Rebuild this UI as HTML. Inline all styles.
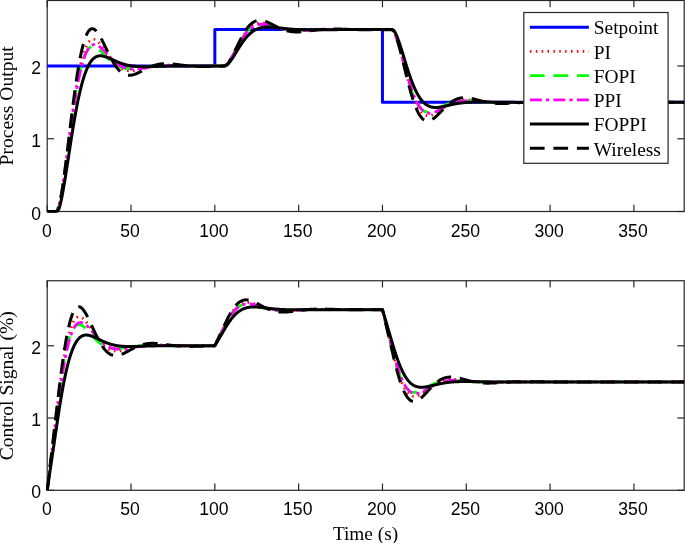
<!DOCTYPE html><html><head><meta charset="utf-8"><style>html,body{margin:0;padding:0;background:#fff;overflow:hidden}svg{display:block;will-change:transform}</style></head><body>
<svg width="685" height="543" viewBox="0 0 685 543">
<rect width="685" height="543" fill="#fff"/>
<defs><clipPath id="ct"><rect x="46.2" y="-0.5" width="639.0" height="213.0"/></clipPath><clipPath id="cb"><rect x="46.2" y="279.8" width="639.0" height="211.6"/></clipPath></defs>
<g stroke="#262626" stroke-width="1.2" fill="none"><line x1="47.20" y1="211.5" x2="47.20" y2="204.7"/><line x1="47.20" y1="0.5" x2="47.20" y2="7.3"/><line x1="131.02" y1="211.5" x2="131.02" y2="204.7"/><line x1="131.02" y1="0.5" x2="131.02" y2="7.3"/><line x1="214.83" y1="211.5" x2="214.83" y2="204.7"/><line x1="214.83" y1="0.5" x2="214.83" y2="7.3"/><line x1="298.65" y1="211.5" x2="298.65" y2="204.7"/><line x1="298.65" y1="0.5" x2="298.65" y2="7.3"/><line x1="382.46" y1="211.5" x2="382.46" y2="204.7"/><line x1="382.46" y1="0.5" x2="382.46" y2="7.3"/><line x1="466.28" y1="211.5" x2="466.28" y2="204.7"/><line x1="466.28" y1="0.5" x2="466.28" y2="7.3"/><line x1="550.09" y1="211.5" x2="550.09" y2="204.7"/><line x1="550.09" y1="0.5" x2="550.09" y2="7.3"/><line x1="633.91" y1="211.5" x2="633.91" y2="204.7"/><line x1="633.91" y1="0.5" x2="633.91" y2="7.3"/><line x1="47.2" y1="211.50" x2="54.0" y2="211.50"/><line x1="684.2" y1="211.50" x2="677.4000000000001" y2="211.50"/><line x1="47.2" y1="138.74" x2="54.0" y2="138.74"/><line x1="684.2" y1="138.74" x2="677.4000000000001" y2="138.74"/><line x1="47.2" y1="65.98" x2="54.0" y2="65.98"/><line x1="684.2" y1="65.98" x2="677.4000000000001" y2="65.98"/><rect x="47.2" y="0.5" width="637.00" height="211.00" fill="none"/></g>
<g stroke="#262626" stroke-width="1.2" fill="none"><line x1="47.20" y1="490.3" x2="47.20" y2="483.5"/><line x1="47.20" y1="280.75" x2="47.20" y2="287.55"/><line x1="131.02" y1="490.3" x2="131.02" y2="483.5"/><line x1="131.02" y1="280.75" x2="131.02" y2="287.55"/><line x1="214.83" y1="490.3" x2="214.83" y2="483.5"/><line x1="214.83" y1="280.75" x2="214.83" y2="287.55"/><line x1="298.65" y1="490.3" x2="298.65" y2="483.5"/><line x1="298.65" y1="280.75" x2="298.65" y2="287.55"/><line x1="382.46" y1="490.3" x2="382.46" y2="483.5"/><line x1="382.46" y1="280.75" x2="382.46" y2="287.55"/><line x1="466.28" y1="490.3" x2="466.28" y2="483.5"/><line x1="466.28" y1="280.75" x2="466.28" y2="287.55"/><line x1="550.09" y1="490.3" x2="550.09" y2="483.5"/><line x1="550.09" y1="280.75" x2="550.09" y2="287.55"/><line x1="633.91" y1="490.3" x2="633.91" y2="483.5"/><line x1="633.91" y1="280.75" x2="633.91" y2="287.55"/><line x1="47.2" y1="490.30" x2="54.0" y2="490.30"/><line x1="684.2" y1="490.30" x2="677.4000000000001" y2="490.30"/><line x1="47.2" y1="418.04" x2="54.0" y2="418.04"/><line x1="684.2" y1="418.04" x2="677.4000000000001" y2="418.04"/><line x1="47.2" y1="345.78" x2="54.0" y2="345.78"/><line x1="684.2" y1="345.78" x2="677.4000000000001" y2="345.78"/><rect x="47.2" y="280.75" width="637.00" height="209.55" fill="none"/></g>
<g fill="none" stroke-linejoin="round" clip-path="url(#ct)">
<path d="M47.20,65.98 L214.83,65.98 L214.83,29.60 L382.46,29.60 L382.46,102.36 L684.20,102.36" style="stroke:#0000ff;stroke-width:3"/>
<path d="M47.20,211.50 L47.62,211.50 L48.04,211.50 L48.46,211.50 L48.88,211.50 L49.30,211.50 L49.71,211.50 L50.13,211.50 L50.55,211.50 L50.97,211.50 L51.39,211.50 L51.81,211.50 L52.23,211.50 L52.65,211.50 L53.07,211.50 L53.49,211.50 L53.91,211.50 L54.32,211.50 L54.74,211.50 L55.16,211.49 L55.58,211.42 L56.00,211.23 L56.42,210.90 L56.84,210.40 L57.26,209.72 L57.68,208.84 L58.10,207.77 L58.52,206.52 L58.93,205.08 L59.35,203.47 L59.77,201.70 L60.19,199.77 L60.61,197.69 L61.03,195.48 L61.45,193.15 L61.87,190.70 L62.29,188.14 L62.71,185.49 L63.12,182.76 L63.54,179.94 L63.96,177.05 L64.38,174.10 L64.80,171.09 L65.22,168.03 L65.64,164.93 L66.06,161.78 L66.48,158.61 L66.90,155.41 L67.32,152.19 L67.73,148.96 L68.15,145.72 L68.57,142.47 L68.99,139.23 L69.41,135.99 L69.83,132.76 L70.25,129.55 L70.67,126.36 L71.09,123.20 L71.51,120.06 L71.93,116.96 L72.34,113.89 L72.76,110.87 L73.18,107.88 L73.60,104.94 L74.02,102.05 L74.44,99.21 L74.86,96.43 L75.28,93.70 L75.70,91.03 L76.12,88.42 L76.54,85.87 L76.95,83.39 L77.37,80.97 L77.79,78.61 L78.21,76.33 L78.63,74.11 L79.05,71.97 L79.47,69.89 L79.89,67.89 L80.31,65.95 L80.73,64.09 L81.15,62.30 L81.56,60.59 L81.98,58.94 L82.40,57.37 L82.82,55.87 L83.24,54.44 L83.66,53.08 L84.08,51.79 L84.50,50.57 L84.92,49.42 L85.34,48.34 L85.76,47.33 L86.17,46.38 L86.59,45.50 L87.01,44.69 L87.43,43.93 L87.85,43.24 L88.27,42.61 L88.69,42.04 L89.11,41.53 L89.53,41.07 L89.95,40.68 L90.37,40.33 L90.78,40.04 L91.20,39.80 L91.62,39.60 L92.04,39.46 L92.46,39.36 L92.88,39.31 L93.30,39.30 L93.72,39.34 L94.14,39.41 L94.56,39.52 L94.97,39.67 L95.39,39.85 L95.81,40.07 L96.23,40.32 L96.65,40.60 L97.07,40.91 L97.49,41.25 L97.91,41.61 L98.33,42.00 L98.75,42.41 L99.17,42.84 L99.58,43.29 L100.00,43.76 L100.42,44.25 L100.84,44.75 L101.26,45.27 L101.68,45.80 L102.10,46.34 L102.52,46.89 L102.94,47.45 L103.36,48.02 L103.78,48.59 L104.19,49.17 L104.61,49.76 L105.03,50.35 L105.45,50.94 L105.87,51.53 L106.29,52.13 L106.71,52.72 L107.13,53.31 L107.55,53.90 L107.97,54.49 L108.39,55.07 L108.80,55.65 L109.22,56.22 L109.64,56.78 L110.06,57.34 L110.48,57.90 L110.90,58.44 L111.32,58.97 L111.74,59.50 L112.16,60.02 L112.58,60.53 L113.00,61.02 L113.41,61.51 L113.83,61.98 L114.25,62.45 L114.67,62.90 L115.09,63.34 L115.51,63.76 L115.93,64.18 L116.35,64.58 L116.77,64.97 L117.19,65.35 L117.61,65.71 L118.02,66.06 L118.44,66.40 L118.86,66.72 L119.28,67.04 L119.70,67.33 L120.12,67.62 L120.54,67.89 L120.96,68.15 L121.38,68.39 L121.80,68.63 L122.22,68.85 L122.63,69.05 L123.05,69.25 L123.47,69.43 L123.89,69.60 L124.31,69.76 L124.73,69.91 L125.15,70.04 L125.57,70.17 L125.99,70.28 L126.41,70.38 L126.83,70.47 L127.24,70.55 L127.66,70.62 L128.08,70.68 L128.50,70.74 L128.92,70.78 L129.34,70.81 L129.76,70.84 L130.18,70.85 L130.60,70.86 L131.02,70.86 L131.43,70.85 L131.85,70.84 L132.27,70.81 L132.69,70.79 L133.11,70.75 L133.53,70.71 L133.95,70.66 L134.37,70.61 L134.79,70.55 L135.21,70.49 L135.63,70.42 L136.04,70.35 L136.46,70.28 L136.88,70.20 L137.30,70.11 L137.72,70.03 L138.14,69.94 L138.56,69.84 L138.98,69.75 L139.40,69.65 L139.82,69.55 L140.24,69.45 L140.65,69.35 L141.07,69.24 L141.49,69.14 L141.91,69.03 L142.33,68.93 L142.75,68.82 L143.17,68.71 L143.59,68.60 L144.01,68.49 L144.43,68.38 L144.85,68.28 L145.26,68.17 L145.68,68.06 L146.10,67.96 L146.52,67.85 L146.94,67.75 L147.36,67.64 L147.78,67.54 L148.20,67.44 L148.62,67.34 L149.04,67.24 L149.46,67.15 L149.87,67.05 L150.29,66.96 L150.71,66.87 L151.13,66.78 L151.55,66.70 L151.97,66.61 L152.39,66.53 L152.81,66.45 L153.23,66.37 L153.65,66.30 L154.07,66.22 L154.48,66.15 L154.90,66.08 L155.32,66.02 L155.74,65.95 L156.16,65.89 L156.58,65.83 L157.00,65.78 L157.42,65.72 L157.84,65.67 L158.26,65.62 L158.68,65.58 L159.09,65.53 L159.51,65.49 L159.93,65.45 L160.35,65.41 L160.77,65.38 L161.19,65.35 L161.61,65.31 L162.03,65.29 L162.45,65.26 L162.87,65.24 L163.28,65.21 L163.70,65.19 L164.12,65.18 L164.54,65.16 L164.96,65.14 L165.38,65.13 L165.80,65.12 L166.22,65.11 L166.64,65.10 L167.06,65.10 L167.48,65.09 L167.89,65.09 L168.31,65.09 L168.73,65.09 L169.15,65.09 L169.57,65.10 L169.99,65.10 L170.41,65.11 L170.83,65.11 L171.25,65.12 L171.67,65.13 L172.09,65.14 L172.50,65.15 L172.92,65.16 L173.34,65.17 L173.76,65.19 L174.18,65.20 L174.60,65.22 L175.02,65.23 L175.44,65.25 L175.86,65.26 L176.28,65.28 L176.70,65.30 L177.11,65.32 L177.53,65.33 L177.95,65.35 L178.37,65.37 L178.79,65.39 L179.21,65.41 L179.63,65.43 L180.05,65.45 L180.47,65.47 L180.89,65.49 L181.31,65.51 L181.72,65.53 L182.14,65.55 L182.56,65.57 L182.98,65.59 L183.40,65.61 L183.82,65.63 L184.24,65.65 L184.66,65.66 L185.08,65.68 L185.50,65.70 L185.92,65.72 L186.33,65.74 L186.75,65.76 L187.17,65.77 L187.59,65.79 L188.01,65.81 L188.43,65.82 L188.85,65.84 L189.27,65.86 L189.69,65.87 L190.11,65.89 L190.52,65.90 L190.94,65.91 L191.36,65.93 L191.78,65.94 L192.20,65.95 L192.62,65.97 L193.04,65.98 L193.46,65.99 L193.88,66.00 L194.30,66.01 L194.72,66.02 L195.13,66.03 L195.55,66.04 L195.97,66.05 L196.39,66.06 L196.81,66.07 L197.23,66.07 L197.65,66.08 L198.07,66.09 L198.49,66.09 L198.91,66.10 L199.33,66.11 L199.74,66.11 L200.16,66.12 L200.58,66.12 L201.00,66.12 L201.42,66.13 L201.84,66.13 L202.26,66.13 L202.68,66.14 L203.10,66.14 L203.52,66.14 L203.94,66.14 L204.35,66.14 L204.77,66.14 L205.19,66.15 L205.61,66.15 L206.03,66.15 L206.45,66.15 L206.87,66.15 L207.29,66.14 L207.71,66.14 L208.13,66.14 L208.55,66.14 L208.96,66.14 L209.38,66.14 L209.80,66.14 L210.22,66.13 L210.64,66.13 L211.06,66.13 L211.48,66.13 L211.90,66.13 L212.32,66.12 L212.74,66.12 L213.16,66.12 L213.57,66.11 L213.99,66.11 L214.41,66.11 L214.83,66.10 L215.25,66.10 L215.67,66.10 L216.09,66.09 L216.51,66.09 L216.93,66.09 L217.35,66.08 L217.77,66.08 L218.18,66.08 L218.60,66.07 L219.02,66.07 L219.44,66.07 L219.86,66.06 L220.28,66.06 L220.70,66.05 L221.12,66.05 L221.54,66.05 L221.96,66.04 L222.38,66.04 L222.79,66.03 L223.21,66.01 L223.63,65.96 L224.05,65.88 L224.47,65.75 L224.89,65.57 L225.31,65.35 L225.73,65.08 L226.15,64.77 L226.57,64.40 L226.98,64.00 L227.40,63.55 L227.82,63.07 L228.24,62.54 L228.66,61.99 L229.08,61.40 L229.50,60.79 L229.92,60.15 L230.34,59.48 L230.76,58.80 L231.18,58.09 L231.59,57.37 L232.01,56.63 L232.43,55.87 L232.85,55.11 L233.27,54.33 L233.69,53.54 L234.11,52.75 L234.53,51.94 L234.95,51.14 L235.37,50.33 L235.79,49.52 L236.20,48.70 L236.62,47.89 L237.04,47.08 L237.46,46.27 L237.88,45.47 L238.30,44.67 L238.72,43.88 L239.14,43.10 L239.56,42.32 L239.98,41.55 L240.40,40.80 L240.81,40.05 L241.23,39.31 L241.65,38.59 L242.07,37.88 L242.49,37.19 L242.91,36.50 L243.33,35.84 L243.75,35.18 L244.17,34.55 L244.59,33.92 L245.01,33.32 L245.42,32.73 L245.84,32.16 L246.26,31.61 L246.68,31.07 L247.10,30.55 L247.52,30.05 L247.94,29.57 L248.36,29.10 L248.78,28.66 L249.20,28.23 L249.62,27.82 L250.03,27.42 L250.45,27.05 L250.87,26.69 L251.29,26.35 L251.71,26.03 L252.13,25.73 L252.55,25.44 L252.97,25.17 L253.39,24.92 L253.81,24.68 L254.23,24.46 L254.64,24.26 L255.06,24.07 L255.48,23.90 L255.90,23.74 L256.32,23.60 L256.74,23.47 L257.16,23.36 L257.58,23.26 L258.00,23.18 L258.42,23.10 L258.83,23.04 L259.25,23.00 L259.67,22.96 L260.09,22.94 L260.51,22.93 L260.93,22.92 L261.35,22.93 L261.77,22.95 L262.19,22.98 L262.61,23.02 L263.03,23.06 L263.44,23.12 L263.86,23.18 L264.28,23.25 L264.70,23.33 L265.12,23.42 L265.54,23.51 L265.96,23.60 L266.38,23.71 L266.80,23.82 L267.22,23.93 L267.64,24.05 L268.05,24.17 L268.47,24.29 L268.89,24.42 L269.31,24.56 L269.73,24.69 L270.15,24.83 L270.57,24.97 L270.99,25.11 L271.41,25.26 L271.83,25.40 L272.25,25.55 L272.66,25.70 L273.08,25.85 L273.50,25.99 L273.92,26.14 L274.34,26.29 L274.76,26.44 L275.18,26.59 L275.60,26.73 L276.02,26.88 L276.44,27.02 L276.86,27.17 L277.27,27.31 L277.69,27.45 L278.11,27.59 L278.53,27.72 L278.95,27.86 L279.37,27.99 L279.79,28.12 L280.21,28.24 L280.63,28.37 L281.05,28.49 L281.47,28.61 L281.88,28.72 L282.30,28.84 L282.72,28.95 L283.14,29.05 L283.56,29.16 L283.98,29.26 L284.40,29.36 L284.82,29.45 L285.24,29.54 L285.66,29.63 L286.07,29.71 L286.49,29.79 L286.91,29.87 L287.33,29.95 L287.75,30.02 L288.17,30.08 L288.59,30.15 L289.01,30.21 L289.43,30.27 L289.85,30.32 L290.27,30.38 L290.68,30.42 L291.10,30.47 L291.52,30.51 L291.94,30.55 L292.36,30.59 L292.78,30.62 L293.20,30.65 L293.62,30.68 L294.04,30.71 L294.46,30.73 L294.88,30.75 L295.29,30.77 L295.71,30.78 L296.13,30.79 L296.55,30.80 L296.97,30.81 L297.39,30.82 L297.81,30.82 L298.23,30.82 L298.65,30.82 L299.07,30.82 L299.49,30.82 L299.90,30.81 L300.32,30.81 L300.74,30.80 L301.16,30.79 L301.58,30.77 L302.00,30.76 L302.42,30.75 L302.84,30.73 L303.26,30.71 L303.68,30.70 L304.10,30.68 L304.51,30.66 L304.93,30.64 L305.35,30.61 L305.77,30.59 L306.19,30.57 L306.61,30.55 L307.03,30.52 L307.45,30.50 L307.87,30.47 L308.29,30.44 L308.71,30.42 L309.12,30.39 L309.54,30.37 L309.96,30.34 L310.38,30.31 L310.80,30.28 L311.22,30.26 L311.64,30.23 L312.06,30.20 L312.48,30.18 L312.90,30.15 L313.32,30.12 L313.73,30.10 L314.15,30.07 L314.57,30.04 L314.99,30.02 L315.41,29.99 L315.83,29.97 L316.25,29.94 L316.67,29.92 L317.09,29.89 L317.51,29.87 L317.93,29.85 L318.34,29.82 L318.76,29.80 L319.18,29.78 L319.60,29.76 L320.02,29.74 L320.44,29.72 L320.86,29.70 L321.28,29.68 L321.70,29.66 L322.12,29.64 L322.53,29.63 L322.95,29.61 L323.37,29.60 L323.79,29.58 L324.21,29.57 L324.63,29.55 L325.05,29.54 L325.47,29.53 L325.89,29.51 L326.31,29.50 L326.73,29.49 L327.14,29.48 L327.56,29.47 L327.98,29.46 L328.40,29.45 L328.82,29.44 L329.24,29.44 L329.66,29.43 L330.08,29.42 L330.50,29.42 L330.92,29.41 L331.34,29.41 L331.75,29.40 L332.17,29.40 L332.59,29.39 L333.01,29.39 L333.43,29.39 L333.85,29.39 L334.27,29.38 L334.69,29.38 L335.11,29.38 L335.53,29.38 L335.95,29.38 L336.36,29.38 L336.78,29.38 L337.20,29.38 L337.62,29.38 L338.04,29.38 L338.46,29.39 L338.88,29.39 L339.30,29.39 L339.72,29.39 L340.14,29.40 L340.56,29.40 L340.97,29.40 L341.39,29.40 L341.81,29.41 L342.23,29.41 L342.65,29.42 L343.07,29.42 L343.49,29.42 L343.91,29.43 L344.33,29.43 L344.75,29.44 L345.17,29.44 L345.58,29.45 L346.00,29.45 L346.42,29.46 L346.84,29.46 L347.26,29.47 L347.68,29.47 L348.10,29.48 L348.52,29.48 L348.94,29.48 L349.36,29.49 L349.77,29.49 L350.19,29.50 L350.61,29.50 L351.03,29.51 L351.45,29.51 L351.87,29.52 L352.29,29.52 L352.71,29.53 L353.13,29.53 L353.55,29.54 L353.97,29.54 L354.38,29.55 L354.80,29.55 L355.22,29.56 L355.64,29.56 L356.06,29.56 L356.48,29.57 L356.90,29.57 L357.32,29.58 L357.74,29.58 L358.16,29.58 L358.58,29.59 L358.99,29.59 L359.41,29.59 L359.83,29.60 L360.25,29.60 L360.67,29.60 L361.09,29.61 L361.51,29.61 L361.93,29.61 L362.35,29.61 L362.77,29.62 L363.19,29.62 L363.60,29.62 L364.02,29.62 L364.44,29.62 L364.86,29.63 L365.28,29.63 L365.70,29.63 L366.12,29.63 L366.54,29.63 L366.96,29.63 L367.38,29.64 L367.80,29.64 L368.21,29.64 L368.63,29.64 L369.05,29.64 L369.47,29.64 L369.89,29.64 L370.31,29.64 L370.73,29.64 L371.15,29.64 L371.57,29.64 L371.99,29.64 L372.41,29.64 L372.82,29.64 L373.24,29.64 L373.66,29.64 L374.08,29.64 L374.50,29.64 L374.92,29.64 L375.34,29.64 L375.76,29.64 L376.18,29.64 L376.60,29.64 L377.02,29.64 L377.43,29.64 L377.85,29.64 L378.27,29.64 L378.69,29.64 L379.11,29.64 L379.53,29.64 L379.95,29.64 L380.37,29.64 L380.79,29.64 L381.21,29.64 L381.62,29.64 L382.04,29.63 L382.46,29.63 L382.88,29.63 L383.30,29.63 L383.72,29.63 L384.14,29.63 L384.56,29.63 L384.98,29.63 L385.40,29.63 L385.82,29.63 L386.23,29.63 L386.65,29.62 L387.07,29.62 L387.49,29.62 L387.91,29.62 L388.33,29.62 L388.75,29.62 L389.17,29.62 L389.59,29.62 L390.01,29.62 L390.43,29.62 L390.84,29.66 L391.26,29.75 L391.68,29.91 L392.10,30.16 L392.52,30.50 L392.94,30.94 L393.36,31.47 L393.78,32.10 L394.20,32.82 L394.62,33.62 L395.04,34.51 L395.45,35.47 L395.87,36.51 L396.29,37.62 L396.71,38.78 L397.13,40.01 L397.55,41.28 L397.97,42.61 L398.39,43.98 L398.81,45.38 L399.23,46.83 L399.65,48.30 L400.06,49.81 L400.48,51.34 L400.90,52.89 L401.32,54.46 L401.74,56.05 L402.16,57.64 L402.58,59.25 L403.00,60.87 L403.42,62.49 L403.84,64.11 L404.26,65.74 L404.67,67.35 L405.09,68.97 L405.51,70.57 L405.93,72.16 L406.35,73.75 L406.77,75.31 L407.19,76.87 L407.61,78.40 L408.03,79.91 L408.45,81.41 L408.87,82.87 L409.28,84.32 L409.70,85.74 L410.12,87.13 L410.54,88.50 L410.96,89.83 L411.38,91.14 L411.80,92.41 L412.22,93.65 L412.64,94.86 L413.06,96.04 L413.47,97.18 L413.89,98.29 L414.31,99.36 L414.73,100.40 L415.15,101.40 L415.57,102.37 L415.99,103.30 L416.41,104.20 L416.83,105.05 L417.25,105.88 L417.67,106.66 L418.08,107.41 L418.50,108.13 L418.92,108.81 L419.34,109.45 L419.76,110.06 L420.18,110.64 L420.60,111.18 L421.02,111.68 L421.44,112.16 L421.86,112.60 L422.28,113.01 L422.69,113.38 L423.11,113.73 L423.53,114.04 L423.95,114.33 L424.37,114.58 L424.79,114.81 L425.21,115.01 L425.63,115.18 L426.05,115.33 L426.47,115.45 L426.89,115.55 L427.30,115.62 L427.72,115.67 L428.14,115.69 L428.56,115.70 L428.98,115.68 L429.40,115.65 L429.82,115.59 L430.24,115.52 L430.66,115.43 L431.08,115.32 L431.50,115.19 L431.91,115.05 L432.33,114.90 L432.75,114.73 L433.17,114.55 L433.59,114.35 L434.01,114.15 L434.43,113.93 L434.85,113.71 L435.27,113.47 L435.69,113.23 L436.11,112.98 L436.52,112.72 L436.94,112.46 L437.36,112.19 L437.78,111.91 L438.20,111.63 L438.62,111.34 L439.04,111.06 L439.46,110.77 L439.88,110.47 L440.30,110.18 L440.72,109.88 L441.13,109.59 L441.55,109.29 L441.97,108.99 L442.39,108.70 L442.81,108.40 L443.23,108.11 L443.65,107.82 L444.07,107.53 L444.49,107.25 L444.91,106.96 L445.32,106.68 L445.74,106.41 L446.16,106.13 L446.58,105.87 L447.00,105.60 L447.42,105.35 L447.84,105.09 L448.26,104.84 L448.68,104.60 L449.10,104.36 L449.52,104.13 L449.93,103.91 L450.35,103.69 L450.77,103.47 L451.19,103.27 L451.61,103.06 L452.03,102.87 L452.45,102.68 L452.87,102.50 L453.29,102.32 L453.71,102.15 L454.13,101.99 L454.54,101.84 L454.96,101.69 L455.38,101.55 L455.80,101.41 L456.22,101.28 L456.64,101.16 L457.06,101.04 L457.48,100.93 L457.90,100.83 L458.32,100.73 L458.74,100.64 L459.15,100.55 L459.57,100.47 L459.99,100.40 L460.41,100.33 L460.83,100.27 L461.25,100.22 L461.67,100.16 L462.09,100.12 L462.51,100.08 L462.93,100.04 L463.35,100.01 L463.76,99.99 L464.18,99.97 L464.60,99.95 L465.02,99.94 L465.44,99.93 L465.86,99.92 L466.28,99.92 L466.70,99.93 L467.12,99.94 L467.54,99.95 L467.96,99.96 L468.37,99.98 L468.79,100.00 L469.21,100.02 L469.63,100.05 L470.05,100.08 L470.47,100.11 L470.89,100.14 L471.31,100.18 L471.73,100.22 L472.15,100.26 L472.57,100.30 L472.98,100.34 L473.40,100.39 L473.82,100.43 L474.24,100.48 L474.66,100.53 L475.08,100.58 L475.50,100.63 L475.92,100.68 L476.34,100.73 L476.76,100.78 L477.18,100.84 L477.59,100.89 L478.01,100.94 L478.43,101.00 L478.85,101.05 L479.27,101.11 L479.69,101.16 L480.11,101.22 L480.53,101.27 L480.95,101.32 L481.37,101.38 L481.78,101.43 L482.20,101.48 L482.62,101.53 L483.04,101.58 L483.46,101.63 L483.88,101.68 L484.30,101.73 L484.72,101.78 L485.14,101.83 L485.56,101.87 L485.98,101.92 L486.39,101.96 L486.81,102.01 L487.23,102.05 L487.65,102.09 L488.07,102.13 L488.49,102.17 L488.91,102.20 L489.33,102.24 L489.75,102.28 L490.17,102.31 L490.59,102.34 L491.00,102.38 L491.42,102.41 L491.84,102.44 L492.26,102.46 L492.68,102.49 L493.10,102.52 L493.52,102.54 L493.94,102.56 L494.36,102.59 L494.78,102.61 L495.20,102.63 L495.61,102.65 L496.03,102.66 L496.45,102.68 L496.87,102.70 L497.29,102.71 L497.71,102.72 L498.13,102.74 L498.55,102.75 L498.97,102.76 L499.39,102.77 L499.81,102.77 L500.22,102.78 L500.64,102.79 L501.06,102.79 L501.48,102.80 L501.90,102.80 L502.32,102.80 L502.74,102.81 L503.16,102.81 L503.58,102.81 L504.00,102.81 L504.42,102.81 L504.83,102.81 L505.25,102.80 L505.67,102.80 L506.09,102.80 L506.51,102.79 L506.93,102.79 L507.35,102.78 L507.77,102.78 L508.19,102.77 L508.61,102.77 L509.02,102.76 L509.44,102.75 L509.86,102.75 L510.28,102.74 L510.70,102.73 L511.12,102.72 L511.54,102.71 L511.96,102.70 L512.38,102.70 L512.80,102.69 L513.22,102.68 L513.63,102.67 L514.05,102.66 L514.47,102.65 L514.89,102.64 L515.31,102.63 L515.73,102.62 L516.15,102.61 L516.57,102.60 L516.99,102.59 L517.41,102.58 L517.83,102.57 L518.24,102.56 L518.66,102.55 L519.08,102.54 L519.50,102.53 L519.92,102.52 L520.34,102.51 L520.76,102.50 L521.18,102.49 L521.60,102.48 L522.02,102.48 L522.44,102.47 L522.85,102.46 L523.27,102.45 L523.69,102.44 L524.11,102.43 L524.53,102.43 L524.95,102.42 L525.37,102.41 L525.79,102.40 L526.21,102.40 L526.63,102.39 L527.05,102.38 L527.46,102.38 L527.88,102.37 L528.30,102.36 L528.72,102.36 L529.14,102.35 L529.56,102.35 L529.98,102.34 L530.40,102.34 L530.82,102.33 L531.24,102.33 L531.66,102.32 L532.07,102.32 L532.49,102.32 L532.91,102.31 L533.33,102.31 L533.75,102.31 L534.17,102.30 L534.59,102.30 L535.01,102.30 L535.43,102.30 L535.85,102.29 L536.27,102.29 L536.68,102.29 L537.10,102.29 L537.52,102.29 L537.94,102.29 L538.36,102.28 L538.78,102.28 L539.20,102.28 L539.62,102.28 L540.04,102.28 L540.46,102.28 L540.88,102.28 L541.29,102.28 L541.71,102.28 L542.13,102.28 L542.55,102.28 L542.97,102.28 L543.39,102.28 L543.81,102.28 L544.23,102.28 L544.65,102.28 L545.07,102.29 L545.48,102.29 L545.90,102.29 L546.32,102.29 L546.74,102.29 L547.16,102.29 L547.58,102.29 L548.00,102.29 L548.42,102.30 L548.84,102.30 L549.26,102.30 L549.68,102.30 L550.09,102.30 L550.51,102.30 L550.93,102.30 L551.35,102.31 L551.77,102.31 L552.19,102.31 L552.61,102.31 L553.03,102.31 L553.45,102.32 L553.87,102.32 L554.29,102.32 L554.70,102.32 L555.12,102.32 L555.54,102.32 L555.96,102.33 L556.38,102.33 L556.80,102.33 L557.22,102.33 L557.64,102.33 L558.06,102.34 L558.48,102.34 L558.90,102.34 L559.31,102.34 L559.73,102.34 L560.15,102.34 L560.57,102.34 L560.99,102.35 L561.41,102.35 L561.83,102.35 L562.25,102.35 L562.67,102.35 L563.09,102.35 L563.51,102.35 L563.92,102.36 L564.34,102.36 L564.76,102.36 L565.18,102.36 L565.60,102.36 L566.02,102.36 L566.44,102.36 L566.86,102.36 L567.28,102.36 L567.70,102.37 L568.12,102.37 L568.53,102.37 L568.95,102.37 L569.37,102.37 L569.79,102.37 L570.21,102.37 L570.63,102.37 L571.05,102.37 L571.47,102.37 L571.89,102.37 L572.31,102.37 L572.73,102.37 L573.14,102.37 L573.56,102.37 L573.98,102.38 L574.40,102.38 L574.82,102.38 L575.24,102.38 L575.66,102.38 L576.08,102.38 L576.50,102.38 L576.92,102.38 L577.33,102.38 L577.75,102.38 L578.17,102.38 L578.59,102.38 L579.01,102.38 L579.43,102.38 L579.85,102.38 L580.27,102.38 L580.69,102.38 L581.11,102.38 L581.53,102.38 L581.94,102.38 L582.36,102.38 L582.78,102.38 L583.20,102.38 L583.62,102.38 L584.04,102.38 L584.46,102.38 L584.88,102.38 L585.30,102.37 L585.72,102.37 L586.14,102.37 L586.55,102.37 L586.97,102.37 L587.39,102.37 L587.81,102.37 L588.23,102.37 L588.65,102.37 L589.07,102.37 L589.49,102.37 L589.91,102.37 L590.33,102.37 L590.75,102.37 L591.16,102.37 L591.58,102.37 L592.00,102.37 L592.42,102.37 L592.84,102.37 L593.26,102.37 L593.68,102.37 L594.10,102.37 L594.52,102.37 L594.94,102.37 L595.36,102.37 L595.77,102.37 L596.19,102.37 L596.61,102.37 L597.03,102.37 L597.45,102.37 L597.87,102.37 L598.29,102.37 L598.71,102.36 L599.13,102.36 L599.55,102.36 L599.97,102.36 L600.38,102.36 L600.80,102.36 L601.22,102.36 L601.64,102.36 L602.06,102.36 L602.48,102.36 L602.90,102.36 L603.32,102.36 L603.74,102.36 L604.16,102.36 L604.58,102.36 L604.99,102.36 L605.41,102.36 L605.83,102.36 L606.25,102.36 L606.67,102.36 L607.09,102.36 L607.51,102.36 L607.93,102.36 L608.35,102.36 L608.77,102.36 L609.18,102.36 L609.60,102.36 L610.02,102.36 L610.44,102.36 L610.86,102.36 L611.28,102.36 L611.70,102.36 L612.12,102.36 L612.54,102.36 L612.96,102.36 L613.38,102.36 L613.79,102.36 L614.21,102.36 L614.63,102.36 L615.05,102.36 L615.47,102.36 L615.89,102.36 L616.31,102.36 L616.73,102.36 L617.15,102.36 L617.57,102.36 L617.99,102.36 L618.40,102.36 L618.82,102.36 L619.24,102.36 L619.66,102.36 L620.08,102.36 L620.50,102.36 L620.92,102.36 L621.34,102.36 L621.76,102.36 L622.18,102.36 L622.60,102.36 L623.01,102.36 L623.43,102.36 L623.85,102.36 L624.27,102.36 L624.69,102.36 L625.11,102.36 L625.53,102.36 L625.95,102.36 L626.37,102.36 L626.79,102.36 L627.21,102.36 L627.62,102.36 L628.04,102.36 L628.46,102.36 L628.88,102.36 L629.30,102.36 L629.72,102.36 L630.14,102.36 L630.56,102.36 L630.98,102.36 L631.40,102.36 L631.82,102.36 L632.23,102.36 L632.65,102.36 L633.07,102.36 L633.49,102.36 L633.91,102.36 L634.33,102.36 L634.75,102.36 L635.17,102.36 L635.59,102.36 L636.01,102.36 L636.43,102.36 L636.84,102.36 L637.26,102.36 L637.68,102.36 L638.10,102.36 L638.52,102.36 L638.94,102.36 L639.36,102.36 L639.78,102.36 L640.20,102.36 L640.62,102.36 L641.03,102.36 L641.45,102.36 L641.87,102.36 L642.29,102.36 L642.71,102.36 L643.13,102.36 L643.55,102.36 L643.97,102.36 L644.39,102.36 L644.81,102.36 L645.23,102.36 L645.64,102.36 L646.06,102.36 L646.48,102.36 L646.90,102.36 L647.32,102.36 L647.74,102.36 L648.16,102.36 L648.58,102.36 L649.00,102.36 L649.42,102.36 L649.84,102.36 L650.25,102.36 L650.67,102.36 L651.09,102.36 L651.51,102.36 L651.93,102.36 L652.35,102.36 L652.77,102.36 L653.19,102.36 L653.61,102.36 L654.03,102.36 L654.45,102.36 L654.86,102.36 L655.28,102.36 L655.70,102.36 L656.12,102.36 L656.54,102.36 L656.96,102.36 L657.38,102.36 L657.80,102.36 L658.22,102.36 L658.64,102.36 L659.06,102.36 L659.47,102.36 L659.89,102.36 L660.31,102.36 L660.73,102.36 L661.15,102.36 L661.57,102.36 L661.99,102.36 L662.41,102.36 L662.83,102.36 L663.25,102.36 L663.67,102.36 L664.08,102.36 L664.50,102.36 L664.92,102.36 L665.34,102.36 L665.76,102.36 L666.18,102.36 L666.60,102.36 L667.02,102.36 L667.44,102.36 L667.86,102.36 L668.28,102.36 L668.69,102.36 L669.11,102.36 L669.53,102.36 L669.95,102.36 L670.37,102.36 L670.79,102.36 L671.21,102.36 L671.63,102.36 L672.05,102.36 L672.47,102.36 L672.88,102.36 L673.30,102.36 L673.72,102.36 L674.14,102.36 L674.56,102.36 L674.98,102.36 L675.40,102.36 L675.82,102.36 L676.24,102.36 L676.66,102.36 L677.08,102.36 L677.49,102.36 L677.91,102.36 L678.33,102.36 L678.75,102.36 L679.17,102.36 L679.59,102.36 L680.01,102.36 L680.43,102.36 L680.85,102.36 L681.27,102.36 L681.69,102.36 L682.10,102.36 L682.52,102.36 L682.94,102.36 L683.36,102.36 L683.78,102.36 L684.20,102.36" style="stroke:#ff0000;stroke-width:2.8;stroke-dasharray:1.5 4.375"/>
<path d="M47.20,211.50 L47.62,211.50 L48.04,211.50 L48.46,211.50 L48.88,211.50 L49.30,211.50 L49.71,211.50 L50.13,211.50 L50.55,211.50 L50.97,211.50 L51.39,211.50 L51.81,211.50 L52.23,211.50 L52.65,211.50 L53.07,211.50 L53.49,211.50 L53.91,211.50 L54.32,211.50 L54.74,211.50 L55.16,211.50 L55.58,211.44 L56.00,211.28 L56.42,210.97 L56.84,210.48 L57.26,209.80 L57.68,208.93 L58.10,207.86 L58.52,206.59 L58.93,205.13 L59.35,203.50 L59.77,201.69 L60.19,199.72 L60.61,197.61 L61.03,195.36 L61.45,192.99 L61.87,190.50 L62.29,187.90 L62.71,185.21 L63.12,182.43 L63.54,179.58 L63.96,176.65 L64.38,173.67 L64.80,170.62 L65.22,167.54 L65.64,164.41 L66.06,161.24 L66.48,158.05 L66.90,154.85 L67.32,151.62 L67.73,148.39 L68.15,145.16 L68.57,141.94 L68.99,138.72 L69.41,135.52 L69.83,132.34 L70.25,129.18 L70.67,126.06 L71.09,122.96 L71.51,119.91 L71.93,116.90 L72.34,113.93 L72.76,111.01 L73.18,108.14 L73.60,105.32 L74.02,102.56 L74.44,99.86 L74.86,97.23 L75.28,94.65 L75.70,92.14 L76.12,89.69 L76.54,87.32 L76.95,85.01 L77.37,82.77 L77.79,80.60 L78.21,78.50 L78.63,76.48 L79.05,74.52 L79.47,72.64 L79.89,70.83 L80.31,69.10 L80.73,67.43 L81.15,65.84 L81.56,64.32 L81.98,62.87 L82.40,61.49 L82.82,60.19 L83.24,58.95 L83.66,57.77 L84.08,56.67 L84.50,55.63 L84.92,54.65 L85.34,53.74 L85.76,52.90 L86.17,52.11 L86.59,51.38 L87.01,50.71 L87.43,50.10 L87.85,49.54 L88.27,49.04 L88.69,48.59 L89.11,48.19 L89.53,47.84 L89.95,47.54 L90.37,47.29 L90.78,47.08 L91.20,46.91 L91.62,46.78 L92.04,46.69 L92.46,46.64 L92.88,46.63 L93.30,46.65 L93.72,46.71 L94.14,46.80 L94.56,46.91 L94.97,47.06 L95.39,47.23 L95.81,47.43 L96.23,47.65 L96.65,47.90 L97.07,48.16 L97.49,48.45 L97.91,48.75 L98.33,49.07 L98.75,49.41 L99.17,49.76 L99.58,50.12 L100.00,50.50 L100.42,50.88 L100.84,51.28 L101.26,51.68 L101.68,52.09 L102.10,52.51 L102.52,52.93 L102.94,53.36 L103.36,53.78 L103.78,54.22 L104.19,54.65 L104.61,55.08 L105.03,55.52 L105.45,55.95 L105.87,56.38 L106.29,56.81 L106.71,57.24 L107.13,57.66 L107.55,58.08 L107.97,58.49 L108.39,58.90 L108.80,59.30 L109.22,59.70 L109.64,60.09 L110.06,60.47 L110.48,60.85 L110.90,61.21 L111.32,61.57 L111.74,61.92 L112.16,62.27 L112.58,62.60 L113.00,62.93 L113.41,63.24 L113.83,63.55 L114.25,63.84 L114.67,64.13 L115.09,64.41 L115.51,64.68 L115.93,64.94 L116.35,65.19 L116.77,65.43 L117.19,65.65 L117.61,65.87 L118.02,66.08 L118.44,66.28 L118.86,66.48 L119.28,66.66 L119.70,66.83 L120.12,66.99 L120.54,67.15 L120.96,67.29 L121.38,67.43 L121.80,67.55 L122.22,67.67 L122.63,67.78 L123.05,67.89 L123.47,67.98 L123.89,68.07 L124.31,68.15 L124.73,68.22 L125.15,68.28 L125.57,68.34 L125.99,68.39 L126.41,68.44 L126.83,68.47 L127.24,68.51 L127.66,68.53 L128.08,68.55 L128.50,68.57 L128.92,68.58 L129.34,68.58 L129.76,68.58 L130.18,68.58 L130.60,68.57 L131.02,68.55 L131.43,68.54 L131.85,68.52 L132.27,68.49 L132.69,68.46 L133.11,68.43 L133.53,68.40 L133.95,68.36 L134.37,68.32 L134.79,68.28 L135.21,68.24 L135.63,68.19 L136.04,68.14 L136.46,68.09 L136.88,68.04 L137.30,67.99 L137.72,67.94 L138.14,67.88 L138.56,67.83 L138.98,67.77 L139.40,67.71 L139.82,67.66 L140.24,67.60 L140.65,67.54 L141.07,67.48 L141.49,67.42 L141.91,67.37 L142.33,67.31 L142.75,67.25 L143.17,67.19 L143.59,67.14 L144.01,67.08 L144.43,67.02 L144.85,66.97 L145.26,66.91 L145.68,66.86 L146.10,66.81 L146.52,66.75 L146.94,66.70 L147.36,66.65 L147.78,66.60 L148.20,66.56 L148.62,66.51 L149.04,66.46 L149.46,66.42 L149.87,66.38 L150.29,66.33 L150.71,66.29 L151.13,66.25 L151.55,66.22 L151.97,66.18 L152.39,66.14 L152.81,66.11 L153.23,66.08 L153.65,66.05 L154.07,66.01 L154.48,65.99 L154.90,65.96 L155.32,65.93 L155.74,65.91 L156.16,65.88 L156.58,65.86 L157.00,65.84 L157.42,65.82 L157.84,65.80 L158.26,65.78 L158.68,65.77 L159.09,65.75 L159.51,65.74 L159.93,65.72 L160.35,65.71 L160.77,65.70 L161.19,65.69 L161.61,65.68 L162.03,65.67 L162.45,65.66 L162.87,65.66 L163.28,65.65 L163.70,65.65 L164.12,65.64 L164.54,65.64 L164.96,65.64 L165.38,65.63 L165.80,65.63 L166.22,65.63 L166.64,65.63 L167.06,65.63 L167.48,65.64 L167.89,65.64 L168.31,65.64 L168.73,65.64 L169.15,65.65 L169.57,65.65 L169.99,65.66 L170.41,65.66 L170.83,65.67 L171.25,65.67 L171.67,65.68 L172.09,65.68 L172.50,65.69 L172.92,65.70 L173.34,65.70 L173.76,65.71 L174.18,65.72 L174.60,65.72 L175.02,65.73 L175.44,65.74 L175.86,65.75 L176.28,65.75 L176.70,65.76 L177.11,65.77 L177.53,65.78 L177.95,65.78 L178.37,65.79 L178.79,65.80 L179.21,65.81 L179.63,65.82 L180.05,65.82 L180.47,65.83 L180.89,65.84 L181.31,65.85 L181.72,65.85 L182.14,65.86 L182.56,65.87 L182.98,65.87 L183.40,65.88 L183.82,65.89 L184.24,65.90 L184.66,65.90 L185.08,65.91 L185.50,65.91 L185.92,65.92 L186.33,65.93 L186.75,65.93 L187.17,65.94 L187.59,65.94 L188.01,65.95 L188.43,65.95 L188.85,65.96 L189.27,65.96 L189.69,65.97 L190.11,65.97 L190.52,65.98 L190.94,65.98 L191.36,65.98 L191.78,65.99 L192.20,65.99 L192.62,65.99 L193.04,66.00 L193.46,66.00 L193.88,66.00 L194.30,66.01 L194.72,66.01 L195.13,66.01 L195.55,66.01 L195.97,66.01 L196.39,66.02 L196.81,66.02 L197.23,66.02 L197.65,66.02 L198.07,66.02 L198.49,66.02 L198.91,66.03 L199.33,66.03 L199.74,66.03 L200.16,66.03 L200.58,66.03 L201.00,66.03 L201.42,66.03 L201.84,66.03 L202.26,66.03 L202.68,66.03 L203.10,66.03 L203.52,66.03 L203.94,66.03 L204.35,66.03 L204.77,66.03 L205.19,66.03 L205.61,66.03 L206.03,66.03 L206.45,66.03 L206.87,66.03 L207.29,66.03 L207.71,66.03 L208.13,66.02 L208.55,66.02 L208.96,66.02 L209.38,66.02 L209.80,66.02 L210.22,66.02 L210.64,66.02 L211.06,66.02 L211.48,66.02 L211.90,66.02 L212.32,66.02 L212.74,66.01 L213.16,66.01 L213.57,66.01 L213.99,66.01 L214.41,66.01 L214.83,66.01 L215.25,66.01 L215.67,66.01 L216.09,66.01 L216.51,66.00 L216.93,66.00 L217.35,66.00 L217.77,66.00 L218.18,66.00 L218.60,66.00 L219.02,66.00 L219.44,66.00 L219.86,66.00 L220.28,66.00 L220.70,66.00 L221.12,65.99 L221.54,65.99 L221.96,65.99 L222.38,65.99 L222.79,65.99 L223.21,65.98 L223.63,65.93 L224.05,65.85 L224.47,65.73 L224.89,65.56 L225.31,65.34 L225.73,65.07 L226.15,64.76 L226.57,64.39 L226.98,63.98 L227.40,63.53 L227.82,63.04 L228.24,62.51 L228.66,61.95 L229.08,61.35 L229.50,60.73 L229.92,60.08 L230.34,59.41 L230.76,58.71 L231.18,58.00 L231.59,57.27 L232.01,56.52 L232.43,55.76 L232.85,54.99 L233.27,54.20 L233.69,53.41 L234.11,52.62 L234.53,51.81 L234.95,51.01 L235.37,50.20 L235.79,49.39 L236.20,48.59 L236.62,47.78 L237.04,46.98 L237.46,46.19 L237.88,45.40 L238.30,44.62 L238.72,43.84 L239.14,43.08 L239.56,42.33 L239.98,41.58 L240.40,40.85 L240.81,40.14 L241.23,39.43 L241.65,38.74 L242.07,38.07 L242.49,37.41 L242.91,36.76 L243.33,36.14 L243.75,35.53 L244.17,34.93 L244.59,34.35 L245.01,33.79 L245.42,33.25 L245.84,32.73 L246.26,32.22 L246.68,31.73 L247.10,31.26 L247.52,30.81 L247.94,30.38 L248.36,29.96 L248.78,29.56 L249.20,29.18 L249.62,28.82 L250.03,28.48 L250.45,28.15 L250.87,27.84 L251.29,27.55 L251.71,27.27 L252.13,27.01 L252.55,26.77 L252.97,26.54 L253.39,26.33 L253.81,26.13 L254.23,25.95 L254.64,25.78 L255.06,25.63 L255.48,25.49 L255.90,25.37 L256.32,25.25 L256.74,25.15 L257.16,25.07 L257.58,24.99 L258.00,24.93 L258.42,24.88 L258.83,24.83 L259.25,24.80 L259.67,24.78 L260.09,24.77 L260.51,24.76 L260.93,24.77 L261.35,24.78 L261.77,24.81 L262.19,24.84 L262.61,24.87 L263.03,24.92 L263.44,24.96 L263.86,25.02 L264.28,25.08 L264.70,25.15 L265.12,25.22 L265.54,25.30 L265.96,25.38 L266.38,25.46 L266.80,25.55 L267.22,25.64 L267.64,25.73 L268.05,25.83 L268.47,25.93 L268.89,26.03 L269.31,26.13 L269.73,26.24 L270.15,26.34 L270.57,26.45 L270.99,26.55 L271.41,26.66 L271.83,26.77 L272.25,26.88 L272.66,26.99 L273.08,27.10 L273.50,27.20 L273.92,27.31 L274.34,27.42 L274.76,27.52 L275.18,27.63 L275.60,27.73 L276.02,27.83 L276.44,27.93 L276.86,28.03 L277.27,28.13 L277.69,28.23 L278.11,28.32 L278.53,28.41 L278.95,28.50 L279.37,28.59 L279.79,28.68 L280.21,28.76 L280.63,28.84 L281.05,28.92 L281.47,29.00 L281.88,29.07 L282.30,29.14 L282.72,29.21 L283.14,29.28 L283.56,29.34 L283.98,29.40 L284.40,29.46 L284.82,29.52 L285.24,29.58 L285.66,29.63 L286.07,29.68 L286.49,29.73 L286.91,29.77 L287.33,29.82 L287.75,29.86 L288.17,29.89 L288.59,29.93 L289.01,29.96 L289.43,30.00 L289.85,30.03 L290.27,30.05 L290.68,30.08 L291.10,30.10 L291.52,30.13 L291.94,30.14 L292.36,30.16 L292.78,30.18 L293.20,30.19 L293.62,30.21 L294.04,30.22 L294.46,30.23 L294.88,30.23 L295.29,30.24 L295.71,30.25 L296.13,30.25 L296.55,30.25 L296.97,30.25 L297.39,30.25 L297.81,30.25 L298.23,30.25 L298.65,30.25 L299.07,30.24 L299.49,30.24 L299.90,30.23 L300.32,30.22 L300.74,30.22 L301.16,30.21 L301.58,30.20 L302.00,30.19 L302.42,30.18 L302.84,30.17 L303.26,30.16 L303.68,30.14 L304.10,30.13 L304.51,30.12 L304.93,30.11 L305.35,30.09 L305.77,30.08 L306.19,30.06 L306.61,30.05 L307.03,30.04 L307.45,30.02 L307.87,30.01 L308.29,29.99 L308.71,29.98 L309.12,29.96 L309.54,29.95 L309.96,29.93 L310.38,29.92 L310.80,29.91 L311.22,29.89 L311.64,29.88 L312.06,29.86 L312.48,29.85 L312.90,29.84 L313.32,29.82 L313.73,29.81 L314.15,29.80 L314.57,29.78 L314.99,29.77 L315.41,29.76 L315.83,29.75 L316.25,29.74 L316.67,29.72 L317.09,29.71 L317.51,29.70 L317.93,29.69 L318.34,29.68 L318.76,29.67 L319.18,29.66 L319.60,29.65 L320.02,29.64 L320.44,29.64 L320.86,29.63 L321.28,29.62 L321.70,29.61 L322.12,29.60 L322.53,29.60 L322.95,29.59 L323.37,29.58 L323.79,29.58 L324.21,29.57 L324.63,29.57 L325.05,29.56 L325.47,29.56 L325.89,29.55 L326.31,29.55 L326.73,29.55 L327.14,29.54 L327.56,29.54 L327.98,29.54 L328.40,29.53 L328.82,29.53 L329.24,29.53 L329.66,29.53 L330.08,29.52 L330.50,29.52 L330.92,29.52 L331.34,29.52 L331.75,29.52 L332.17,29.52 L332.59,29.52 L333.01,29.52 L333.43,29.52 L333.85,29.52 L334.27,29.52 L334.69,29.52 L335.11,29.52 L335.53,29.52 L335.95,29.52 L336.36,29.52 L336.78,29.52 L337.20,29.52 L337.62,29.52 L338.04,29.52 L338.46,29.52 L338.88,29.53 L339.30,29.53 L339.72,29.53 L340.14,29.53 L340.56,29.53 L340.97,29.53 L341.39,29.53 L341.81,29.54 L342.23,29.54 L342.65,29.54 L343.07,29.54 L343.49,29.54 L343.91,29.55 L344.33,29.55 L344.75,29.55 L345.17,29.55 L345.58,29.55 L346.00,29.56 L346.42,29.56 L346.84,29.56 L347.26,29.56 L347.68,29.56 L348.10,29.57 L348.52,29.57 L348.94,29.57 L349.36,29.57 L349.77,29.57 L350.19,29.57 L350.61,29.58 L351.03,29.58 L351.45,29.58 L351.87,29.58 L352.29,29.58 L352.71,29.58 L353.13,29.59 L353.55,29.59 L353.97,29.59 L354.38,29.59 L354.80,29.59 L355.22,29.59 L355.64,29.59 L356.06,29.60 L356.48,29.60 L356.90,29.60 L357.32,29.60 L357.74,29.60 L358.16,29.60 L358.58,29.60 L358.99,29.60 L359.41,29.60 L359.83,29.61 L360.25,29.61 L360.67,29.61 L361.09,29.61 L361.51,29.61 L361.93,29.61 L362.35,29.61 L362.77,29.61 L363.19,29.61 L363.60,29.61 L364.02,29.61 L364.44,29.61 L364.86,29.61 L365.28,29.61 L365.70,29.61 L366.12,29.61 L366.54,29.61 L366.96,29.61 L367.38,29.61 L367.80,29.61 L368.21,29.61 L368.63,29.61 L369.05,29.62 L369.47,29.62 L369.89,29.62 L370.31,29.62 L370.73,29.62 L371.15,29.62 L371.57,29.62 L371.99,29.62 L372.41,29.61 L372.82,29.61 L373.24,29.61 L373.66,29.61 L374.08,29.61 L374.50,29.61 L374.92,29.61 L375.34,29.61 L375.76,29.61 L376.18,29.61 L376.60,29.61 L377.02,29.61 L377.43,29.61 L377.85,29.61 L378.27,29.61 L378.69,29.61 L379.11,29.61 L379.53,29.61 L379.95,29.61 L380.37,29.61 L380.79,29.61 L381.21,29.61 L381.62,29.61 L382.04,29.61 L382.46,29.61 L382.88,29.61 L383.30,29.61 L383.72,29.61 L384.14,29.61 L384.56,29.61 L384.98,29.61 L385.40,29.61 L385.82,29.61 L386.23,29.61 L386.65,29.61 L387.07,29.61 L387.49,29.61 L387.91,29.61 L388.33,29.61 L388.75,29.61 L389.17,29.61 L389.59,29.61 L390.01,29.61 L390.43,29.61 L390.84,29.63 L391.26,29.72 L391.68,29.87 L392.10,30.12 L392.52,30.45 L392.94,30.89 L393.36,31.43 L393.78,32.06 L394.20,32.79 L394.62,33.61 L395.04,34.51 L395.45,35.49 L395.87,36.55 L396.29,37.67 L396.71,38.86 L397.13,40.11 L397.55,41.40 L397.97,42.75 L398.39,44.14 L398.81,45.56 L399.23,47.03 L399.65,48.52 L400.06,50.04 L400.48,51.58 L400.90,53.15 L401.32,54.73 L401.74,56.33 L402.16,57.93 L402.58,59.54 L403.00,61.16 L403.42,62.77 L403.84,64.38 L404.26,65.99 L404.67,67.59 L405.09,69.18 L405.51,70.76 L405.93,72.32 L406.35,73.87 L406.77,75.40 L407.19,76.90 L407.61,78.39 L408.03,79.85 L408.45,81.28 L408.87,82.69 L409.28,84.07 L409.70,85.42 L410.12,86.74 L410.54,88.03 L410.96,89.28 L411.38,90.51 L411.80,91.69 L412.22,92.85 L412.64,93.97 L413.06,95.05 L413.47,96.10 L413.89,97.11 L414.31,98.09 L414.73,99.03 L415.15,99.93 L415.57,100.80 L415.99,101.63 L416.41,102.43 L416.83,103.19 L417.25,103.92 L417.67,104.61 L418.08,105.26 L418.50,105.88 L418.92,106.47 L419.34,107.02 L419.76,107.54 L420.18,108.03 L420.60,108.48 L421.02,108.90 L421.44,109.30 L421.86,109.66 L422.28,110.00 L422.69,110.30 L423.11,110.58 L423.53,110.83 L423.95,111.06 L424.37,111.26 L424.79,111.43 L425.21,111.58 L425.63,111.71 L426.05,111.82 L426.47,111.90 L426.89,111.96 L427.30,112.01 L427.72,112.03 L428.14,112.04 L428.56,112.03 L428.98,112.00 L429.40,111.96 L429.82,111.90 L430.24,111.82 L430.66,111.74 L431.08,111.64 L431.50,111.53 L431.91,111.41 L432.33,111.27 L432.75,111.13 L433.17,110.98 L433.59,110.82 L434.01,110.65 L434.43,110.48 L434.85,110.29 L435.27,110.11 L435.69,109.91 L436.11,109.72 L436.52,109.51 L436.94,109.31 L437.36,109.10 L437.78,108.89 L438.20,108.68 L438.62,108.46 L439.04,108.25 L439.46,108.03 L439.88,107.81 L440.30,107.59 L440.72,107.38 L441.13,107.16 L441.55,106.95 L441.97,106.74 L442.39,106.52 L442.81,106.31 L443.23,106.11 L443.65,105.90 L444.07,105.70 L444.49,105.50 L444.91,105.31 L445.32,105.12 L445.74,104.93 L446.16,104.75 L446.58,104.57 L447.00,104.39 L447.42,104.22 L447.84,104.05 L448.26,103.89 L448.68,103.73 L449.10,103.58 L449.52,103.43 L449.93,103.29 L450.35,103.15 L450.77,103.01 L451.19,102.89 L451.61,102.76 L452.03,102.64 L452.45,102.53 L452.87,102.42 L453.29,102.31 L453.71,102.21 L454.13,102.12 L454.54,102.03 L454.96,101.94 L455.38,101.86 L455.80,101.78 L456.22,101.71 L456.64,101.64 L457.06,101.58 L457.48,101.52 L457.90,101.46 L458.32,101.41 L458.74,101.36 L459.15,101.32 L459.57,101.28 L459.99,101.24 L460.41,101.21 L460.83,101.18 L461.25,101.16 L461.67,101.14 L462.09,101.12 L462.51,101.10 L462.93,101.09 L463.35,101.08 L463.76,101.07 L464.18,101.06 L464.60,101.06 L465.02,101.06 L465.44,101.06 L465.86,101.07 L466.28,101.08 L466.70,101.08 L467.12,101.10 L467.54,101.11 L467.96,101.12 L468.37,101.14 L468.79,101.15 L469.21,101.17 L469.63,101.19 L470.05,101.21 L470.47,101.23 L470.89,101.26 L471.31,101.28 L471.73,101.31 L472.15,101.33 L472.57,101.36 L472.98,101.38 L473.40,101.41 L473.82,101.44 L474.24,101.47 L474.66,101.50 L475.08,101.53 L475.50,101.55 L475.92,101.58 L476.34,101.61 L476.76,101.64 L477.18,101.67 L477.59,101.70 L478.01,101.73 L478.43,101.76 L478.85,101.79 L479.27,101.81 L479.69,101.84 L480.11,101.87 L480.53,101.90 L480.95,101.92 L481.37,101.95 L481.78,101.98 L482.20,102.00 L482.62,102.03 L483.04,102.05 L483.46,102.08 L483.88,102.10 L484.30,102.12 L484.72,102.14 L485.14,102.17 L485.56,102.19 L485.98,102.21 L486.39,102.23 L486.81,102.25 L487.23,102.26 L487.65,102.28 L488.07,102.30 L488.49,102.32 L488.91,102.33 L489.33,102.35 L489.75,102.36 L490.17,102.37 L490.59,102.39 L491.00,102.40 L491.42,102.41 L491.84,102.42 L492.26,102.43 L492.68,102.44 L493.10,102.45 L493.52,102.46 L493.94,102.47 L494.36,102.48 L494.78,102.49 L495.20,102.49 L495.61,102.50 L496.03,102.50 L496.45,102.51 L496.87,102.51 L497.29,102.52 L497.71,102.52 L498.13,102.53 L498.55,102.53 L498.97,102.53 L499.39,102.53 L499.81,102.53 L500.22,102.54 L500.64,102.54 L501.06,102.54 L501.48,102.54 L501.90,102.54 L502.32,102.54 L502.74,102.54 L503.16,102.53 L503.58,102.53 L504.00,102.53 L504.42,102.53 L504.83,102.53 L505.25,102.53 L505.67,102.52 L506.09,102.52 L506.51,102.52 L506.93,102.52 L507.35,102.51 L507.77,102.51 L508.19,102.51 L508.61,102.50 L509.02,102.50 L509.44,102.50 L509.86,102.49 L510.28,102.49 L510.70,102.48 L511.12,102.48 L511.54,102.48 L511.96,102.47 L512.38,102.47 L512.80,102.47 L513.22,102.46 L513.63,102.46 L514.05,102.45 L514.47,102.45 L514.89,102.45 L515.31,102.44 L515.73,102.44 L516.15,102.43 L516.57,102.43 L516.99,102.43 L517.41,102.42 L517.83,102.42 L518.24,102.42 L518.66,102.41 L519.08,102.41 L519.50,102.41 L519.92,102.40 L520.34,102.40 L520.76,102.40 L521.18,102.39 L521.60,102.39 L522.02,102.39 L522.44,102.38 L522.85,102.38 L523.27,102.38 L523.69,102.38 L524.11,102.37 L524.53,102.37 L524.95,102.37 L525.37,102.37 L525.79,102.37 L526.21,102.36 L526.63,102.36 L527.05,102.36 L527.46,102.36 L527.88,102.36 L528.30,102.35 L528.72,102.35 L529.14,102.35 L529.56,102.35 L529.98,102.35 L530.40,102.35 L530.82,102.35 L531.24,102.35 L531.66,102.35 L532.07,102.34 L532.49,102.34 L532.91,102.34 L533.33,102.34 L533.75,102.34 L534.17,102.34 L534.59,102.34 L535.01,102.34 L535.43,102.34 L535.85,102.34 L536.27,102.34 L536.68,102.34 L537.10,102.34 L537.52,102.34 L537.94,102.34 L538.36,102.34 L538.78,102.34 L539.20,102.34 L539.62,102.34 L540.04,102.34 L540.46,102.34 L540.88,102.34 L541.29,102.34 L541.71,102.34 L542.13,102.34 L542.55,102.34 L542.97,102.34 L543.39,102.34 L543.81,102.34 L544.23,102.34 L544.65,102.34 L545.07,102.34 L545.48,102.34 L545.90,102.34 L546.32,102.34 L546.74,102.34 L547.16,102.35 L547.58,102.35 L548.00,102.35 L548.42,102.35 L548.84,102.35 L549.26,102.35 L549.68,102.35 L550.09,102.35 L550.51,102.35 L550.93,102.35 L551.35,102.35 L551.77,102.35 L552.19,102.35 L552.61,102.35 L553.03,102.35 L553.45,102.35 L553.87,102.35 L554.29,102.35 L554.70,102.35 L555.12,102.36 L555.54,102.36 L555.96,102.36 L556.38,102.36 L556.80,102.36 L557.22,102.36 L557.64,102.36 L558.06,102.36 L558.48,102.36 L558.90,102.36 L559.31,102.36 L559.73,102.36 L560.15,102.36 L560.57,102.36 L560.99,102.36 L561.41,102.36 L561.83,102.36 L562.25,102.36 L562.67,102.36 L563.09,102.36 L563.51,102.36 L563.92,102.36 L564.34,102.36 L564.76,102.36 L565.18,102.36 L565.60,102.36 L566.02,102.36 L566.44,102.36 L566.86,102.36 L567.28,102.36 L567.70,102.36 L568.12,102.36 L568.53,102.36 L568.95,102.36 L569.37,102.36 L569.79,102.36 L570.21,102.36 L570.63,102.36 L571.05,102.36 L571.47,102.37 L571.89,102.37 L572.31,102.37 L572.73,102.37 L573.14,102.37 L573.56,102.37 L573.98,102.37 L574.40,102.37 L574.82,102.37 L575.24,102.37 L575.66,102.37 L576.08,102.37 L576.50,102.37 L576.92,102.37 L577.33,102.37 L577.75,102.37 L578.17,102.37 L578.59,102.37 L579.01,102.36 L579.43,102.36 L579.85,102.36 L580.27,102.36 L580.69,102.36 L581.11,102.36 L581.53,102.36 L581.94,102.36 L582.36,102.36 L582.78,102.36 L583.20,102.36 L583.62,102.36 L584.04,102.36 L584.46,102.36 L584.88,102.36 L585.30,102.36 L585.72,102.36 L586.14,102.36 L586.55,102.36 L586.97,102.36 L587.39,102.36 L587.81,102.36 L588.23,102.36 L588.65,102.36 L589.07,102.36 L589.49,102.36 L589.91,102.36 L590.33,102.36 L590.75,102.36 L591.16,102.36 L591.58,102.36 L592.00,102.36 L592.42,102.36 L592.84,102.36 L593.26,102.36 L593.68,102.36 L594.10,102.36 L594.52,102.36 L594.94,102.36 L595.36,102.36 L595.77,102.36 L596.19,102.36 L596.61,102.36 L597.03,102.36 L597.45,102.36 L597.87,102.36 L598.29,102.36 L598.71,102.36 L599.13,102.36 L599.55,102.36 L599.97,102.36 L600.38,102.36 L600.80,102.36 L601.22,102.36 L601.64,102.36 L602.06,102.36 L602.48,102.36 L602.90,102.36 L603.32,102.36 L603.74,102.36 L604.16,102.36 L604.58,102.36 L604.99,102.36 L605.41,102.36 L605.83,102.36 L606.25,102.36 L606.67,102.36 L607.09,102.36 L607.51,102.36 L607.93,102.36 L608.35,102.36 L608.77,102.36 L609.18,102.36 L609.60,102.36 L610.02,102.36 L610.44,102.36 L610.86,102.36 L611.28,102.36 L611.70,102.36 L612.12,102.36 L612.54,102.36 L612.96,102.36 L613.38,102.36 L613.79,102.36 L614.21,102.36 L614.63,102.36 L615.05,102.36 L615.47,102.36 L615.89,102.36 L616.31,102.36 L616.73,102.36 L617.15,102.36 L617.57,102.36 L617.99,102.36 L618.40,102.36 L618.82,102.36 L619.24,102.36 L619.66,102.36 L620.08,102.36 L620.50,102.36 L620.92,102.36 L621.34,102.36 L621.76,102.36 L622.18,102.36 L622.60,102.36 L623.01,102.36 L623.43,102.36 L623.85,102.36 L624.27,102.36 L624.69,102.36 L625.11,102.36 L625.53,102.36 L625.95,102.36 L626.37,102.36 L626.79,102.36 L627.21,102.36 L627.62,102.36 L628.04,102.36 L628.46,102.36 L628.88,102.36 L629.30,102.36 L629.72,102.36 L630.14,102.36 L630.56,102.36 L630.98,102.36 L631.40,102.36 L631.82,102.36 L632.23,102.36 L632.65,102.36 L633.07,102.36 L633.49,102.36 L633.91,102.36 L634.33,102.36 L634.75,102.36 L635.17,102.36 L635.59,102.36 L636.01,102.36 L636.43,102.36 L636.84,102.36 L637.26,102.36 L637.68,102.36 L638.10,102.36 L638.52,102.36 L638.94,102.36 L639.36,102.36 L639.78,102.36 L640.20,102.36 L640.62,102.36 L641.03,102.36 L641.45,102.36 L641.87,102.36 L642.29,102.36 L642.71,102.36 L643.13,102.36 L643.55,102.36 L643.97,102.36 L644.39,102.36 L644.81,102.36 L645.23,102.36 L645.64,102.36 L646.06,102.36 L646.48,102.36 L646.90,102.36 L647.32,102.36 L647.74,102.36 L648.16,102.36 L648.58,102.36 L649.00,102.36 L649.42,102.36 L649.84,102.36 L650.25,102.36 L650.67,102.36 L651.09,102.36 L651.51,102.36 L651.93,102.36 L652.35,102.36 L652.77,102.36 L653.19,102.36 L653.61,102.36 L654.03,102.36 L654.45,102.36 L654.86,102.36 L655.28,102.36 L655.70,102.36 L656.12,102.36 L656.54,102.36 L656.96,102.36 L657.38,102.36 L657.80,102.36 L658.22,102.36 L658.64,102.36 L659.06,102.36 L659.47,102.36 L659.89,102.36 L660.31,102.36 L660.73,102.36 L661.15,102.36 L661.57,102.36 L661.99,102.36 L662.41,102.36 L662.83,102.36 L663.25,102.36 L663.67,102.36 L664.08,102.36 L664.50,102.36 L664.92,102.36 L665.34,102.36 L665.76,102.36 L666.18,102.36 L666.60,102.36 L667.02,102.36 L667.44,102.36 L667.86,102.36 L668.28,102.36 L668.69,102.36 L669.11,102.36 L669.53,102.36 L669.95,102.36 L670.37,102.36 L670.79,102.36 L671.21,102.36 L671.63,102.36 L672.05,102.36 L672.47,102.36 L672.88,102.36 L673.30,102.36 L673.72,102.36 L674.14,102.36 L674.56,102.36 L674.98,102.36 L675.40,102.36 L675.82,102.36 L676.24,102.36 L676.66,102.36 L677.08,102.36 L677.49,102.36 L677.91,102.36 L678.33,102.36 L678.75,102.36 L679.17,102.36 L679.59,102.36 L680.01,102.36 L680.43,102.36 L680.85,102.36 L681.27,102.36 L681.69,102.36 L682.10,102.36 L682.52,102.36 L682.94,102.36 L683.36,102.36 L683.78,102.36 L684.20,102.36" style="stroke:#00ff00;stroke-width:2.8;stroke-dasharray:14.7 8.8"/>
<path d="M47.20,211.50 L47.62,211.50 L48.04,211.50 L48.46,211.50 L48.88,211.50 L49.30,211.50 L49.71,211.50 L50.13,211.50 L50.55,211.50 L50.97,211.50 L51.39,211.50 L51.81,211.50 L52.23,211.50 L52.65,211.50 L53.07,211.50 L53.49,211.50 L53.91,211.50 L54.32,211.50 L54.74,211.50 L55.16,211.50 L55.58,211.50 L56.00,211.45 L56.42,211.26 L56.84,210.88 L57.26,210.28 L57.68,209.45 L58.10,208.40 L58.52,207.14 L58.93,205.68 L59.35,204.04 L59.77,202.23 L60.19,200.27 L60.61,198.18 L61.03,195.95 L61.45,193.62 L61.87,191.18 L62.29,188.65 L62.71,186.03 L63.12,183.35 L63.54,180.59 L63.96,177.78 L64.38,174.91 L64.80,171.99 L65.22,169.03 L65.64,166.04 L66.06,163.01 L66.48,159.95 L66.90,156.88 L67.32,153.79 L67.73,150.69 L68.15,147.58 L68.57,144.48 L68.99,141.38 L69.41,138.28 L69.83,135.21 L70.25,132.15 L70.67,129.11 L71.09,126.10 L71.51,123.12 L71.93,120.17 L72.34,117.26 L72.76,114.39 L73.18,111.56 L73.60,108.77 L74.02,106.03 L74.44,103.35 L74.86,100.71 L75.28,98.12 L75.70,95.60 L76.12,93.12 L76.54,90.71 L76.95,88.36 L77.37,86.06 L77.79,83.83 L78.21,81.67 L78.63,79.56 L79.05,77.52 L79.47,75.55 L79.89,73.64 L80.31,71.79 L80.73,70.02 L81.15,68.30 L81.56,66.66 L81.98,65.08 L82.40,63.56 L82.82,62.11 L83.24,60.72 L83.66,59.40 L84.08,58.14 L84.50,56.95 L84.92,55.82 L85.34,54.74 L85.76,53.73 L86.17,52.78 L86.59,51.89 L87.01,51.05 L87.43,50.28 L87.85,49.55 L88.27,48.89 L88.69,48.27 L89.11,47.71 L89.53,47.20 L89.95,46.73 L90.37,46.32 L90.78,45.95 L91.20,45.63 L91.62,45.35 L92.04,45.12 L92.46,44.93 L92.88,44.77 L93.30,44.66 L93.72,44.58 L94.14,44.54 L94.56,44.53 L94.97,44.56 L95.39,44.62 L95.81,44.71 L96.23,44.83 L96.65,44.97 L97.07,45.14 L97.49,45.34 L97.91,45.56 L98.33,45.80 L98.75,46.07 L99.17,46.35 L99.58,46.65 L100.00,46.97 L100.42,47.31 L100.84,47.66 L101.26,48.03 L101.68,48.40 L102.10,48.79 L102.52,49.19 L102.94,49.60 L103.36,50.02 L103.78,50.45 L104.19,50.88 L104.61,51.32 L105.03,51.76 L105.45,52.21 L105.87,52.66 L106.29,53.11 L106.71,53.56 L107.13,54.02 L107.55,54.47 L107.97,54.92 L108.39,55.38 L108.80,55.83 L109.22,56.27 L109.64,56.72 L110.06,57.16 L110.48,57.59 L110.90,58.02 L111.32,58.45 L111.74,58.87 L112.16,59.29 L112.58,59.69 L113.00,60.09 L113.41,60.49 L113.83,60.87 L114.25,61.25 L114.67,61.62 L115.09,61.98 L115.51,62.34 L115.93,62.68 L116.35,63.02 L116.77,63.35 L117.19,63.66 L117.61,63.97 L118.02,64.27 L118.44,64.56 L118.86,64.84 L119.28,65.11 L119.70,65.37 L120.12,65.62 L120.54,65.86 L120.96,66.10 L121.38,66.32 L121.80,66.53 L122.22,66.73 L122.63,66.93 L123.05,67.11 L123.47,67.29 L123.89,67.45 L124.31,67.61 L124.73,67.76 L125.15,67.90 L125.57,68.03 L125.99,68.15 L126.41,68.27 L126.83,68.37 L127.24,68.47 L127.66,68.56 L128.08,68.65 L128.50,68.72 L128.92,68.79 L129.34,68.85 L129.76,68.91 L130.18,68.95 L130.60,68.99 L131.02,69.03 L131.43,69.06 L131.85,69.08 L132.27,69.10 L132.69,69.11 L133.11,69.12 L133.53,69.12 L133.95,69.11 L134.37,69.11 L134.79,69.09 L135.21,69.08 L135.63,69.06 L136.04,69.03 L136.46,69.00 L136.88,68.97 L137.30,68.94 L137.72,68.90 L138.14,68.86 L138.56,68.81 L138.98,68.77 L139.40,68.72 L139.82,68.67 L140.24,68.61 L140.65,68.56 L141.07,68.50 L141.49,68.44 L141.91,68.38 L142.33,68.32 L142.75,68.26 L143.17,68.20 L143.59,68.13 L144.01,68.07 L144.43,68.00 L144.85,67.94 L145.26,67.87 L145.68,67.80 L146.10,67.74 L146.52,67.67 L146.94,67.60 L147.36,67.54 L147.78,67.47 L148.20,67.41 L148.62,67.34 L149.04,67.28 L149.46,67.21 L149.87,67.15 L150.29,67.09 L150.71,67.03 L151.13,66.97 L151.55,66.91 L151.97,66.85 L152.39,66.79 L152.81,66.73 L153.23,66.68 L153.65,66.62 L154.07,66.57 L154.48,66.52 L154.90,66.47 L155.32,66.42 L155.74,66.37 L156.16,66.33 L156.58,66.28 L157.00,66.24 L157.42,66.19 L157.84,66.15 L158.26,66.11 L158.68,66.08 L159.09,66.04 L159.51,66.00 L159.93,65.97 L160.35,65.94 L160.77,65.91 L161.19,65.88 L161.61,65.85 L162.03,65.82 L162.45,65.79 L162.87,65.77 L163.28,65.75 L163.70,65.72 L164.12,65.70 L164.54,65.68 L164.96,65.67 L165.38,65.65 L165.80,65.63 L166.22,65.62 L166.64,65.61 L167.06,65.59 L167.48,65.58 L167.89,65.57 L168.31,65.56 L168.73,65.56 L169.15,65.55 L169.57,65.54 L169.99,65.54 L170.41,65.53 L170.83,65.53 L171.25,65.53 L171.67,65.53 L172.09,65.52 L172.50,65.52 L172.92,65.53 L173.34,65.53 L173.76,65.53 L174.18,65.53 L174.60,65.53 L175.02,65.54 L175.44,65.54 L175.86,65.55 L176.28,65.55 L176.70,65.56 L177.11,65.56 L177.53,65.57 L177.95,65.58 L178.37,65.58 L178.79,65.59 L179.21,65.60 L179.63,65.61 L180.05,65.61 L180.47,65.62 L180.89,65.63 L181.31,65.64 L181.72,65.65 L182.14,65.66 L182.56,65.67 L182.98,65.68 L183.40,65.69 L183.82,65.70 L184.24,65.71 L184.66,65.72 L185.08,65.73 L185.50,65.74 L185.92,65.74 L186.33,65.75 L186.75,65.76 L187.17,65.77 L187.59,65.78 L188.01,65.79 L188.43,65.80 L188.85,65.81 L189.27,65.82 L189.69,65.83 L190.11,65.84 L190.52,65.85 L190.94,65.86 L191.36,65.86 L191.78,65.87 L192.20,65.88 L192.62,65.89 L193.04,65.90 L193.46,65.90 L193.88,65.91 L194.30,65.92 L194.72,65.93 L195.13,65.93 L195.55,65.94 L195.97,65.95 L196.39,65.95 L196.81,65.96 L197.23,65.96 L197.65,65.97 L198.07,65.97 L198.49,65.98 L198.91,65.98 L199.33,65.99 L199.74,65.99 L200.16,66.00 L200.58,66.00 L201.00,66.01 L201.42,66.01 L201.84,66.01 L202.26,66.02 L202.68,66.02 L203.10,66.02 L203.52,66.03 L203.94,66.03 L204.35,66.03 L204.77,66.03 L205.19,66.04 L205.61,66.04 L206.03,66.04 L206.45,66.04 L206.87,66.04 L207.29,66.04 L207.71,66.05 L208.13,66.05 L208.55,66.05 L208.96,66.05 L209.38,66.05 L209.80,66.05 L210.22,66.05 L210.64,66.05 L211.06,66.05 L211.48,66.05 L211.90,66.05 L212.32,66.05 L212.74,66.05 L213.16,66.05 L213.57,66.05 L213.99,66.05 L214.41,66.05 L214.83,66.05 L215.25,66.05 L215.67,66.05 L216.09,66.04 L216.51,66.04 L216.93,66.04 L217.35,66.04 L217.77,66.04 L218.18,66.04 L218.60,66.04 L219.02,66.04 L219.44,66.04 L219.86,66.03 L220.28,66.03 L220.70,66.03 L221.12,66.03 L221.54,66.03 L221.96,66.03 L222.38,66.03 L222.79,66.02 L223.21,66.02 L223.63,66.01 L224.05,65.96 L224.47,65.86 L224.89,65.71 L225.31,65.50 L225.73,65.24 L226.15,64.92 L226.57,64.56 L226.98,64.15 L227.40,63.69 L227.82,63.20 L228.24,62.68 L228.66,62.12 L229.08,61.53 L229.50,60.92 L229.92,60.29 L230.34,59.63 L230.76,58.96 L231.18,58.27 L231.59,57.57 L232.01,56.85 L232.43,56.12 L232.85,55.38 L233.27,54.63 L233.69,53.87 L234.11,53.10 L234.53,52.33 L234.95,51.56 L235.37,50.78 L235.79,50.01 L236.20,49.23 L236.62,48.45 L237.04,47.68 L237.46,46.91 L237.88,46.14 L238.30,45.38 L238.72,44.63 L239.14,43.89 L239.56,43.15 L239.98,42.42 L240.40,41.70 L240.81,40.99 L241.23,40.30 L241.65,39.61 L242.07,38.94 L242.49,38.28 L242.91,37.63 L243.33,37.00 L243.75,36.38 L244.17,35.78 L244.59,35.19 L245.01,34.62 L245.42,34.06 L245.84,33.52 L246.26,32.99 L246.68,32.48 L247.10,31.99 L247.52,31.51 L247.94,31.05 L248.36,30.60 L248.78,30.17 L249.20,29.76 L249.62,29.37 L250.03,28.99 L250.45,28.63 L250.87,28.28 L251.29,27.95 L251.71,27.63 L252.13,27.34 L252.55,27.05 L252.97,26.78 L253.39,26.53 L253.81,26.29 L254.23,26.07 L254.64,25.86 L255.06,25.67 L255.48,25.49 L255.90,25.32 L256.32,25.17 L256.74,25.03 L257.16,24.90 L257.58,24.78 L258.00,24.68 L258.42,24.59 L258.83,24.51 L259.25,24.44 L259.67,24.38 L260.09,24.33 L260.51,24.29 L260.93,24.27 L261.35,24.25 L261.77,24.24 L262.19,24.24 L262.61,24.24 L263.03,24.26 L263.44,24.28 L263.86,24.31 L264.28,24.35 L264.70,24.39 L265.12,24.44 L265.54,24.49 L265.96,24.55 L266.38,24.62 L266.80,24.69 L267.22,24.77 L267.64,24.85 L268.05,24.93 L268.47,25.02 L268.89,25.11 L269.31,25.21 L269.73,25.30 L270.15,25.40 L270.57,25.51 L270.99,25.61 L271.41,25.72 L271.83,25.83 L272.25,25.94 L272.66,26.05 L273.08,26.16 L273.50,26.27 L273.92,26.38 L274.34,26.50 L274.76,26.61 L275.18,26.73 L275.60,26.84 L276.02,26.95 L276.44,27.06 L276.86,27.18 L277.27,27.29 L277.69,27.40 L278.11,27.51 L278.53,27.61 L278.95,27.72 L279.37,27.83 L279.79,27.93 L280.21,28.03 L280.63,28.13 L281.05,28.23 L281.47,28.33 L281.88,28.42 L282.30,28.51 L282.72,28.60 L283.14,28.69 L283.56,28.78 L283.98,28.86 L284.40,28.95 L284.82,29.02 L285.24,29.10 L285.66,29.18 L286.07,29.25 L286.49,29.32 L286.91,29.39 L287.33,29.45 L287.75,29.51 L288.17,29.58 L288.59,29.63 L289.01,29.69 L289.43,29.74 L289.85,29.79 L290.27,29.84 L290.68,29.89 L291.10,29.93 L291.52,29.97 L291.94,30.01 L292.36,30.05 L292.78,30.08 L293.20,30.12 L293.62,30.15 L294.04,30.18 L294.46,30.20 L294.88,30.23 L295.29,30.25 L295.71,30.27 L296.13,30.29 L296.55,30.31 L296.97,30.32 L297.39,30.34 L297.81,30.35 L298.23,30.36 L298.65,30.37 L299.07,30.37 L299.49,30.38 L299.90,30.38 L300.32,30.39 L300.74,30.39 L301.16,30.39 L301.58,30.39 L302.00,30.39 L302.42,30.38 L302.84,30.38 L303.26,30.37 L303.68,30.37 L304.10,30.36 L304.51,30.35 L304.93,30.34 L305.35,30.33 L305.77,30.32 L306.19,30.31 L306.61,30.30 L307.03,30.29 L307.45,30.27 L307.87,30.26 L308.29,30.25 L308.71,30.23 L309.12,30.22 L309.54,30.20 L309.96,30.19 L310.38,30.17 L310.80,30.16 L311.22,30.14 L311.64,30.12 L312.06,30.11 L312.48,30.09 L312.90,30.08 L313.32,30.06 L313.73,30.04 L314.15,30.03 L314.57,30.01 L314.99,29.99 L315.41,29.98 L315.83,29.96 L316.25,29.94 L316.67,29.93 L317.09,29.91 L317.51,29.90 L317.93,29.88 L318.34,29.86 L318.76,29.85 L319.18,29.83 L319.60,29.82 L320.02,29.81 L320.44,29.79 L320.86,29.78 L321.28,29.76 L321.70,29.75 L322.12,29.74 L322.53,29.72 L322.95,29.71 L323.37,29.70 L323.79,29.69 L324.21,29.68 L324.63,29.67 L325.05,29.66 L325.47,29.65 L325.89,29.64 L326.31,29.63 L326.73,29.62 L327.14,29.61 L327.56,29.60 L327.98,29.59 L328.40,29.58 L328.82,29.58 L329.24,29.57 L329.66,29.56 L330.08,29.56 L330.50,29.55 L330.92,29.54 L331.34,29.54 L331.75,29.53 L332.17,29.53 L332.59,29.52 L333.01,29.52 L333.43,29.52 L333.85,29.51 L334.27,29.51 L334.69,29.51 L335.11,29.50 L335.53,29.50 L335.95,29.50 L336.36,29.50 L336.78,29.49 L337.20,29.49 L337.62,29.49 L338.04,29.49 L338.46,29.49 L338.88,29.49 L339.30,29.49 L339.72,29.49 L340.14,29.49 L340.56,29.49 L340.97,29.49 L341.39,29.49 L341.81,29.49 L342.23,29.49 L342.65,29.49 L343.07,29.49 L343.49,29.49 L343.91,29.50 L344.33,29.50 L344.75,29.50 L345.17,29.50 L345.58,29.50 L346.00,29.50 L346.42,29.51 L346.84,29.51 L347.26,29.51 L347.68,29.51 L348.10,29.51 L348.52,29.52 L348.94,29.52 L349.36,29.52 L349.77,29.52 L350.19,29.52 L350.61,29.53 L351.03,29.53 L351.45,29.53 L351.87,29.53 L352.29,29.54 L352.71,29.54 L353.13,29.54 L353.55,29.54 L353.97,29.55 L354.38,29.55 L354.80,29.55 L355.22,29.55 L355.64,29.56 L356.06,29.56 L356.48,29.56 L356.90,29.56 L357.32,29.57 L357.74,29.57 L358.16,29.57 L358.58,29.57 L358.99,29.57 L359.41,29.58 L359.83,29.58 L360.25,29.58 L360.67,29.58 L361.09,29.58 L361.51,29.59 L361.93,29.59 L362.35,29.59 L362.77,29.59 L363.19,29.59 L363.60,29.59 L364.02,29.60 L364.44,29.60 L364.86,29.60 L365.28,29.60 L365.70,29.60 L366.12,29.60 L366.54,29.60 L366.96,29.61 L367.38,29.61 L367.80,29.61 L368.21,29.61 L368.63,29.61 L369.05,29.61 L369.47,29.61 L369.89,29.61 L370.31,29.61 L370.73,29.61 L371.15,29.61 L371.57,29.61 L371.99,29.62 L372.41,29.62 L372.82,29.62 L373.24,29.62 L373.66,29.62 L374.08,29.62 L374.50,29.62 L374.92,29.62 L375.34,29.62 L375.76,29.62 L376.18,29.62 L376.60,29.62 L377.02,29.62 L377.43,29.62 L377.85,29.62 L378.27,29.62 L378.69,29.62 L379.11,29.62 L379.53,29.62 L379.95,29.62 L380.37,29.62 L380.79,29.62 L381.21,29.62 L381.62,29.62 L382.04,29.62 L382.46,29.62 L382.88,29.62 L383.30,29.62 L383.72,29.62 L384.14,29.62 L384.56,29.62 L384.98,29.62 L385.40,29.62 L385.82,29.62 L386.23,29.62 L386.65,29.62 L387.07,29.62 L387.49,29.62 L387.91,29.62 L388.33,29.62 L388.75,29.62 L389.17,29.61 L389.59,29.61 L390.01,29.61 L390.43,29.61 L390.84,29.61 L391.26,29.64 L391.68,29.73 L392.10,29.92 L392.52,30.22 L392.94,30.64 L393.36,31.16 L393.78,31.79 L394.20,32.52 L394.62,33.34 L395.04,34.24 L395.45,35.22 L395.87,36.27 L396.29,37.38 L396.71,38.55 L397.13,39.77 L397.55,41.03 L397.97,42.34 L398.39,43.68 L398.81,45.06 L399.23,46.47 L399.65,47.90 L400.06,49.36 L400.48,50.84 L400.90,52.34 L401.32,53.85 L401.74,55.38 L402.16,56.92 L402.58,58.46 L403.00,60.01 L403.42,61.56 L403.84,63.12 L404.26,64.67 L404.67,66.21 L405.09,67.75 L405.51,69.28 L405.93,70.80 L406.35,72.30 L406.77,73.79 L407.19,75.27 L407.61,76.72 L408.03,78.16 L408.45,79.57 L408.87,80.97 L409.28,82.34 L409.70,83.68 L410.12,85.00 L410.54,86.29 L410.96,87.55 L411.38,88.79 L411.80,90.00 L412.22,91.17 L412.64,92.32 L413.06,93.43 L413.47,94.52 L413.89,95.57 L414.31,96.59 L414.73,97.58 L415.15,98.53 L415.57,99.45 L415.99,100.34 L416.41,101.20 L416.83,102.02 L417.25,102.81 L417.67,103.57 L418.08,104.30 L418.50,104.99 L418.92,105.65 L419.34,106.28 L419.76,106.88 L420.18,107.44 L420.60,107.98 L421.02,108.48 L421.44,108.96 L421.86,109.41 L422.28,109.82 L422.69,110.21 L423.11,110.57 L423.53,110.91 L423.95,111.22 L424.37,111.50 L424.79,111.75 L425.21,111.98 L425.63,112.19 L426.05,112.38 L426.47,112.54 L426.89,112.68 L427.30,112.79 L427.72,112.89 L428.14,112.97 L428.56,113.02 L428.98,113.06 L429.40,113.08 L429.82,113.09 L430.24,113.07 L430.66,113.04 L431.08,113.00 L431.50,112.94 L431.91,112.87 L432.33,112.78 L432.75,112.68 L433.17,112.57 L433.59,112.45 L434.01,112.32 L434.43,112.18 L434.85,112.03 L435.27,111.87 L435.69,111.70 L436.11,111.52 L436.52,111.34 L436.94,111.15 L437.36,110.96 L437.78,110.76 L438.20,110.55 L438.62,110.34 L439.04,110.13 L439.46,109.91 L439.88,109.69 L440.30,109.47 L440.72,109.25 L441.13,109.02 L441.55,108.80 L441.97,108.57 L442.39,108.34 L442.81,108.12 L443.23,107.89 L443.65,107.67 L444.07,107.44 L444.49,107.22 L444.91,106.99 L445.32,106.77 L445.74,106.56 L446.16,106.34 L446.58,106.13 L447.00,105.92 L447.42,105.71 L447.84,105.51 L448.26,105.31 L448.68,105.11 L449.10,104.92 L449.52,104.73 L449.93,104.54 L450.35,104.36 L450.77,104.18 L451.19,104.01 L451.61,103.84 L452.03,103.68 L452.45,103.52 L452.87,103.37 L453.29,103.22 L453.71,103.07 L454.13,102.93 L454.54,102.80 L454.96,102.67 L455.38,102.54 L455.80,102.42 L456.22,102.31 L456.64,102.20 L457.06,102.09 L457.48,101.99 L457.90,101.89 L458.32,101.80 L458.74,101.71 L459.15,101.63 L459.57,101.55 L459.99,101.47 L460.41,101.40 L460.83,101.34 L461.25,101.28 L461.67,101.22 L462.09,101.17 L462.51,101.12 L462.93,101.07 L463.35,101.03 L463.76,100.99 L464.18,100.96 L464.60,100.93 L465.02,100.90 L465.44,100.88 L465.86,100.86 L466.28,100.84 L466.70,100.82 L467.12,100.81 L467.54,100.80 L467.96,100.80 L468.37,100.80 L468.79,100.79 L469.21,100.80 L469.63,100.80 L470.05,100.81 L470.47,100.82 L470.89,100.83 L471.31,100.84 L471.73,100.85 L472.15,100.87 L472.57,100.89 L472.98,100.91 L473.40,100.93 L473.82,100.95 L474.24,100.97 L474.66,101.00 L475.08,101.02 L475.50,101.05 L475.92,101.08 L476.34,101.10 L476.76,101.13 L477.18,101.16 L477.59,101.19 L478.01,101.22 L478.43,101.26 L478.85,101.29 L479.27,101.32 L479.69,101.35 L480.11,101.39 L480.53,101.42 L480.95,101.45 L481.37,101.48 L481.78,101.52 L482.20,101.55 L482.62,101.58 L483.04,101.62 L483.46,101.65 L483.88,101.68 L484.30,101.71 L484.72,101.75 L485.14,101.78 L485.56,101.81 L485.98,101.84 L486.39,101.87 L486.81,101.90 L487.23,101.93 L487.65,101.96 L488.07,101.99 L488.49,102.01 L488.91,102.04 L489.33,102.07 L489.75,102.09 L490.17,102.12 L490.59,102.14 L491.00,102.17 L491.42,102.19 L491.84,102.21 L492.26,102.23 L492.68,102.26 L493.10,102.28 L493.52,102.30 L493.94,102.32 L494.36,102.33 L494.78,102.35 L495.20,102.37 L495.61,102.39 L496.03,102.40 L496.45,102.42 L496.87,102.43 L497.29,102.44 L497.71,102.46 L498.13,102.47 L498.55,102.48 L498.97,102.49 L499.39,102.50 L499.81,102.51 L500.22,102.52 L500.64,102.53 L501.06,102.54 L501.48,102.54 L501.90,102.55 L502.32,102.56 L502.74,102.56 L503.16,102.57 L503.58,102.57 L504.00,102.58 L504.42,102.58 L504.83,102.58 L505.25,102.58 L505.67,102.59 L506.09,102.59 L506.51,102.59 L506.93,102.59 L507.35,102.59 L507.77,102.59 L508.19,102.59 L508.61,102.59 L509.02,102.59 L509.44,102.59 L509.86,102.59 L510.28,102.58 L510.70,102.58 L511.12,102.58 L511.54,102.58 L511.96,102.58 L512.38,102.57 L512.80,102.57 L513.22,102.57 L513.63,102.56 L514.05,102.56 L514.47,102.55 L514.89,102.55 L515.31,102.55 L515.73,102.54 L516.15,102.54 L516.57,102.53 L516.99,102.53 L517.41,102.52 L517.83,102.52 L518.24,102.51 L518.66,102.51 L519.08,102.51 L519.50,102.50 L519.92,102.50 L520.34,102.49 L520.76,102.49 L521.18,102.48 L521.60,102.48 L522.02,102.47 L522.44,102.47 L522.85,102.46 L523.27,102.46 L523.69,102.45 L524.11,102.45 L524.53,102.44 L524.95,102.44 L525.37,102.43 L525.79,102.43 L526.21,102.43 L526.63,102.42 L527.05,102.42 L527.46,102.41 L527.88,102.41 L528.30,102.41 L528.72,102.40 L529.14,102.40 L529.56,102.39 L529.98,102.39 L530.40,102.39 L530.82,102.38 L531.24,102.38 L531.66,102.38 L532.07,102.37 L532.49,102.37 L532.91,102.37 L533.33,102.37 L533.75,102.36 L534.17,102.36 L534.59,102.36 L535.01,102.36 L535.43,102.35 L535.85,102.35 L536.27,102.35 L536.68,102.35 L537.10,102.35 L537.52,102.34 L537.94,102.34 L538.36,102.34 L538.78,102.34 L539.20,102.34 L539.62,102.34 L540.04,102.34 L540.46,102.34 L540.88,102.33 L541.29,102.33 L541.71,102.33 L542.13,102.33 L542.55,102.33 L542.97,102.33 L543.39,102.33 L543.81,102.33 L544.23,102.33 L544.65,102.33 L545.07,102.33 L545.48,102.33 L545.90,102.33 L546.32,102.33 L546.74,102.33 L547.16,102.33 L547.58,102.33 L548.00,102.33 L548.42,102.33 L548.84,102.33 L549.26,102.33 L549.68,102.33 L550.09,102.33 L550.51,102.33 L550.93,102.33 L551.35,102.33 L551.77,102.33 L552.19,102.33 L552.61,102.33 L553.03,102.33 L553.45,102.33 L553.87,102.33 L554.29,102.34 L554.70,102.34 L555.12,102.34 L555.54,102.34 L555.96,102.34 L556.38,102.34 L556.80,102.34 L557.22,102.34 L557.64,102.34 L558.06,102.34 L558.48,102.34 L558.90,102.34 L559.31,102.34 L559.73,102.34 L560.15,102.34 L560.57,102.35 L560.99,102.35 L561.41,102.35 L561.83,102.35 L562.25,102.35 L562.67,102.35 L563.09,102.35 L563.51,102.35 L563.92,102.35 L564.34,102.35 L564.76,102.35 L565.18,102.35 L565.60,102.35 L566.02,102.35 L566.44,102.35 L566.86,102.36 L567.28,102.36 L567.70,102.36 L568.12,102.36 L568.53,102.36 L568.95,102.36 L569.37,102.36 L569.79,102.36 L570.21,102.36 L570.63,102.36 L571.05,102.36 L571.47,102.36 L571.89,102.36 L572.31,102.36 L572.73,102.36 L573.14,102.36 L573.56,102.36 L573.98,102.36 L574.40,102.36 L574.82,102.36 L575.24,102.36 L575.66,102.36 L576.08,102.36 L576.50,102.36 L576.92,102.36 L577.33,102.37 L577.75,102.37 L578.17,102.37 L578.59,102.37 L579.01,102.37 L579.43,102.37 L579.85,102.37 L580.27,102.37 L580.69,102.37 L581.11,102.37 L581.53,102.37 L581.94,102.37 L582.36,102.37 L582.78,102.37 L583.20,102.37 L583.62,102.37 L584.04,102.37 L584.46,102.37 L584.88,102.37 L585.30,102.37 L585.72,102.37 L586.14,102.37 L586.55,102.37 L586.97,102.37 L587.39,102.37 L587.81,102.37 L588.23,102.37 L588.65,102.37 L589.07,102.37 L589.49,102.37 L589.91,102.37 L590.33,102.37 L590.75,102.37 L591.16,102.37 L591.58,102.37 L592.00,102.37 L592.42,102.37 L592.84,102.37 L593.26,102.37 L593.68,102.37 L594.10,102.37 L594.52,102.37 L594.94,102.37 L595.36,102.37 L595.77,102.37 L596.19,102.37 L596.61,102.37 L597.03,102.37 L597.45,102.37 L597.87,102.36 L598.29,102.36 L598.71,102.36 L599.13,102.36 L599.55,102.36 L599.97,102.36 L600.38,102.36 L600.80,102.36 L601.22,102.36 L601.64,102.36 L602.06,102.36 L602.48,102.36 L602.90,102.36 L603.32,102.36 L603.74,102.36 L604.16,102.36 L604.58,102.36 L604.99,102.36 L605.41,102.36 L605.83,102.36 L606.25,102.36 L606.67,102.36 L607.09,102.36 L607.51,102.36 L607.93,102.36 L608.35,102.36 L608.77,102.36 L609.18,102.36 L609.60,102.36 L610.02,102.36 L610.44,102.36 L610.86,102.36 L611.28,102.36 L611.70,102.36 L612.12,102.36 L612.54,102.36 L612.96,102.36 L613.38,102.36 L613.79,102.36 L614.21,102.36 L614.63,102.36 L615.05,102.36 L615.47,102.36 L615.89,102.36 L616.31,102.36 L616.73,102.36 L617.15,102.36 L617.57,102.36 L617.99,102.36 L618.40,102.36 L618.82,102.36 L619.24,102.36 L619.66,102.36 L620.08,102.36 L620.50,102.36 L620.92,102.36 L621.34,102.36 L621.76,102.36 L622.18,102.36 L622.60,102.36 L623.01,102.36 L623.43,102.36 L623.85,102.36 L624.27,102.36 L624.69,102.36 L625.11,102.36 L625.53,102.36 L625.95,102.36 L626.37,102.36 L626.79,102.36 L627.21,102.36 L627.62,102.36 L628.04,102.36 L628.46,102.36 L628.88,102.36 L629.30,102.36 L629.72,102.36 L630.14,102.36 L630.56,102.36 L630.98,102.36 L631.40,102.36 L631.82,102.36 L632.23,102.36 L632.65,102.36 L633.07,102.36 L633.49,102.36 L633.91,102.36 L634.33,102.36 L634.75,102.36 L635.17,102.36 L635.59,102.36 L636.01,102.36 L636.43,102.36 L636.84,102.36 L637.26,102.36 L637.68,102.36 L638.10,102.36 L638.52,102.36 L638.94,102.36 L639.36,102.36 L639.78,102.36 L640.20,102.36 L640.62,102.36 L641.03,102.36 L641.45,102.36 L641.87,102.36 L642.29,102.36 L642.71,102.36 L643.13,102.36 L643.55,102.36 L643.97,102.36 L644.39,102.36 L644.81,102.36 L645.23,102.36 L645.64,102.36 L646.06,102.36 L646.48,102.36 L646.90,102.36 L647.32,102.36 L647.74,102.36 L648.16,102.36 L648.58,102.36 L649.00,102.36 L649.42,102.36 L649.84,102.36 L650.25,102.36 L650.67,102.36 L651.09,102.36 L651.51,102.36 L651.93,102.36 L652.35,102.36 L652.77,102.36 L653.19,102.36 L653.61,102.36 L654.03,102.36 L654.45,102.36 L654.86,102.36 L655.28,102.36 L655.70,102.36 L656.12,102.36 L656.54,102.36 L656.96,102.36 L657.38,102.36 L657.80,102.36 L658.22,102.36 L658.64,102.36 L659.06,102.36 L659.47,102.36 L659.89,102.36 L660.31,102.36 L660.73,102.36 L661.15,102.36 L661.57,102.36 L661.99,102.36 L662.41,102.36 L662.83,102.36 L663.25,102.36 L663.67,102.36 L664.08,102.36 L664.50,102.36 L664.92,102.36 L665.34,102.36 L665.76,102.36 L666.18,102.36 L666.60,102.36 L667.02,102.36 L667.44,102.36 L667.86,102.36 L668.28,102.36 L668.69,102.36 L669.11,102.36 L669.53,102.36 L669.95,102.36 L670.37,102.36 L670.79,102.36 L671.21,102.36 L671.63,102.36 L672.05,102.36 L672.47,102.36 L672.88,102.36 L673.30,102.36 L673.72,102.36 L674.14,102.36 L674.56,102.36 L674.98,102.36 L675.40,102.36 L675.82,102.36 L676.24,102.36 L676.66,102.36 L677.08,102.36 L677.49,102.36 L677.91,102.36 L678.33,102.36 L678.75,102.36 L679.17,102.36 L679.59,102.36 L680.01,102.36 L680.43,102.36 L680.85,102.36 L681.27,102.36 L681.69,102.36 L682.10,102.36 L682.52,102.36 L682.94,102.36 L683.36,102.36 L683.78,102.36 L684.20,102.36" style="stroke:#ff00ff;stroke-width:2.8;stroke-dasharray:11.9 4.15 3.2 4.25"/>
<path d="M47.20,211.50 L47.62,211.50 L48.04,211.50 L48.46,211.50 L48.88,211.50 L49.30,211.50 L49.71,211.50 L50.13,211.50 L50.55,211.50 L50.97,211.50 L51.39,211.50 L51.81,211.50 L52.23,211.50 L52.65,211.50 L53.07,211.50 L53.49,211.50 L53.91,211.50 L54.32,211.50 L54.74,211.50 L55.16,211.50 L55.58,211.50 L56.00,211.50 L56.42,211.50 L56.84,211.46 L57.26,211.29 L57.68,210.94 L58.10,210.39 L58.52,209.63 L58.93,208.66 L59.35,207.49 L59.77,206.14 L60.19,204.61 L60.61,202.94 L61.03,201.12 L61.45,199.18 L61.87,197.13 L62.29,194.97 L62.71,192.74 L63.12,190.42 L63.54,188.04 L63.96,185.59 L64.38,183.10 L64.80,180.56 L65.22,177.97 L65.64,175.36 L66.06,172.71 L66.48,170.03 L66.90,167.34 L67.32,164.62 L67.73,161.89 L68.15,159.15 L68.57,156.41 L68.99,153.66 L69.41,150.92 L69.83,148.18 L70.25,145.45 L70.67,142.74 L71.09,140.05 L71.51,137.38 L71.93,134.74 L72.34,132.12 L72.76,129.53 L73.18,126.98 L73.60,124.46 L74.02,121.98 L74.44,119.53 L74.86,117.13 L75.28,114.77 L75.70,112.45 L76.12,110.18 L76.54,107.96 L76.95,105.78 L77.37,103.65 L77.79,101.57 L78.21,99.54 L78.63,97.55 L79.05,95.62 L79.47,93.74 L79.89,91.92 L80.31,90.14 L80.73,88.41 L81.15,86.74 L81.56,85.12 L81.98,83.55 L82.40,82.03 L82.82,80.56 L83.24,79.15 L83.66,77.78 L84.08,76.46 L84.50,75.20 L84.92,73.98 L85.34,72.81 L85.76,71.69 L86.17,70.61 L86.59,69.58 L87.01,68.60 L87.43,67.66 L87.85,66.77 L88.27,65.92 L88.69,65.11 L89.11,64.34 L89.53,63.61 L89.95,62.92 L90.37,62.28 L90.78,61.66 L91.20,61.09 L91.62,60.55 L92.04,60.05 L92.46,59.58 L92.88,59.14 L93.30,58.74 L93.72,58.36 L94.14,58.02 L94.56,57.70 L94.97,57.42 L95.39,57.16 L95.81,56.92 L96.23,56.71 L96.65,56.53 L97.07,56.37 L97.49,56.23 L97.91,56.11 L98.33,56.02 L98.75,55.94 L99.17,55.88 L99.58,55.84 L100.00,55.82 L100.42,55.82 L100.84,55.83 L101.26,55.85 L101.68,55.89 L102.10,55.94 L102.52,56.00 L102.94,56.08 L103.36,56.17 L103.78,56.27 L104.19,56.37 L104.61,56.49 L105.03,56.61 L105.45,56.75 L105.87,56.89 L106.29,57.03 L106.71,57.19 L107.13,57.35 L107.55,57.51 L107.97,57.68 L108.39,57.85 L108.80,58.03 L109.22,58.21 L109.64,58.39 L110.06,58.57 L110.48,58.76 L110.90,58.95 L111.32,59.14 L111.74,59.33 L112.16,59.52 L112.58,59.71 L113.00,59.90 L113.41,60.09 L113.83,60.28 L114.25,60.47 L114.67,60.66 L115.09,60.85 L115.51,61.03 L115.93,61.22 L116.35,61.40 L116.77,61.58 L117.19,61.76 L117.61,61.93 L118.02,62.10 L118.44,62.27 L118.86,62.44 L119.28,62.60 L119.70,62.77 L120.12,62.92 L120.54,63.08 L120.96,63.23 L121.38,63.38 L121.80,63.52 L122.22,63.66 L122.63,63.80 L123.05,63.93 L123.47,64.06 L123.89,64.19 L124.31,64.31 L124.73,64.43 L125.15,64.55 L125.57,64.66 L125.99,64.77 L126.41,64.88 L126.83,64.98 L127.24,65.08 L127.66,65.17 L128.08,65.26 L128.50,65.35 L128.92,65.43 L129.34,65.52 L129.76,65.59 L130.18,65.67 L130.60,65.74 L131.02,65.81 L131.43,65.87 L131.85,65.93 L132.27,65.99 L132.69,66.05 L133.11,66.10 L133.53,66.15 L133.95,66.20 L134.37,66.24 L134.79,66.29 L135.21,66.33 L135.63,66.36 L136.04,66.40 L136.46,66.43 L136.88,66.46 L137.30,66.49 L137.72,66.52 L138.14,66.54 L138.56,66.56 L138.98,66.58 L139.40,66.60 L139.82,66.61 L140.24,66.63 L140.65,66.64 L141.07,66.65 L141.49,66.66 L141.91,66.67 L142.33,66.68 L142.75,66.68 L143.17,66.69 L143.59,66.69 L144.01,66.69 L144.43,66.69 L144.85,66.69 L145.26,66.69 L145.68,66.68 L146.10,66.68 L146.52,66.68 L146.94,66.67 L147.36,66.66 L147.78,66.66 L148.20,66.65 L148.62,66.64 L149.04,66.63 L149.46,66.62 L149.87,66.61 L150.29,66.60 L150.71,66.59 L151.13,66.58 L151.55,66.57 L151.97,66.56 L152.39,66.55 L152.81,66.53 L153.23,66.52 L153.65,66.51 L154.07,66.50 L154.48,66.48 L154.90,66.47 L155.32,66.46 L155.74,66.44 L156.16,66.43 L156.58,66.42 L157.00,66.40 L157.42,66.39 L157.84,66.38 L158.26,66.36 L158.68,66.35 L159.09,66.34 L159.51,66.33 L159.93,66.31 L160.35,66.30 L160.77,66.29 L161.19,66.28 L161.61,66.26 L162.03,66.25 L162.45,66.24 L162.87,66.23 L163.28,66.22 L163.70,66.21 L164.12,66.19 L164.54,66.18 L164.96,66.17 L165.38,66.16 L165.80,66.15 L166.22,66.14 L166.64,66.13 L167.06,66.12 L167.48,66.12 L167.89,66.11 L168.31,66.10 L168.73,66.09 L169.15,66.08 L169.57,66.07 L169.99,66.07 L170.41,66.06 L170.83,66.05 L171.25,66.05 L171.67,66.04 L172.09,66.03 L172.50,66.03 L172.92,66.02 L173.34,66.01 L173.76,66.01 L174.18,66.00 L174.60,66.00 L175.02,65.99 L175.44,65.99 L175.86,65.99 L176.28,65.98 L176.70,65.98 L177.11,65.97 L177.53,65.97 L177.95,65.97 L178.37,65.96 L178.79,65.96 L179.21,65.96 L179.63,65.96 L180.05,65.95 L180.47,65.95 L180.89,65.95 L181.31,65.95 L181.72,65.95 L182.14,65.94 L182.56,65.94 L182.98,65.94 L183.40,65.94 L183.82,65.94 L184.24,65.94 L184.66,65.94 L185.08,65.94 L185.50,65.94 L185.92,65.93 L186.33,65.93 L186.75,65.93 L187.17,65.93 L187.59,65.93 L188.01,65.93 L188.43,65.93 L188.85,65.93 L189.27,65.93 L189.69,65.93 L190.11,65.93 L190.52,65.93 L190.94,65.93 L191.36,65.94 L191.78,65.94 L192.20,65.94 L192.62,65.94 L193.04,65.94 L193.46,65.94 L193.88,65.94 L194.30,65.94 L194.72,65.94 L195.13,65.94 L195.55,65.94 L195.97,65.94 L196.39,65.94 L196.81,65.94 L197.23,65.95 L197.65,65.95 L198.07,65.95 L198.49,65.95 L198.91,65.95 L199.33,65.95 L199.74,65.95 L200.16,65.95 L200.58,65.95 L201.00,65.95 L201.42,65.95 L201.84,65.96 L202.26,65.96 L202.68,65.96 L203.10,65.96 L203.52,65.96 L203.94,65.96 L204.35,65.96 L204.77,65.96 L205.19,65.96 L205.61,65.96 L206.03,65.96 L206.45,65.96 L206.87,65.97 L207.29,65.97 L207.71,65.97 L208.13,65.97 L208.55,65.97 L208.96,65.97 L209.38,65.97 L209.80,65.97 L210.22,65.97 L210.64,65.97 L211.06,65.97 L211.48,65.97 L211.90,65.97 L212.32,65.97 L212.74,65.98 L213.16,65.98 L213.57,65.98 L213.99,65.98 L214.41,65.98 L214.83,65.98 L215.25,65.98 L215.67,65.98 L216.09,65.98 L216.51,65.98 L216.93,65.98 L217.35,65.98 L217.77,65.98 L218.18,65.98 L218.60,65.98 L219.02,65.98 L219.44,65.98 L219.86,65.98 L220.28,65.98 L220.70,65.98 L221.12,65.98 L221.54,65.98 L221.96,65.98 L222.38,65.98 L222.79,65.98 L223.21,65.98 L223.63,65.98 L224.05,65.98 L224.47,65.97 L224.89,65.93 L225.31,65.84 L225.73,65.71 L226.15,65.52 L226.57,65.28 L226.98,64.98 L227.40,64.65 L227.82,64.26 L228.24,63.85 L228.66,63.39 L229.08,62.91 L229.50,62.39 L229.92,61.85 L230.34,61.29 L230.76,60.72 L231.18,60.12 L231.59,59.51 L232.01,58.89 L232.43,58.25 L232.85,57.60 L233.27,56.95 L233.69,56.29 L234.11,55.62 L234.53,54.95 L234.95,54.27 L235.37,53.58 L235.79,52.90 L236.20,52.21 L236.62,51.53 L237.04,50.84 L237.46,50.16 L237.88,49.47 L238.30,48.80 L238.72,48.12 L239.14,47.46 L239.56,46.79 L239.98,46.14 L240.40,45.49 L240.81,44.85 L241.23,44.23 L241.65,43.60 L242.07,42.99 L242.49,42.39 L242.91,41.80 L243.33,41.22 L243.75,40.66 L244.17,40.10 L244.59,39.55 L245.01,39.02 L245.42,38.50 L245.84,37.99 L246.26,37.50 L246.68,37.02 L247.10,36.55 L247.52,36.09 L247.94,35.64 L248.36,35.21 L248.78,34.79 L249.20,34.39 L249.62,34.00 L250.03,33.62 L250.45,33.25 L250.87,32.90 L251.29,32.55 L251.71,32.22 L252.13,31.91 L252.55,31.60 L252.97,31.31 L253.39,31.03 L253.81,30.76 L254.23,30.50 L254.64,30.26 L255.06,30.02 L255.48,29.80 L255.90,29.59 L256.32,29.38 L256.74,29.19 L257.16,29.01 L257.58,28.84 L258.00,28.68 L258.42,28.52 L258.83,28.38 L259.25,28.25 L259.67,28.12 L260.09,28.00 L260.51,27.89 L260.93,27.79 L261.35,27.70 L261.77,27.61 L262.19,27.53 L262.61,27.46 L263.03,27.40 L263.44,27.34 L263.86,27.29 L264.28,27.24 L264.70,27.20 L265.12,27.17 L265.54,27.14 L265.96,27.11 L266.38,27.09 L266.80,27.08 L267.22,27.07 L267.64,27.06 L268.05,27.06 L268.47,27.06 L268.89,27.07 L269.31,27.08 L269.73,27.09 L270.15,27.11 L270.57,27.13 L270.99,27.15 L271.41,27.17 L271.83,27.20 L272.25,27.23 L272.66,27.26 L273.08,27.29 L273.50,27.33 L273.92,27.37 L274.34,27.40 L274.76,27.44 L275.18,27.49 L275.60,27.53 L276.02,27.57 L276.44,27.61 L276.86,27.66 L277.27,27.70 L277.69,27.75 L278.11,27.80 L278.53,27.84 L278.95,27.89 L279.37,27.94 L279.79,27.99 L280.21,28.04 L280.63,28.08 L281.05,28.13 L281.47,28.18 L281.88,28.23 L282.30,28.27 L282.72,28.32 L283.14,28.37 L283.56,28.41 L283.98,28.46 L284.40,28.50 L284.82,28.55 L285.24,28.59 L285.66,28.63 L286.07,28.68 L286.49,28.72 L286.91,28.76 L287.33,28.80 L287.75,28.84 L288.17,28.88 L288.59,28.91 L289.01,28.95 L289.43,28.99 L289.85,29.02 L290.27,29.06 L290.68,29.09 L291.10,29.12 L291.52,29.16 L291.94,29.19 L292.36,29.22 L292.78,29.25 L293.20,29.27 L293.62,29.30 L294.04,29.33 L294.46,29.35 L294.88,29.38 L295.29,29.40 L295.71,29.42 L296.13,29.45 L296.55,29.47 L296.97,29.49 L297.39,29.51 L297.81,29.52 L298.23,29.54 L298.65,29.56 L299.07,29.58 L299.49,29.59 L299.90,29.61 L300.32,29.62 L300.74,29.63 L301.16,29.65 L301.58,29.66 L302.00,29.67 L302.42,29.68 L302.84,29.69 L303.26,29.70 L303.68,29.71 L304.10,29.72 L304.51,29.72 L304.93,29.73 L305.35,29.74 L305.77,29.74 L306.19,29.75 L306.61,29.75 L307.03,29.76 L307.45,29.76 L307.87,29.76 L308.29,29.77 L308.71,29.77 L309.12,29.77 L309.54,29.78 L309.96,29.78 L310.38,29.78 L310.80,29.78 L311.22,29.78 L311.64,29.78 L312.06,29.78 L312.48,29.78 L312.90,29.78 L313.32,29.78 L313.73,29.78 L314.15,29.78 L314.57,29.78 L314.99,29.77 L315.41,29.77 L315.83,29.77 L316.25,29.77 L316.67,29.77 L317.09,29.76 L317.51,29.76 L317.93,29.76 L318.34,29.76 L318.76,29.75 L319.18,29.75 L319.60,29.75 L320.02,29.74 L320.44,29.74 L320.86,29.74 L321.28,29.74 L321.70,29.73 L322.12,29.73 L322.53,29.73 L322.95,29.72 L323.37,29.72 L323.79,29.72 L324.21,29.71 L324.63,29.71 L325.05,29.71 L325.47,29.70 L325.89,29.70 L326.31,29.70 L326.73,29.69 L327.14,29.69 L327.56,29.69 L327.98,29.68 L328.40,29.68 L328.82,29.68 L329.24,29.67 L329.66,29.67 L330.08,29.67 L330.50,29.66 L330.92,29.66 L331.34,29.66 L331.75,29.66 L332.17,29.65 L332.59,29.65 L333.01,29.65 L333.43,29.65 L333.85,29.64 L334.27,29.64 L334.69,29.64 L335.11,29.64 L335.53,29.63 L335.95,29.63 L336.36,29.63 L336.78,29.63 L337.20,29.63 L337.62,29.62 L338.04,29.62 L338.46,29.62 L338.88,29.62 L339.30,29.62 L339.72,29.62 L340.14,29.61 L340.56,29.61 L340.97,29.61 L341.39,29.61 L341.81,29.61 L342.23,29.61 L342.65,29.61 L343.07,29.61 L343.49,29.60 L343.91,29.60 L344.33,29.60 L344.75,29.60 L345.17,29.60 L345.58,29.60 L346.00,29.60 L346.42,29.60 L346.84,29.60 L347.26,29.60 L347.68,29.60 L348.10,29.60 L348.52,29.60 L348.94,29.59 L349.36,29.59 L349.77,29.59 L350.19,29.59 L350.61,29.59 L351.03,29.59 L351.45,29.59 L351.87,29.59 L352.29,29.59 L352.71,29.59 L353.13,29.59 L353.55,29.59 L353.97,29.59 L354.38,29.59 L354.80,29.59 L355.22,29.59 L355.64,29.59 L356.06,29.59 L356.48,29.59 L356.90,29.59 L357.32,29.59 L357.74,29.59 L358.16,29.59 L358.58,29.59 L358.99,29.59 L359.41,29.59 L359.83,29.59 L360.25,29.59 L360.67,29.59 L361.09,29.59 L361.51,29.59 L361.93,29.59 L362.35,29.59 L362.77,29.59 L363.19,29.59 L363.60,29.59 L364.02,29.59 L364.44,29.59 L364.86,29.59 L365.28,29.59 L365.70,29.59 L366.12,29.59 L366.54,29.59 L366.96,29.60 L367.38,29.60 L367.80,29.60 L368.21,29.60 L368.63,29.60 L369.05,29.60 L369.47,29.60 L369.89,29.60 L370.31,29.60 L370.73,29.60 L371.15,29.60 L371.57,29.60 L371.99,29.60 L372.41,29.60 L372.82,29.60 L373.24,29.60 L373.66,29.60 L374.08,29.60 L374.50,29.60 L374.92,29.60 L375.34,29.60 L375.76,29.60 L376.18,29.60 L376.60,29.60 L377.02,29.60 L377.43,29.60 L377.85,29.60 L378.27,29.60 L378.69,29.60 L379.11,29.60 L379.53,29.60 L379.95,29.60 L380.37,29.60 L380.79,29.60 L381.21,29.60 L381.62,29.60 L382.04,29.60 L382.46,29.60 L382.88,29.60 L383.30,29.60 L383.72,29.60 L384.14,29.60 L384.56,29.60 L384.98,29.60 L385.40,29.60 L385.82,29.60 L386.23,29.60 L386.65,29.60 L387.07,29.60 L387.49,29.60 L387.91,29.60 L388.33,29.60 L388.75,29.60 L389.17,29.60 L389.59,29.60 L390.01,29.60 L390.43,29.60 L390.84,29.60 L391.26,29.60 L391.68,29.60 L392.10,29.63 L392.52,29.71 L392.94,29.88 L393.36,30.16 L393.78,30.54 L394.20,31.03 L394.62,31.61 L395.04,32.29 L395.45,33.05 L395.87,33.89 L396.29,34.79 L396.71,35.77 L397.13,36.79 L397.55,37.87 L397.97,38.99 L398.39,40.14 L398.81,41.34 L399.23,42.56 L399.65,43.81 L400.06,45.08 L400.48,46.37 L400.90,47.68 L401.32,49.00 L401.74,50.34 L402.16,51.69 L402.58,53.04 L403.00,54.41 L403.42,55.78 L403.84,57.15 L404.26,58.52 L404.67,59.90 L405.09,61.26 L405.51,62.63 L405.93,63.98 L406.35,65.33 L406.77,66.66 L407.19,67.99 L407.61,69.29 L408.03,70.59 L408.45,71.87 L408.87,73.12 L409.28,74.37 L409.70,75.59 L410.12,76.79 L410.54,77.97 L410.96,79.13 L411.38,80.26 L411.80,81.38 L412.22,82.46 L412.64,83.53 L413.06,84.57 L413.47,85.59 L413.89,86.58 L414.31,87.54 L414.73,88.48 L415.15,89.40 L415.57,90.28 L415.99,91.15 L416.41,91.98 L416.83,92.79 L417.25,93.58 L417.67,94.34 L418.08,95.07 L418.50,95.78 L418.92,96.46 L419.34,97.12 L419.76,97.76 L420.18,98.37 L420.60,98.95 L421.02,99.51 L421.44,100.05 L421.86,100.56 L422.28,101.05 L422.69,101.52 L423.11,101.97 L423.53,102.40 L423.95,102.80 L424.37,103.18 L424.79,103.55 L425.21,103.89 L425.63,104.22 L426.05,104.52 L426.47,104.81 L426.89,105.08 L427.30,105.33 L427.72,105.56 L428.14,105.78 L428.56,105.99 L428.98,106.17 L429.40,106.34 L429.82,106.50 L430.24,106.65 L430.66,106.78 L431.08,106.89 L431.50,107.00 L431.91,107.09 L432.33,107.17 L432.75,107.24 L433.17,107.30 L433.59,107.34 L434.01,107.38 L434.43,107.41 L434.85,107.43 L435.27,107.44 L435.69,107.45 L436.11,107.44 L436.52,107.43 L436.94,107.41 L437.36,107.38 L437.78,107.35 L438.20,107.31 L438.62,107.27 L439.04,107.22 L439.46,107.17 L439.88,107.11 L440.30,107.05 L440.72,106.98 L441.13,106.91 L441.55,106.84 L441.97,106.76 L442.39,106.68 L442.81,106.60 L443.23,106.51 L443.65,106.43 L444.07,106.34 L444.49,106.25 L444.91,106.16 L445.32,106.07 L445.74,105.97 L446.16,105.88 L446.58,105.78 L447.00,105.69 L447.42,105.59 L447.84,105.50 L448.26,105.40 L448.68,105.31 L449.10,105.21 L449.52,105.12 L449.93,105.02 L450.35,104.93 L450.77,104.84 L451.19,104.74 L451.61,104.65 L452.03,104.56 L452.45,104.47 L452.87,104.39 L453.29,104.30 L453.71,104.22 L454.13,104.13 L454.54,104.05 L454.96,103.97 L455.38,103.89 L455.80,103.81 L456.22,103.74 L456.64,103.66 L457.06,103.59 L457.48,103.52 L457.90,103.45 L458.32,103.39 L458.74,103.32 L459.15,103.26 L459.57,103.20 L459.99,103.14 L460.41,103.08 L460.83,103.02 L461.25,102.97 L461.67,102.92 L462.09,102.86 L462.51,102.82 L462.93,102.77 L463.35,102.72 L463.76,102.68 L464.18,102.64 L464.60,102.60 L465.02,102.56 L465.44,102.52 L465.86,102.48 L466.28,102.45 L466.70,102.42 L467.12,102.39 L467.54,102.36 L467.96,102.33 L468.37,102.30 L468.79,102.28 L469.21,102.25 L469.63,102.23 L470.05,102.21 L470.47,102.19 L470.89,102.17 L471.31,102.15 L471.73,102.14 L472.15,102.12 L472.57,102.11 L472.98,102.10 L473.40,102.08 L473.82,102.07 L474.24,102.06 L474.66,102.05 L475.08,102.05 L475.50,102.04 L475.92,102.03 L476.34,102.03 L476.76,102.02 L477.18,102.02 L477.59,102.02 L478.01,102.01 L478.43,102.01 L478.85,102.01 L479.27,102.01 L479.69,102.01 L480.11,102.01 L480.53,102.01 L480.95,102.01 L481.37,102.01 L481.78,102.02 L482.20,102.02 L482.62,102.02 L483.04,102.02 L483.46,102.03 L483.88,102.03 L484.30,102.04 L484.72,102.04 L485.14,102.05 L485.56,102.05 L485.98,102.06 L486.39,102.06 L486.81,102.07 L487.23,102.07 L487.65,102.08 L488.07,102.09 L488.49,102.09 L488.91,102.10 L489.33,102.11 L489.75,102.11 L490.17,102.12 L490.59,102.12 L491.00,102.13 L491.42,102.14 L491.84,102.14 L492.26,102.15 L492.68,102.16 L493.10,102.16 L493.52,102.17 L493.94,102.18 L494.36,102.18 L494.78,102.19 L495.20,102.20 L495.61,102.20 L496.03,102.21 L496.45,102.22 L496.87,102.22 L497.29,102.23 L497.71,102.23 L498.13,102.24 L498.55,102.25 L498.97,102.25 L499.39,102.26 L499.81,102.26 L500.22,102.27 L500.64,102.27 L501.06,102.28 L501.48,102.28 L501.90,102.29 L502.32,102.29 L502.74,102.30 L503.16,102.30 L503.58,102.30 L504.00,102.31 L504.42,102.31 L504.83,102.32 L505.25,102.32 L505.67,102.32 L506.09,102.33 L506.51,102.33 L506.93,102.33 L507.35,102.34 L507.77,102.34 L508.19,102.34 L508.61,102.35 L509.02,102.35 L509.44,102.35 L509.86,102.35 L510.28,102.36 L510.70,102.36 L511.12,102.36 L511.54,102.36 L511.96,102.36 L512.38,102.37 L512.80,102.37 L513.22,102.37 L513.63,102.37 L514.05,102.37 L514.47,102.37 L514.89,102.38 L515.31,102.38 L515.73,102.38 L516.15,102.38 L516.57,102.38 L516.99,102.38 L517.41,102.38 L517.83,102.38 L518.24,102.38 L518.66,102.38 L519.08,102.38 L519.50,102.38 L519.92,102.39 L520.34,102.39 L520.76,102.39 L521.18,102.39 L521.60,102.39 L522.02,102.39 L522.44,102.39 L522.85,102.39 L523.27,102.39 L523.69,102.39 L524.11,102.39 L524.53,102.39 L524.95,102.39 L525.37,102.39 L525.79,102.39 L526.21,102.39 L526.63,102.39 L527.05,102.39 L527.46,102.39 L527.88,102.38 L528.30,102.38 L528.72,102.38 L529.14,102.38 L529.56,102.38 L529.98,102.38 L530.40,102.38 L530.82,102.38 L531.24,102.38 L531.66,102.38 L532.07,102.38 L532.49,102.38 L532.91,102.38 L533.33,102.38 L533.75,102.38 L534.17,102.38 L534.59,102.38 L535.01,102.38 L535.43,102.38 L535.85,102.38 L536.27,102.38 L536.68,102.38 L537.10,102.38 L537.52,102.38 L537.94,102.37 L538.36,102.37 L538.78,102.37 L539.20,102.37 L539.62,102.37 L540.04,102.37 L540.46,102.37 L540.88,102.37 L541.29,102.37 L541.71,102.37 L542.13,102.37 L542.55,102.37 L542.97,102.37 L543.39,102.37 L543.81,102.37 L544.23,102.37 L544.65,102.37 L545.07,102.37 L545.48,102.37 L545.90,102.37 L546.32,102.37 L546.74,102.37 L547.16,102.37 L547.58,102.37 L548.00,102.37 L548.42,102.37 L548.84,102.37 L549.26,102.36 L549.68,102.36 L550.09,102.36 L550.51,102.36 L550.93,102.36 L551.35,102.36 L551.77,102.36 L552.19,102.36 L552.61,102.36 L553.03,102.36 L553.45,102.36 L553.87,102.36 L554.29,102.36 L554.70,102.36 L555.12,102.36 L555.54,102.36 L555.96,102.36 L556.38,102.36 L556.80,102.36 L557.22,102.36 L557.64,102.36 L558.06,102.36 L558.48,102.36 L558.90,102.36 L559.31,102.36 L559.73,102.36 L560.15,102.36 L560.57,102.36 L560.99,102.36 L561.41,102.36 L561.83,102.36 L562.25,102.36 L562.67,102.36 L563.09,102.36 L563.51,102.36 L563.92,102.36 L564.34,102.36 L564.76,102.36 L565.18,102.36 L565.60,102.36 L566.02,102.36 L566.44,102.36 L566.86,102.36 L567.28,102.36 L567.70,102.36 L568.12,102.36 L568.53,102.36 L568.95,102.36 L569.37,102.36 L569.79,102.36 L570.21,102.36 L570.63,102.36 L571.05,102.36 L571.47,102.36 L571.89,102.36 L572.31,102.36 L572.73,102.36 L573.14,102.36 L573.56,102.36 L573.98,102.36 L574.40,102.36 L574.82,102.36 L575.24,102.36 L575.66,102.36 L576.08,102.36 L576.50,102.36 L576.92,102.36 L577.33,102.36 L577.75,102.36 L578.17,102.36 L578.59,102.36 L579.01,102.36 L579.43,102.36 L579.85,102.36 L580.27,102.36 L580.69,102.36 L581.11,102.36 L581.53,102.36 L581.94,102.36 L582.36,102.36 L582.78,102.36 L583.20,102.36 L583.62,102.36 L584.04,102.36 L584.46,102.36 L584.88,102.36 L585.30,102.36 L585.72,102.36 L586.14,102.36 L586.55,102.36 L586.97,102.36 L587.39,102.36 L587.81,102.36 L588.23,102.36 L588.65,102.36 L589.07,102.36 L589.49,102.36 L589.91,102.36 L590.33,102.36 L590.75,102.36 L591.16,102.36 L591.58,102.36 L592.00,102.36 L592.42,102.36 L592.84,102.36 L593.26,102.36 L593.68,102.36 L594.10,102.36 L594.52,102.36 L594.94,102.36 L595.36,102.36 L595.77,102.36 L596.19,102.36 L596.61,102.36 L597.03,102.36 L597.45,102.36 L597.87,102.36 L598.29,102.36 L598.71,102.36 L599.13,102.36 L599.55,102.36 L599.97,102.36 L600.38,102.36 L600.80,102.36 L601.22,102.36 L601.64,102.36 L602.06,102.36 L602.48,102.36 L602.90,102.36 L603.32,102.36 L603.74,102.36 L604.16,102.36 L604.58,102.36 L604.99,102.36 L605.41,102.36 L605.83,102.36 L606.25,102.36 L606.67,102.36 L607.09,102.36 L607.51,102.36 L607.93,102.36 L608.35,102.36 L608.77,102.36 L609.18,102.36 L609.60,102.36 L610.02,102.36 L610.44,102.36 L610.86,102.36 L611.28,102.36 L611.70,102.36 L612.12,102.36 L612.54,102.36 L612.96,102.36 L613.38,102.36 L613.79,102.36 L614.21,102.36 L614.63,102.36 L615.05,102.36 L615.47,102.36 L615.89,102.36 L616.31,102.36 L616.73,102.36 L617.15,102.36 L617.57,102.36 L617.99,102.36 L618.40,102.36 L618.82,102.36 L619.24,102.36 L619.66,102.36 L620.08,102.36 L620.50,102.36 L620.92,102.36 L621.34,102.36 L621.76,102.36 L622.18,102.36 L622.60,102.36 L623.01,102.36 L623.43,102.36 L623.85,102.36 L624.27,102.36 L624.69,102.36 L625.11,102.36 L625.53,102.36 L625.95,102.36 L626.37,102.36 L626.79,102.36 L627.21,102.36 L627.62,102.36 L628.04,102.36 L628.46,102.36 L628.88,102.36 L629.30,102.36 L629.72,102.36 L630.14,102.36 L630.56,102.36 L630.98,102.36 L631.40,102.36 L631.82,102.36 L632.23,102.36 L632.65,102.36 L633.07,102.36 L633.49,102.36 L633.91,102.36 L634.33,102.36 L634.75,102.36 L635.17,102.36 L635.59,102.36 L636.01,102.36 L636.43,102.36 L636.84,102.36 L637.26,102.36 L637.68,102.36 L638.10,102.36 L638.52,102.36 L638.94,102.36 L639.36,102.36 L639.78,102.36 L640.20,102.36 L640.62,102.36 L641.03,102.36 L641.45,102.36 L641.87,102.36 L642.29,102.36 L642.71,102.36 L643.13,102.36 L643.55,102.36 L643.97,102.36 L644.39,102.36 L644.81,102.36 L645.23,102.36 L645.64,102.36 L646.06,102.36 L646.48,102.36 L646.90,102.36 L647.32,102.36 L647.74,102.36 L648.16,102.36 L648.58,102.36 L649.00,102.36 L649.42,102.36 L649.84,102.36 L650.25,102.36 L650.67,102.36 L651.09,102.36 L651.51,102.36 L651.93,102.36 L652.35,102.36 L652.77,102.36 L653.19,102.36 L653.61,102.36 L654.03,102.36 L654.45,102.36 L654.86,102.36 L655.28,102.36 L655.70,102.36 L656.12,102.36 L656.54,102.36 L656.96,102.36 L657.38,102.36 L657.80,102.36 L658.22,102.36 L658.64,102.36 L659.06,102.36 L659.47,102.36 L659.89,102.36 L660.31,102.36 L660.73,102.36 L661.15,102.36 L661.57,102.36 L661.99,102.36 L662.41,102.36 L662.83,102.36 L663.25,102.36 L663.67,102.36 L664.08,102.36 L664.50,102.36 L664.92,102.36 L665.34,102.36 L665.76,102.36 L666.18,102.36 L666.60,102.36 L667.02,102.36 L667.44,102.36 L667.86,102.36 L668.28,102.36 L668.69,102.36 L669.11,102.36 L669.53,102.36 L669.95,102.36 L670.37,102.36 L670.79,102.36 L671.21,102.36 L671.63,102.36 L672.05,102.36 L672.47,102.36 L672.88,102.36 L673.30,102.36 L673.72,102.36 L674.14,102.36 L674.56,102.36 L674.98,102.36 L675.40,102.36 L675.82,102.36 L676.24,102.36 L676.66,102.36 L677.08,102.36 L677.49,102.36 L677.91,102.36 L678.33,102.36 L678.75,102.36 L679.17,102.36 L679.59,102.36 L680.01,102.36 L680.43,102.36 L680.85,102.36 L681.27,102.36 L681.69,102.36 L682.10,102.36 L682.52,102.36 L682.94,102.36 L683.36,102.36 L683.78,102.36 L684.20,102.36" style="stroke:#000000;stroke-width:3"/>
<path d="M47.20,211.50 L47.62,211.50 L48.04,211.50 L48.46,211.50 L48.88,211.50 L49.30,211.50 L49.71,211.50 L50.13,211.50 L50.55,211.50 L50.97,211.50 L51.39,211.50 L51.81,211.50 L52.23,211.50 L52.65,211.50 L53.07,211.50 L53.49,211.50 L53.91,211.50 L54.32,211.50 L54.74,211.50 L55.16,211.50 L55.58,211.50 L56.00,211.50 L56.42,211.46 L56.84,211.28 L57.26,210.91 L57.68,210.31 L58.10,209.47 L58.52,208.37 L58.93,207.04 L59.35,205.47 L59.77,203.69 L60.19,201.70 L60.61,199.54 L61.03,197.21 L61.45,194.73 L61.87,192.12 L62.29,189.39 L62.71,186.56 L63.12,183.63 L63.54,180.61 L63.96,177.53 L64.38,174.38 L64.80,171.18 L65.22,167.92 L65.64,164.62 L66.06,161.29 L66.48,157.92 L66.90,154.52 L67.32,151.10 L67.73,147.66 L68.15,144.21 L68.57,140.75 L68.99,137.28 L69.41,133.82 L69.83,130.35 L70.25,126.90 L70.67,123.46 L71.09,120.05 L71.51,116.65 L71.93,113.28 L72.34,109.95 L72.76,106.65 L73.18,103.40 L73.60,100.18 L74.02,97.02 L74.44,93.91 L74.86,90.85 L75.28,87.85 L75.70,84.91 L76.12,82.03 L76.54,79.22 L76.95,76.47 L77.37,73.79 L77.79,71.19 L78.21,68.66 L78.63,66.20 L79.05,63.82 L79.47,61.51 L79.89,59.28 L80.31,57.14 L80.73,55.07 L81.15,53.08 L81.56,51.17 L81.98,49.34 L82.40,47.60 L82.82,45.93 L83.24,44.35 L83.66,42.85 L84.08,41.42 L84.50,40.08 L84.92,38.82 L85.34,37.64 L85.76,36.54 L86.17,35.51 L86.59,34.57 L87.01,33.70 L87.43,32.90 L87.85,32.18 L88.27,31.53 L88.69,30.95 L89.11,30.44 L89.53,30.00 L89.95,29.63 L90.37,29.32 L90.78,29.08 L91.20,28.90 L91.62,28.78 L92.04,28.72 L92.46,28.72 L92.88,28.77 L93.30,28.88 L93.72,29.04 L94.14,29.25 L94.56,29.51 L94.97,29.81 L95.39,30.16 L95.81,30.55 L96.23,30.98 L96.65,31.46 L97.07,31.96 L97.49,32.51 L97.91,33.08 L98.33,33.69 L98.75,34.33 L99.17,34.99 L99.58,35.68 L100.00,36.40 L100.42,37.13 L100.84,37.89 L101.26,38.66 L101.68,39.46 L102.10,40.26 L102.52,41.08 L102.94,41.92 L103.36,42.76 L103.78,43.61 L104.19,44.47 L104.61,45.33 L105.03,46.20 L105.45,47.07 L105.87,47.94 L106.29,48.81 L106.71,49.68 L107.13,50.55 L107.55,51.42 L107.97,52.28 L108.39,53.13 L108.80,53.97 L109.22,54.81 L109.64,55.64 L110.06,56.46 L110.48,57.27 L110.90,58.06 L111.32,58.84 L111.74,59.61 L112.16,60.37 L112.58,61.11 L113.00,61.83 L113.41,62.54 L113.83,63.23 L114.25,63.91 L114.67,64.56 L115.09,65.20 L115.51,65.82 L115.93,66.42 L116.35,67.00 L116.77,67.57 L117.19,68.11 L117.61,68.63 L118.02,69.13 L118.44,69.62 L118.86,70.08 L119.28,70.52 L119.70,70.94 L120.12,71.34 L120.54,71.72 L120.96,72.08 L121.38,72.42 L121.80,72.74 L122.22,73.04 L122.63,73.32 L123.05,73.58 L123.47,73.82 L123.89,74.04 L124.31,74.25 L124.73,74.43 L125.15,74.60 L125.57,74.75 L125.99,74.88 L126.41,74.99 L126.83,75.08 L127.24,75.16 L127.66,75.23 L128.08,75.28 L128.50,75.31 L128.92,75.33 L129.34,75.33 L129.76,75.32 L130.18,75.29 L130.60,75.26 L131.02,75.21 L131.43,75.14 L131.85,75.07 L132.27,74.98 L132.69,74.89 L133.11,74.78 L133.53,74.66 L133.95,74.54 L134.37,74.40 L134.79,74.26 L135.21,74.11 L135.63,73.95 L136.04,73.78 L136.46,73.61 L136.88,73.43 L137.30,73.25 L137.72,73.06 L138.14,72.87 L138.56,72.67 L138.98,72.47 L139.40,72.26 L139.82,72.06 L140.24,71.84 L140.65,71.63 L141.07,71.42 L141.49,71.20 L141.91,70.98 L142.33,70.76 L142.75,70.55 L143.17,70.33 L143.59,70.11 L144.01,69.89 L144.43,69.67 L144.85,69.46 L145.26,69.24 L145.68,69.03 L146.10,68.82 L146.52,68.61 L146.94,68.41 L147.36,68.20 L147.78,68.00 L148.20,67.81 L148.62,67.61 L149.04,67.42 L149.46,67.24 L149.87,67.06 L150.29,66.88 L150.71,66.70 L151.13,66.53 L151.55,66.37 L151.97,66.21 L152.39,66.05 L152.81,65.90 L153.23,65.75 L153.65,65.61 L154.07,65.47 L154.48,65.34 L154.90,65.21 L155.32,65.09 L155.74,64.98 L156.16,64.86 L156.58,64.76 L157.00,64.66 L157.42,64.56 L157.84,64.47 L158.26,64.38 L158.68,64.30 L159.09,64.23 L159.51,64.15 L159.93,64.09 L160.35,64.03 L160.77,63.97 L161.19,63.92 L161.61,63.87 L162.03,63.83 L162.45,63.79 L162.87,63.76 L163.28,63.73 L163.70,63.70 L164.12,63.68 L164.54,63.67 L164.96,63.65 L165.38,63.65 L165.80,63.64 L166.22,63.64 L166.64,63.64 L167.06,63.65 L167.48,63.66 L167.89,63.67 L168.31,63.68 L168.73,63.70 L169.15,63.72 L169.57,63.75 L169.99,63.77 L170.41,63.80 L170.83,63.83 L171.25,63.86 L171.67,63.90 L172.09,63.94 L172.50,63.98 L172.92,64.02 L173.34,64.06 L173.76,64.11 L174.18,64.15 L174.60,64.20 L175.02,64.25 L175.44,64.30 L175.86,64.35 L176.28,64.40 L176.70,64.45 L177.11,64.50 L177.53,64.56 L177.95,64.61 L178.37,64.66 L178.79,64.72 L179.21,64.77 L179.63,64.83 L180.05,64.88 L180.47,64.94 L180.89,64.99 L181.31,65.05 L181.72,65.10 L182.14,65.16 L182.56,65.21 L182.98,65.26 L183.40,65.31 L183.82,65.37 L184.24,65.42 L184.66,65.47 L185.08,65.52 L185.50,65.57 L185.92,65.61 L186.33,65.66 L186.75,65.71 L187.17,65.75 L187.59,65.79 L188.01,65.84 L188.43,65.88 L188.85,65.92 L189.27,65.96 L189.69,66.00 L190.11,66.03 L190.52,66.07 L190.94,66.10 L191.36,66.14 L191.78,66.17 L192.20,66.20 L192.62,66.23 L193.04,66.26 L193.46,66.29 L193.88,66.31 L194.30,66.34 L194.72,66.36 L195.13,66.38 L195.55,66.40 L195.97,66.42 L196.39,66.44 L196.81,66.46 L197.23,66.47 L197.65,66.49 L198.07,66.50 L198.49,66.51 L198.91,66.52 L199.33,66.53 L199.74,66.54 L200.16,66.55 L200.58,66.55 L201.00,66.56 L201.42,66.56 L201.84,66.57 L202.26,66.57 L202.68,66.57 L203.10,66.57 L203.52,66.57 L203.94,66.57 L204.35,66.57 L204.77,66.56 L205.19,66.56 L205.61,66.56 L206.03,66.55 L206.45,66.55 L206.87,66.54 L207.29,66.53 L207.71,66.52 L208.13,66.52 L208.55,66.51 L208.96,66.50 L209.38,66.49 L209.80,66.48 L210.22,66.47 L210.64,66.46 L211.06,66.44 L211.48,66.43 L211.90,66.42 L212.32,66.41 L212.74,66.40 L213.16,66.38 L213.57,66.37 L213.99,66.36 L214.41,66.34 L214.83,66.33 L215.25,66.32 L215.67,66.30 L216.09,66.29 L216.51,66.27 L216.93,66.26 L217.35,66.25 L217.77,66.23 L218.18,66.22 L218.60,66.21 L219.02,66.19 L219.44,66.18 L219.86,66.17 L220.28,66.15 L220.70,66.14 L221.12,66.13 L221.54,66.11 L221.96,66.10 L222.38,66.09 L222.79,66.08 L223.21,66.07 L223.63,66.05 L224.05,66.03 L224.47,65.98 L224.89,65.87 L225.31,65.71 L225.73,65.49 L226.15,65.21 L226.57,64.87 L226.98,64.46 L227.40,64.01 L227.82,63.50 L228.24,62.96 L228.66,62.36 L229.08,61.74 L229.50,61.08 L229.92,60.39 L230.34,59.67 L230.76,58.93 L231.18,58.17 L231.59,57.40 L232.01,56.60 L232.43,55.80 L232.85,54.98 L233.27,54.15 L233.69,53.31 L234.11,52.47 L234.53,51.61 L234.95,50.75 L235.37,49.89 L235.79,49.03 L236.20,48.16 L236.62,47.29 L237.04,46.42 L237.46,45.55 L237.88,44.69 L238.30,43.83 L238.72,42.97 L239.14,42.12 L239.56,41.28 L239.98,40.45 L240.40,39.62 L240.81,38.81 L241.23,38.01 L241.65,37.22 L242.07,36.44 L242.49,35.68 L242.91,34.93 L243.33,34.19 L243.75,33.48 L244.17,32.77 L244.59,32.09 L245.01,31.42 L245.42,30.77 L245.84,30.14 L246.26,29.53 L246.68,28.94 L247.10,28.36 L247.52,27.81 L247.94,27.28 L248.36,26.76 L248.78,26.27 L249.20,25.79 L249.62,25.34 L250.03,24.91 L250.45,24.49 L250.87,24.10 L251.29,23.73 L251.71,23.38 L252.13,23.04 L252.55,22.73 L252.97,22.44 L253.39,22.17 L253.81,21.92 L254.23,21.68 L254.64,21.47 L255.06,21.27 L255.48,21.10 L255.90,20.94 L256.32,20.80 L256.74,20.67 L257.16,20.56 L257.58,20.48 L258.00,20.40 L258.42,20.34 L258.83,20.30 L259.25,20.28 L259.67,20.26 L260.09,20.27 L260.51,20.28 L260.93,20.31 L261.35,20.36 L261.77,20.41 L262.19,20.48 L262.61,20.56 L263.03,20.65 L263.44,20.75 L263.86,20.86 L264.28,20.98 L264.70,21.11 L265.12,21.24 L265.54,21.39 L265.96,21.54 L266.38,21.70 L266.80,21.87 L267.22,22.05 L267.64,22.23 L268.05,22.41 L268.47,22.60 L268.89,22.80 L269.31,23.00 L269.73,23.20 L270.15,23.41 L270.57,23.62 L270.99,23.83 L271.41,24.04 L271.83,24.26 L272.25,24.47 L272.66,24.69 L273.08,24.91 L273.50,25.13 L273.92,25.35 L274.34,25.56 L274.76,25.78 L275.18,26.00 L275.60,26.21 L276.02,26.43 L276.44,26.64 L276.86,26.85 L277.27,27.05 L277.69,27.26 L278.11,27.46 L278.53,27.66 L278.95,27.86 L279.37,28.05 L279.79,28.24 L280.21,28.42 L280.63,28.60 L281.05,28.78 L281.47,28.95 L281.88,29.12 L282.30,29.28 L282.72,29.44 L283.14,29.60 L283.56,29.74 L283.98,29.89 L284.40,30.03 L284.82,30.16 L285.24,30.29 L285.66,30.42 L286.07,30.54 L286.49,30.65 L286.91,30.76 L287.33,30.87 L287.75,30.97 L288.17,31.06 L288.59,31.15 L289.01,31.23 L289.43,31.31 L289.85,31.39 L290.27,31.46 L290.68,31.52 L291.10,31.58 L291.52,31.63 L291.94,31.68 L292.36,31.73 L292.78,31.77 L293.20,31.81 L293.62,31.84 L294.04,31.87 L294.46,31.89 L294.88,31.91 L295.29,31.92 L295.71,31.93 L296.13,31.94 L296.55,31.95 L296.97,31.95 L297.39,31.94 L297.81,31.94 L298.23,31.93 L298.65,31.91 L299.07,31.90 L299.49,31.88 L299.90,31.85 L300.32,31.83 L300.74,31.80 L301.16,31.77 L301.58,31.74 L302.00,31.71 L302.42,31.67 L302.84,31.63 L303.26,31.59 L303.68,31.55 L304.10,31.51 L304.51,31.46 L304.93,31.42 L305.35,31.37 L305.77,31.32 L306.19,31.27 L306.61,31.22 L307.03,31.17 L307.45,31.11 L307.87,31.06 L308.29,31.01 L308.71,30.95 L309.12,30.90 L309.54,30.85 L309.96,30.79 L310.38,30.74 L310.80,30.68 L311.22,30.63 L311.64,30.57 L312.06,30.52 L312.48,30.46 L312.90,30.41 L313.32,30.36 L313.73,30.30 L314.15,30.25 L314.57,30.20 L314.99,30.15 L315.41,30.10 L315.83,30.05 L316.25,30.00 L316.67,29.95 L317.09,29.91 L317.51,29.86 L317.93,29.82 L318.34,29.77 L318.76,29.73 L319.18,29.69 L319.60,29.65 L320.02,29.61 L320.44,29.57 L320.86,29.54 L321.28,29.50 L321.70,29.47 L322.12,29.44 L322.53,29.40 L322.95,29.37 L323.37,29.35 L323.79,29.32 L324.21,29.29 L324.63,29.27 L325.05,29.24 L325.47,29.22 L325.89,29.20 L326.31,29.18 L326.73,29.16 L327.14,29.14 L327.56,29.13 L327.98,29.11 L328.40,29.10 L328.82,29.08 L329.24,29.07 L329.66,29.06 L330.08,29.05 L330.50,29.04 L330.92,29.04 L331.34,29.03 L331.75,29.03 L332.17,29.02 L332.59,29.02 L333.01,29.02 L333.43,29.02 L333.85,29.02 L334.27,29.02 L334.69,29.02 L335.11,29.02 L335.53,29.02 L335.95,29.03 L336.36,29.03 L336.78,29.04 L337.20,29.04 L337.62,29.05 L338.04,29.06 L338.46,29.07 L338.88,29.07 L339.30,29.08 L339.72,29.09 L340.14,29.10 L340.56,29.11 L340.97,29.12 L341.39,29.14 L341.81,29.15 L342.23,29.16 L342.65,29.17 L343.07,29.18 L343.49,29.20 L343.91,29.21 L344.33,29.22 L344.75,29.24 L345.17,29.25 L345.58,29.26 L346.00,29.28 L346.42,29.29 L346.84,29.30 L347.26,29.32 L347.68,29.33 L348.10,29.34 L348.52,29.36 L348.94,29.37 L349.36,29.39 L349.77,29.40 L350.19,29.41 L350.61,29.43 L351.03,29.44 L351.45,29.45 L351.87,29.46 L352.29,29.48 L352.71,29.49 L353.13,29.50 L353.55,29.51 L353.97,29.52 L354.38,29.54 L354.80,29.55 L355.22,29.56 L355.64,29.57 L356.06,29.58 L356.48,29.59 L356.90,29.60 L357.32,29.61 L357.74,29.62 L358.16,29.63 L358.58,29.64 L358.99,29.64 L359.41,29.65 L359.83,29.66 L360.25,29.67 L360.67,29.67 L361.09,29.68 L361.51,29.69 L361.93,29.69 L362.35,29.70 L362.77,29.70 L363.19,29.71 L363.60,29.71 L364.02,29.72 L364.44,29.72 L364.86,29.73 L365.28,29.73 L365.70,29.73 L366.12,29.74 L366.54,29.74 L366.96,29.74 L367.38,29.74 L367.80,29.75 L368.21,29.75 L368.63,29.75 L369.05,29.75 L369.47,29.75 L369.89,29.75 L370.31,29.75 L370.73,29.75 L371.15,29.75 L371.57,29.75 L371.99,29.75 L372.41,29.75 L372.82,29.75 L373.24,29.75 L373.66,29.75 L374.08,29.74 L374.50,29.74 L374.92,29.74 L375.34,29.74 L375.76,29.74 L376.18,29.73 L376.60,29.73 L377.02,29.73 L377.43,29.73 L377.85,29.72 L378.27,29.72 L378.69,29.72 L379.11,29.72 L379.53,29.71 L379.95,29.71 L380.37,29.71 L380.79,29.70 L381.21,29.70 L381.62,29.70 L382.04,29.69 L382.46,29.69 L382.88,29.69 L383.30,29.68 L383.72,29.68 L384.14,29.68 L384.56,29.67 L384.98,29.67 L385.40,29.67 L385.82,29.66 L386.23,29.66 L386.65,29.66 L387.07,29.65 L387.49,29.65 L387.91,29.65 L388.33,29.64 L388.75,29.64 L389.17,29.64 L389.59,29.63 L390.01,29.63 L390.43,29.63 L390.84,29.62 L391.26,29.62 L391.68,29.64 L392.10,29.72 L392.52,29.91 L392.94,30.20 L393.36,30.62 L393.78,31.17 L394.20,31.83 L394.62,32.62 L395.04,33.50 L395.45,34.49 L395.87,35.57 L396.29,36.74 L396.71,37.97 L397.13,39.28 L397.55,40.64 L397.97,42.06 L398.39,43.52 L398.81,45.02 L399.23,46.56 L399.65,48.14 L400.06,49.74 L400.48,51.37 L400.90,53.01 L401.32,54.68 L401.74,56.36 L402.16,58.06 L402.58,59.77 L403.00,61.49 L403.42,63.21 L403.84,64.94 L404.26,66.68 L404.67,68.41 L405.09,70.14 L405.51,71.87 L405.93,73.58 L406.35,75.29 L406.77,76.99 L407.19,78.67 L407.61,80.34 L408.03,81.99 L408.45,83.62 L408.87,85.22 L409.28,86.81 L409.70,88.36 L410.12,89.89 L410.54,91.39 L410.96,92.86 L411.38,94.30 L411.80,95.71 L412.22,97.08 L412.64,98.42 L413.06,99.73 L413.47,100.99 L413.89,102.22 L414.31,103.41 L414.73,104.57 L415.15,105.68 L415.57,106.76 L415.99,107.79 L416.41,108.79 L416.83,109.74 L417.25,110.66 L417.67,111.53 L418.08,112.36 L418.50,113.16 L418.92,113.91 L419.34,114.62 L419.76,115.29 L420.18,115.92 L420.60,116.51 L421.02,117.07 L421.44,117.58 L421.86,118.05 L422.28,118.49 L422.69,118.89 L423.11,119.25 L423.53,119.58 L423.95,119.87 L424.37,120.12 L424.79,120.34 L425.21,120.53 L425.63,120.68 L426.05,120.80 L426.47,120.90 L426.89,120.96 L427.30,120.99 L427.72,120.99 L428.14,120.96 L428.56,120.91 L428.98,120.83 L429.40,120.73 L429.82,120.60 L430.24,120.45 L430.66,120.27 L431.08,120.08 L431.50,119.86 L431.91,119.63 L432.33,119.37 L432.75,119.10 L433.17,118.81 L433.59,118.51 L434.01,118.19 L434.43,117.86 L434.85,117.52 L435.27,117.16 L435.69,116.79 L436.11,116.41 L436.52,116.03 L436.94,115.63 L437.36,115.23 L437.78,114.82 L438.20,114.40 L438.62,113.98 L439.04,113.56 L439.46,113.13 L439.88,112.70 L440.30,112.26 L440.72,111.83 L441.13,111.39 L441.55,110.96 L441.97,110.52 L442.39,110.09 L442.81,109.65 L443.23,109.22 L443.65,108.80 L444.07,108.38 L444.49,107.96 L444.91,107.54 L445.32,107.13 L445.74,106.73 L446.16,106.33 L446.58,105.94 L447.00,105.56 L447.42,105.18 L447.84,104.81 L448.26,104.45 L448.68,104.09 L449.10,103.75 L449.52,103.41 L449.93,103.08 L450.35,102.76 L450.77,102.45 L451.19,102.15 L451.61,101.86 L452.03,101.58 L452.45,101.31 L452.87,101.05 L453.29,100.79 L453.71,100.55 L454.13,100.32 L454.54,100.10 L454.96,99.89 L455.38,99.69 L455.80,99.50 L456.22,99.32 L456.64,99.15 L457.06,98.99 L457.48,98.84 L457.90,98.70 L458.32,98.57 L458.74,98.45 L459.15,98.34 L459.57,98.23 L459.99,98.14 L460.41,98.06 L460.83,97.98 L461.25,97.92 L461.67,97.86 L462.09,97.81 L462.51,97.77 L462.93,97.74 L463.35,97.72 L463.76,97.70 L464.18,97.69 L464.60,97.69 L465.02,97.70 L465.44,97.71 L465.86,97.73 L466.28,97.75 L466.70,97.78 L467.12,97.82 L467.54,97.86 L467.96,97.91 L468.37,97.96 L468.79,98.02 L469.21,98.08 L469.63,98.15 L470.05,98.22 L470.47,98.30 L470.89,98.38 L471.31,98.46 L471.73,98.55 L472.15,98.63 L472.57,98.73 L472.98,98.82 L473.40,98.92 L473.82,99.02 L474.24,99.12 L474.66,99.22 L475.08,99.32 L475.50,99.43 L475.92,99.54 L476.34,99.64 L476.76,99.75 L477.18,99.86 L477.59,99.97 L478.01,100.08 L478.43,100.19 L478.85,100.30 L479.27,100.41 L479.69,100.51 L480.11,100.62 L480.53,100.73 L480.95,100.84 L481.37,100.94 L481.78,101.04 L482.20,101.15 L482.62,101.25 L483.04,101.35 L483.46,101.45 L483.88,101.54 L484.30,101.64 L484.72,101.73 L485.14,101.82 L485.56,101.91 L485.98,102.00 L486.39,102.08 L486.81,102.17 L487.23,102.25 L487.65,102.33 L488.07,102.40 L488.49,102.48 L488.91,102.55 L489.33,102.62 L489.75,102.68 L490.17,102.74 L490.59,102.81 L491.00,102.86 L491.42,102.92 L491.84,102.97 L492.26,103.02 L492.68,103.07 L493.10,103.12 L493.52,103.16 L493.94,103.20 L494.36,103.24 L494.78,103.28 L495.20,103.31 L495.61,103.34 L496.03,103.37 L496.45,103.39 L496.87,103.42 L497.29,103.44 L497.71,103.46 L498.13,103.47 L498.55,103.49 L498.97,103.50 L499.39,103.51 L499.81,103.52 L500.22,103.53 L500.64,103.53 L501.06,103.53 L501.48,103.53 L501.90,103.53 L502.32,103.53 L502.74,103.53 L503.16,103.52 L503.58,103.51 L504.00,103.50 L504.42,103.49 L504.83,103.48 L505.25,103.47 L505.67,103.45 L506.09,103.44 L506.51,103.42 L506.93,103.40 L507.35,103.38 L507.77,103.36 L508.19,103.34 L508.61,103.32 L509.02,103.30 L509.44,103.28 L509.86,103.25 L510.28,103.23 L510.70,103.21 L511.12,103.18 L511.54,103.15 L511.96,103.13 L512.38,103.10 L512.80,103.08 L513.22,103.05 L513.63,103.02 L514.05,102.99 L514.47,102.97 L514.89,102.94 L515.31,102.91 L515.73,102.88 L516.15,102.86 L516.57,102.83 L516.99,102.80 L517.41,102.78 L517.83,102.75 L518.24,102.72 L518.66,102.70 L519.08,102.67 L519.50,102.65 L519.92,102.62 L520.34,102.60 L520.76,102.57 L521.18,102.55 L521.60,102.52 L522.02,102.50 L522.44,102.48 L522.85,102.46 L523.27,102.44 L523.69,102.41 L524.11,102.39 L524.53,102.37 L524.95,102.36 L525.37,102.34 L525.79,102.32 L526.21,102.30 L526.63,102.28 L527.05,102.27 L527.46,102.25 L527.88,102.24 L528.30,102.22 L528.72,102.21 L529.14,102.20 L529.56,102.19 L529.98,102.17 L530.40,102.16 L530.82,102.15 L531.24,102.14 L531.66,102.13 L532.07,102.13 L532.49,102.12 L532.91,102.11 L533.33,102.10 L533.75,102.10 L534.17,102.09 L534.59,102.09 L535.01,102.08 L535.43,102.08 L535.85,102.08 L536.27,102.07 L536.68,102.07 L537.10,102.07 L537.52,102.07 L537.94,102.07 L538.36,102.07 L538.78,102.07 L539.20,102.07 L539.62,102.07 L540.04,102.07 L540.46,102.07 L540.88,102.08 L541.29,102.08 L541.71,102.08 L542.13,102.08 L542.55,102.09 L542.97,102.09 L543.39,102.10 L543.81,102.10 L544.23,102.10 L544.65,102.11 L545.07,102.11 L545.48,102.12 L545.90,102.13 L546.32,102.13 L546.74,102.14 L547.16,102.14 L547.58,102.15 L548.00,102.16 L548.42,102.16 L548.84,102.17 L549.26,102.18 L549.68,102.18 L550.09,102.19 L550.51,102.20 L550.93,102.20 L551.35,102.21 L551.77,102.22 L552.19,102.22 L552.61,102.23 L553.03,102.24 L553.45,102.24 L553.87,102.25 L554.29,102.26 L554.70,102.26 L555.12,102.27 L555.54,102.28 L555.96,102.28 L556.38,102.29 L556.80,102.30 L557.22,102.30 L557.64,102.31 L558.06,102.31 L558.48,102.32 L558.90,102.33 L559.31,102.33 L559.73,102.34 L560.15,102.34 L560.57,102.35 L560.99,102.35 L561.41,102.36 L561.83,102.36 L562.25,102.37 L562.67,102.37 L563.09,102.38 L563.51,102.38 L563.92,102.38 L564.34,102.39 L564.76,102.39 L565.18,102.40 L565.60,102.40 L566.02,102.40 L566.44,102.41 L566.86,102.41 L567.28,102.41 L567.70,102.41 L568.12,102.42 L568.53,102.42 L568.95,102.42 L569.37,102.42 L569.79,102.42 L570.21,102.43 L570.63,102.43 L571.05,102.43 L571.47,102.43 L571.89,102.43 L572.31,102.43 L572.73,102.43 L573.14,102.43 L573.56,102.43 L573.98,102.44 L574.40,102.44 L574.82,102.44 L575.24,102.44 L575.66,102.44 L576.08,102.44 L576.50,102.44 L576.92,102.44 L577.33,102.43 L577.75,102.43 L578.17,102.43 L578.59,102.43 L579.01,102.43 L579.43,102.43 L579.85,102.43 L580.27,102.43 L580.69,102.43 L581.11,102.43 L581.53,102.43 L581.94,102.42 L582.36,102.42 L582.78,102.42 L583.20,102.42 L583.62,102.42 L584.04,102.42 L584.46,102.42 L584.88,102.41 L585.30,102.41 L585.72,102.41 L586.14,102.41 L586.55,102.41 L586.97,102.41 L587.39,102.40 L587.81,102.40 L588.23,102.40 L588.65,102.40 L589.07,102.40 L589.49,102.40 L589.91,102.39 L590.33,102.39 L590.75,102.39 L591.16,102.39 L591.58,102.39 L592.00,102.39 L592.42,102.38 L592.84,102.38 L593.26,102.38 L593.68,102.38 L594.10,102.38 L594.52,102.38 L594.94,102.37 L595.36,102.37 L595.77,102.37 L596.19,102.37 L596.61,102.37 L597.03,102.37 L597.45,102.37 L597.87,102.36 L598.29,102.36 L598.71,102.36 L599.13,102.36 L599.55,102.36 L599.97,102.36 L600.38,102.36 L600.80,102.36 L601.22,102.36 L601.64,102.35 L602.06,102.35 L602.48,102.35 L602.90,102.35 L603.32,102.35 L603.74,102.35 L604.16,102.35 L604.58,102.35 L604.99,102.35 L605.41,102.35 L605.83,102.35 L606.25,102.35 L606.67,102.35 L607.09,102.35 L607.51,102.35 L607.93,102.35 L608.35,102.34 L608.77,102.34 L609.18,102.34 L609.60,102.34 L610.02,102.34 L610.44,102.34 L610.86,102.34 L611.28,102.34 L611.70,102.34 L612.12,102.34 L612.54,102.34 L612.96,102.34 L613.38,102.34 L613.79,102.34 L614.21,102.34 L614.63,102.34 L615.05,102.34 L615.47,102.34 L615.89,102.34 L616.31,102.34 L616.73,102.34 L617.15,102.35 L617.57,102.35 L617.99,102.35 L618.40,102.35 L618.82,102.35 L619.24,102.35 L619.66,102.35 L620.08,102.35 L620.50,102.35 L620.92,102.35 L621.34,102.35 L621.76,102.35 L622.18,102.35 L622.60,102.35 L623.01,102.35 L623.43,102.35 L623.85,102.35 L624.27,102.35 L624.69,102.35 L625.11,102.35 L625.53,102.35 L625.95,102.35 L626.37,102.35 L626.79,102.35 L627.21,102.35 L627.62,102.35 L628.04,102.36 L628.46,102.36 L628.88,102.36 L629.30,102.36 L629.72,102.36 L630.14,102.36 L630.56,102.36 L630.98,102.36 L631.40,102.36 L631.82,102.36 L632.23,102.36 L632.65,102.36 L633.07,102.36 L633.49,102.36 L633.91,102.36 L634.33,102.36 L634.75,102.36 L635.17,102.36 L635.59,102.36 L636.01,102.36 L636.43,102.36 L636.84,102.36 L637.26,102.36 L637.68,102.36 L638.10,102.36 L638.52,102.36 L638.94,102.36 L639.36,102.36 L639.78,102.36 L640.20,102.36 L640.62,102.36 L641.03,102.37 L641.45,102.37 L641.87,102.37 L642.29,102.37 L642.71,102.37 L643.13,102.37 L643.55,102.37 L643.97,102.37 L644.39,102.37 L644.81,102.37 L645.23,102.37 L645.64,102.37 L646.06,102.37 L646.48,102.37 L646.90,102.37 L647.32,102.37 L647.74,102.37 L648.16,102.37 L648.58,102.37 L649.00,102.37 L649.42,102.37 L649.84,102.37 L650.25,102.37 L650.67,102.37 L651.09,102.37 L651.51,102.37 L651.93,102.37 L652.35,102.37 L652.77,102.37 L653.19,102.37 L653.61,102.37 L654.03,102.37 L654.45,102.37 L654.86,102.37 L655.28,102.37 L655.70,102.37 L656.12,102.37 L656.54,102.37 L656.96,102.37 L657.38,102.37 L657.80,102.37 L658.22,102.37 L658.64,102.37 L659.06,102.37 L659.47,102.37 L659.89,102.37 L660.31,102.36 L660.73,102.36 L661.15,102.36 L661.57,102.36 L661.99,102.36 L662.41,102.36 L662.83,102.36 L663.25,102.36 L663.67,102.36 L664.08,102.36 L664.50,102.36 L664.92,102.36 L665.34,102.36 L665.76,102.36 L666.18,102.36 L666.60,102.36 L667.02,102.36 L667.44,102.36 L667.86,102.36 L668.28,102.36 L668.69,102.36 L669.11,102.36 L669.53,102.36 L669.95,102.36 L670.37,102.36 L670.79,102.36 L671.21,102.36 L671.63,102.36 L672.05,102.36 L672.47,102.36 L672.88,102.36 L673.30,102.36 L673.72,102.36 L674.14,102.36 L674.56,102.36 L674.98,102.36 L675.40,102.36 L675.82,102.36 L676.24,102.36 L676.66,102.36 L677.08,102.36 L677.49,102.36 L677.91,102.36 L678.33,102.36 L678.75,102.36 L679.17,102.36 L679.59,102.36 L680.01,102.36 L680.43,102.36 L680.85,102.36 L681.27,102.36 L681.69,102.36 L682.10,102.36 L682.52,102.36 L682.94,102.36 L683.36,102.36 L683.78,102.36 L684.20,102.36" style="stroke:#000000;stroke-width:3;stroke-dasharray:14.7 8.8;stroke-dashoffset:23.25"/>
</g>
<g fill="none" stroke-linejoin="round" clip-path="url(#cb)">
<path d="M47.20,490.30 L47.62,486.80 L48.04,483.30 L48.46,479.80 L48.88,476.30 L49.30,472.80 L49.71,469.30 L50.13,465.80 L50.55,462.30 L50.97,458.80 L51.39,455.30 L51.81,451.80 L52.23,448.30 L52.65,444.80 L53.07,441.30 L53.49,437.80 L53.91,434.30 L54.32,430.80 L54.74,427.30 L55.16,423.80 L55.58,420.31 L56.00,416.82 L56.42,413.36 L56.84,409.91 L57.26,406.48 L57.68,403.09 L58.10,399.74 L58.52,396.42 L58.93,393.15 L59.35,389.92 L59.77,386.74 L60.19,383.62 L60.61,380.56 L61.03,377.56 L61.45,374.62 L61.87,371.74 L62.29,368.93 L62.71,366.19 L63.12,363.52 L63.54,360.92 L63.96,358.40 L64.38,355.95 L64.80,353.57 L65.22,351.27 L65.64,349.05 L66.06,346.90 L66.48,344.83 L66.90,342.84 L67.32,340.93 L67.73,339.10 L68.15,337.35 L68.57,335.67 L68.99,334.07 L69.41,332.55 L69.83,331.11 L70.25,329.74 L70.67,328.45 L71.09,327.24 L71.51,326.09 L71.93,325.03 L72.34,324.03 L72.76,323.10 L73.18,322.24 L73.60,321.46 L74.02,320.73 L74.44,320.08 L74.86,319.49 L75.28,318.96 L75.70,318.49 L76.12,318.08 L76.54,317.73 L76.95,317.44 L77.37,317.20 L77.79,317.02 L78.21,316.89 L78.63,316.80 L79.05,316.77 L79.47,316.78 L79.89,316.83 L80.31,316.93 L80.73,317.07 L81.15,317.25 L81.56,317.47 L81.98,317.72 L82.40,318.01 L82.82,318.33 L83.24,318.68 L83.66,319.05 L84.08,319.46 L84.50,319.89 L84.92,320.35 L85.34,320.83 L85.76,321.33 L86.17,321.85 L86.59,322.39 L87.01,322.94 L87.43,323.51 L87.85,324.09 L88.27,324.68 L88.69,325.29 L89.11,325.90 L89.53,326.52 L89.95,327.15 L90.37,327.79 L90.78,328.43 L91.20,329.07 L91.62,329.71 L92.04,330.36 L92.46,331.00 L92.88,331.65 L93.30,332.29 L93.72,332.93 L94.14,333.57 L94.56,334.20 L94.97,334.82 L95.39,335.44 L95.81,336.05 L96.23,336.66 L96.65,337.25 L97.07,337.84 L97.49,338.42 L97.91,338.99 L98.33,339.54 L98.75,340.09 L99.17,340.63 L99.58,341.15 L100.00,341.66 L100.42,342.16 L100.84,342.64 L101.26,343.12 L101.68,343.57 L102.10,344.02 L102.52,344.45 L102.94,344.87 L103.36,345.27 L103.78,345.66 L104.19,346.04 L104.61,346.40 L105.03,346.74 L105.45,347.07 L105.87,347.39 L106.29,347.70 L106.71,347.98 L107.13,348.26 L107.55,348.52 L107.97,348.77 L108.39,349.00 L108.80,349.22 L109.22,349.42 L109.64,349.62 L110.06,349.80 L110.48,349.96 L110.90,350.12 L111.32,350.26 L111.74,350.39 L112.16,350.51 L112.58,350.61 L113.00,350.71 L113.41,350.79 L113.83,350.86 L114.25,350.92 L114.67,350.97 L115.09,351.02 L115.51,351.05 L115.93,351.07 L116.35,351.08 L116.77,351.09 L117.19,351.08 L117.61,351.07 L118.02,351.05 L118.44,351.02 L118.86,350.99 L119.28,350.95 L119.70,350.90 L120.12,350.85 L120.54,350.79 L120.96,350.72 L121.38,350.65 L121.80,350.58 L122.22,350.50 L122.63,350.41 L123.05,350.33 L123.47,350.23 L123.89,350.14 L124.31,350.04 L124.73,349.94 L125.15,349.83 L125.57,349.73 L125.99,349.62 L126.41,349.51 L126.83,349.39 L127.24,349.28 L127.66,349.16 L128.08,349.05 L128.50,348.93 L128.92,348.81 L129.34,348.69 L129.76,348.58 L130.18,348.46 L130.60,348.34 L131.02,348.22 L131.43,348.11 L131.85,347.99 L132.27,347.88 L132.69,347.76 L133.11,347.65 L133.53,347.54 L133.95,347.43 L134.37,347.32 L134.79,347.21 L135.21,347.11 L135.63,347.00 L136.04,346.90 L136.46,346.80 L136.88,346.70 L137.30,346.61 L137.72,346.52 L138.14,346.43 L138.56,346.34 L138.98,346.25 L139.40,346.17 L139.82,346.09 L140.24,346.01 L140.65,345.93 L141.07,345.86 L141.49,345.79 L141.91,345.72 L142.33,345.66 L142.75,345.59 L143.17,345.53 L143.59,345.48 L144.01,345.42 L144.43,345.37 L144.85,345.32 L145.26,345.27 L145.68,345.23 L146.10,345.19 L146.52,345.15 L146.94,345.11 L147.36,345.07 L147.78,345.04 L148.20,345.01 L148.62,344.98 L149.04,344.96 L149.46,344.94 L149.87,344.92 L150.29,344.90 L150.71,344.88 L151.13,344.86 L151.55,344.85 L151.97,344.84 L152.39,344.83 L152.81,344.82 L153.23,344.82 L153.65,344.82 L154.07,344.81 L154.48,344.81 L154.90,344.81 L155.32,344.82 L155.74,344.82 L156.16,344.83 L156.58,344.83 L157.00,344.84 L157.42,344.85 L157.84,344.86 L158.26,344.87 L158.68,344.88 L159.09,344.90 L159.51,344.91 L159.93,344.92 L160.35,344.94 L160.77,344.96 L161.19,344.97 L161.61,344.99 L162.03,345.01 L162.45,345.03 L162.87,345.05 L163.28,345.07 L163.70,345.09 L164.12,345.11 L164.54,345.13 L164.96,345.15 L165.38,345.17 L165.80,345.19 L166.22,345.21 L166.64,345.23 L167.06,345.26 L167.48,345.28 L167.89,345.30 L168.31,345.32 L168.73,345.34 L169.15,345.36 L169.57,345.38 L169.99,345.40 L170.41,345.43 L170.83,345.45 L171.25,345.47 L171.67,345.49 L172.09,345.51 L172.50,345.53 L172.92,345.54 L173.34,345.56 L173.76,345.58 L174.18,345.60 L174.60,345.62 L175.02,345.64 L175.44,345.65 L175.86,345.67 L176.28,345.68 L176.70,345.70 L177.11,345.72 L177.53,345.73 L177.95,345.74 L178.37,345.76 L178.79,345.77 L179.21,345.78 L179.63,345.80 L180.05,345.81 L180.47,345.82 L180.89,345.83 L181.31,345.84 L181.72,345.85 L182.14,345.86 L182.56,345.87 L182.98,345.88 L183.40,345.89 L183.82,345.89 L184.24,345.90 L184.66,345.91 L185.08,345.91 L185.50,345.92 L185.92,345.92 L186.33,345.93 L186.75,345.93 L187.17,345.94 L187.59,345.94 L188.01,345.95 L188.43,345.95 L188.85,345.95 L189.27,345.95 L189.69,345.96 L190.11,345.96 L190.52,345.96 L190.94,345.96 L191.36,345.96 L191.78,345.96 L192.20,345.96 L192.62,345.96 L193.04,345.96 L193.46,345.96 L193.88,345.96 L194.30,345.96 L194.72,345.95 L195.13,345.95 L195.55,345.95 L195.97,345.95 L196.39,345.95 L196.81,345.94 L197.23,345.94 L197.65,345.94 L198.07,345.94 L198.49,345.93 L198.91,345.93 L199.33,345.93 L199.74,345.92 L200.16,345.92 L200.58,345.92 L201.00,345.91 L201.42,345.91 L201.84,345.91 L202.26,345.90 L202.68,345.90 L203.10,345.89 L203.52,345.89 L203.94,345.89 L204.35,345.88 L204.77,345.88 L205.19,345.87 L205.61,345.87 L206.03,345.87 L206.45,345.86 L206.87,345.86 L207.29,345.85 L207.71,345.85 L208.13,345.85 L208.55,345.84 L208.96,345.84 L209.38,345.84 L209.80,345.83 L210.22,345.83 L210.64,345.83 L211.06,345.82 L211.48,345.82 L211.90,345.82 L212.32,345.81 L212.74,345.81 L213.16,345.81 L213.57,345.80 L213.99,345.80 L214.41,345.80 L214.83,345.79 L215.25,344.92 L215.67,344.04 L216.09,343.16 L216.51,342.28 L216.93,341.41 L217.35,340.53 L217.77,339.65 L218.18,338.78 L218.60,337.90 L219.02,337.02 L219.44,336.15 L219.86,335.27 L220.28,334.39 L220.70,333.52 L221.12,332.64 L221.54,331.76 L221.96,330.89 L222.38,330.01 L222.79,329.13 L223.21,328.26 L223.63,327.39 L224.05,326.52 L224.47,325.66 L224.89,324.80 L225.31,323.95 L225.73,323.11 L226.15,322.28 L226.57,321.46 L226.98,320.66 L227.40,319.86 L227.82,319.08 L228.24,318.32 L228.66,317.57 L229.08,316.83 L229.50,316.11 L229.92,315.41 L230.34,314.72 L230.76,314.06 L231.18,313.41 L231.59,312.78 L232.01,312.16 L232.43,311.57 L232.85,310.99 L233.27,310.44 L233.69,309.90 L234.11,309.39 L234.53,308.89 L234.95,308.41 L235.37,307.95 L235.79,307.52 L236.20,307.10 L236.62,306.70 L237.04,306.32 L237.46,305.96 L237.88,305.62 L238.30,305.30 L238.72,304.99 L239.14,304.71 L239.56,304.44 L239.98,304.19 L240.40,303.96 L240.81,303.75 L241.23,303.55 L241.65,303.37 L242.07,303.21 L242.49,303.06 L242.91,302.93 L243.33,302.81 L243.75,302.71 L244.17,302.63 L244.59,302.55 L245.01,302.50 L245.42,302.45 L245.84,302.42 L246.26,302.40 L246.68,302.39 L247.10,302.39 L247.52,302.41 L247.94,302.43 L248.36,302.47 L248.78,302.51 L249.20,302.57 L249.62,302.63 L250.03,302.70 L250.45,302.78 L250.87,302.87 L251.29,302.97 L251.71,303.07 L252.13,303.18 L252.55,303.29 L252.97,303.41 L253.39,303.54 L253.81,303.67 L254.23,303.80 L254.64,303.94 L255.06,304.09 L255.48,304.23 L255.90,304.38 L256.32,304.53 L256.74,304.69 L257.16,304.84 L257.58,305.00 L258.00,305.16 L258.42,305.32 L258.83,305.48 L259.25,305.64 L259.67,305.80 L260.09,305.96 L260.51,306.12 L260.93,306.28 L261.35,306.44 L261.77,306.60 L262.19,306.76 L262.61,306.92 L263.03,307.07 L263.44,307.23 L263.86,307.38 L264.28,307.53 L264.70,307.67 L265.12,307.82 L265.54,307.96 L265.96,308.10 L266.38,308.24 L266.80,308.37 L267.22,308.50 L267.64,308.63 L268.05,308.75 L268.47,308.87 L268.89,308.99 L269.31,309.11 L269.73,309.22 L270.15,309.33 L270.57,309.43 L270.99,309.53 L271.41,309.63 L271.83,309.72 L272.25,309.81 L272.66,309.90 L273.08,309.98 L273.50,310.06 L273.92,310.14 L274.34,310.21 L274.76,310.28 L275.18,310.34 L275.60,310.40 L276.02,310.46 L276.44,310.52 L276.86,310.57 L277.27,310.62 L277.69,310.66 L278.11,310.70 L278.53,310.74 L278.95,310.78 L279.37,310.81 L279.79,310.84 L280.21,310.86 L280.63,310.89 L281.05,310.91 L281.47,310.93 L281.88,310.94 L282.30,310.95 L282.72,310.96 L283.14,310.97 L283.56,310.98 L283.98,310.98 L284.40,310.98 L284.82,310.98 L285.24,310.98 L285.66,310.97 L286.07,310.97 L286.49,310.96 L286.91,310.95 L287.33,310.93 L287.75,310.92 L288.17,310.91 L288.59,310.89 L289.01,310.87 L289.43,310.85 L289.85,310.83 L290.27,310.81 L290.68,310.79 L291.10,310.77 L291.52,310.74 L291.94,310.72 L292.36,310.69 L292.78,310.67 L293.20,310.64 L293.62,310.61 L294.04,310.58 L294.46,310.56 L294.88,310.53 L295.29,310.50 L295.71,310.47 L296.13,310.44 L296.55,310.41 L296.97,310.38 L297.39,310.35 L297.81,310.32 L298.23,310.29 L298.65,310.26 L299.07,310.23 L299.49,310.20 L299.90,310.18 L300.32,310.15 L300.74,310.12 L301.16,310.09 L301.58,310.06 L302.00,310.04 L302.42,310.01 L302.84,309.98 L303.26,309.96 L303.68,309.93 L304.10,309.91 L304.51,309.88 L304.93,309.86 L305.35,309.84 L305.77,309.81 L306.19,309.79 L306.61,309.77 L307.03,309.75 L307.45,309.73 L307.87,309.71 L308.29,309.69 L308.71,309.67 L309.12,309.65 L309.54,309.64 L309.96,309.62 L310.38,309.61 L310.80,309.59 L311.22,309.58 L311.64,309.56 L312.06,309.55 L312.48,309.54 L312.90,309.53 L313.32,309.51 L313.73,309.50 L314.15,309.49 L314.57,309.48 L314.99,309.48 L315.41,309.47 L315.83,309.46 L316.25,309.45 L316.67,309.45 L317.09,309.44 L317.51,309.44 L317.93,309.43 L318.34,309.43 L318.76,309.42 L319.18,309.42 L319.60,309.42 L320.02,309.42 L320.44,309.41 L320.86,309.41 L321.28,309.41 L321.70,309.41 L322.12,309.41 L322.53,309.41 L322.95,309.41 L323.37,309.41 L323.79,309.41 L324.21,309.42 L324.63,309.42 L325.05,309.42 L325.47,309.42 L325.89,309.43 L326.31,309.43 L326.73,309.43 L327.14,309.43 L327.56,309.44 L327.98,309.44 L328.40,309.45 L328.82,309.45 L329.24,309.46 L329.66,309.46 L330.08,309.46 L330.50,309.47 L330.92,309.47 L331.34,309.48 L331.75,309.48 L332.17,309.49 L332.59,309.49 L333.01,309.50 L333.43,309.51 L333.85,309.51 L334.27,309.52 L334.69,309.52 L335.11,309.53 L335.53,309.53 L335.95,309.54 L336.36,309.54 L336.78,309.55 L337.20,309.55 L337.62,309.56 L338.04,309.56 L338.46,309.57 L338.88,309.57 L339.30,309.58 L339.72,309.58 L340.14,309.59 L340.56,309.59 L340.97,309.60 L341.39,309.60 L341.81,309.61 L342.23,309.61 L342.65,309.62 L343.07,309.62 L343.49,309.63 L343.91,309.63 L344.33,309.63 L344.75,309.64 L345.17,309.64 L345.58,309.64 L346.00,309.65 L346.42,309.65 L346.84,309.65 L347.26,309.66 L347.68,309.66 L348.10,309.66 L348.52,309.67 L348.94,309.67 L349.36,309.67 L349.77,309.67 L350.19,309.68 L350.61,309.68 L351.03,309.68 L351.45,309.68 L351.87,309.68 L352.29,309.68 L352.71,309.69 L353.13,309.69 L353.55,309.69 L353.97,309.69 L354.38,309.69 L354.80,309.69 L355.22,309.69 L355.64,309.69 L356.06,309.69 L356.48,309.70 L356.90,309.70 L357.32,309.70 L357.74,309.70 L358.16,309.70 L358.58,309.70 L358.99,309.70 L359.41,309.70 L359.83,309.70 L360.25,309.70 L360.67,309.70 L361.09,309.70 L361.51,309.70 L361.93,309.70 L362.35,309.70 L362.77,309.70 L363.19,309.70 L363.60,309.70 L364.02,309.69 L364.44,309.69 L364.86,309.69 L365.28,309.69 L365.70,309.69 L366.12,309.69 L366.54,309.69 L366.96,309.69 L367.38,309.69 L367.80,309.69 L368.21,309.69 L368.63,309.69 L369.05,309.69 L369.47,309.68 L369.89,309.68 L370.31,309.68 L370.73,309.68 L371.15,309.68 L371.57,309.68 L371.99,309.68 L372.41,309.68 L372.82,309.68 L373.24,309.68 L373.66,309.67 L374.08,309.67 L374.50,309.67 L374.92,309.67 L375.34,309.67 L375.76,309.67 L376.18,309.67 L376.60,309.67 L377.02,309.67 L377.43,309.67 L377.85,309.66 L378.27,309.66 L378.69,309.66 L379.11,309.66 L379.53,309.66 L379.95,309.66 L380.37,309.66 L380.79,309.66 L381.21,309.66 L381.62,309.66 L382.04,309.66 L382.46,309.66 L382.88,311.41 L383.30,313.15 L383.72,314.90 L384.14,316.65 L384.56,318.40 L384.98,320.15 L385.40,321.90 L385.82,323.65 L386.23,325.40 L386.65,327.15 L387.07,328.90 L387.49,330.65 L387.91,332.40 L388.33,334.15 L388.75,335.90 L389.17,337.65 L389.59,339.40 L390.01,341.15 L390.43,342.90 L390.84,344.64 L391.26,346.38 L391.68,348.12 L392.10,349.84 L392.52,351.55 L392.94,353.25 L393.36,354.93 L393.78,356.59 L394.20,358.22 L394.62,359.84 L395.04,361.42 L395.45,362.98 L395.87,364.51 L396.29,366.02 L396.71,367.49 L397.13,368.92 L397.55,370.33 L397.97,371.70 L398.39,373.03 L398.81,374.33 L399.23,375.60 L399.65,376.82 L400.06,378.01 L400.48,379.16 L400.90,380.27 L401.32,381.35 L401.74,382.38 L402.16,383.37 L402.58,384.33 L403.00,385.25 L403.42,386.12 L403.84,386.96 L404.26,387.76 L404.67,388.52 L405.09,389.24 L405.51,389.93 L405.93,390.57 L406.35,391.18 L406.77,391.75 L407.19,392.29 L407.61,392.78 L408.03,393.25 L408.45,393.68 L408.87,394.07 L409.28,394.43 L409.70,394.76 L410.12,395.06 L410.54,395.32 L410.96,395.55 L411.38,395.76 L411.80,395.93 L412.22,396.08 L412.64,396.20 L413.06,396.29 L413.47,396.36 L413.89,396.40 L414.31,396.42 L414.73,396.41 L415.15,396.38 L415.57,396.34 L415.99,396.27 L416.41,396.18 L416.83,396.07 L417.25,395.94 L417.67,395.80 L418.08,395.64 L418.50,395.46 L418.92,395.28 L419.34,395.07 L419.76,394.86 L420.18,394.63 L420.60,394.39 L421.02,394.14 L421.44,393.88 L421.86,393.61 L422.28,393.33 L422.69,393.05 L423.11,392.76 L423.53,392.46 L423.95,392.16 L424.37,391.85 L424.79,391.54 L425.21,391.23 L425.63,390.91 L426.05,390.59 L426.47,390.27 L426.89,389.95 L427.30,389.63 L427.72,389.30 L428.14,388.98 L428.56,388.66 L428.98,388.34 L429.40,388.02 L429.82,387.71 L430.24,387.39 L430.66,387.08 L431.08,386.78 L431.50,386.48 L431.91,386.18 L432.33,385.88 L432.75,385.60 L433.17,385.31 L433.59,385.03 L434.01,384.76 L434.43,384.49 L434.85,384.23 L435.27,383.98 L435.69,383.73 L436.11,383.48 L436.52,383.25 L436.94,383.02 L437.36,382.80 L437.78,382.58 L438.20,382.37 L438.62,382.17 L439.04,381.97 L439.46,381.79 L439.88,381.61 L440.30,381.43 L440.72,381.27 L441.13,381.11 L441.55,380.96 L441.97,380.81 L442.39,380.68 L442.81,380.54 L443.23,380.42 L443.65,380.30 L444.07,380.20 L444.49,380.09 L444.91,380.00 L445.32,379.91 L445.74,379.82 L446.16,379.75 L446.58,379.67 L447.00,379.61 L447.42,379.55 L447.84,379.50 L448.26,379.45 L448.68,379.41 L449.10,379.37 L449.52,379.34 L449.93,379.32 L450.35,379.30 L450.77,379.28 L451.19,379.27 L451.61,379.26 L452.03,379.26 L452.45,379.26 L452.87,379.27 L453.29,379.28 L453.71,379.29 L454.13,379.31 L454.54,379.33 L454.96,379.35 L455.38,379.38 L455.80,379.41 L456.22,379.44 L456.64,379.48 L457.06,379.51 L457.48,379.55 L457.90,379.60 L458.32,379.64 L458.74,379.69 L459.15,379.73 L459.57,379.78 L459.99,379.84 L460.41,379.89 L460.83,379.94 L461.25,380.00 L461.67,380.05 L462.09,380.11 L462.51,380.16 L462.93,380.22 L463.35,380.28 L463.76,380.34 L464.18,380.40 L464.60,380.46 L465.02,380.51 L465.44,380.57 L465.86,380.63 L466.28,380.69 L466.70,380.75 L467.12,380.81 L467.54,380.87 L467.96,380.92 L468.37,380.98 L468.79,381.03 L469.21,381.09 L469.63,381.14 L470.05,381.20 L470.47,381.25 L470.89,381.30 L471.31,381.35 L471.73,381.40 L472.15,381.45 L472.57,381.50 L472.98,381.54 L473.40,381.59 L473.82,381.63 L474.24,381.68 L474.66,381.72 L475.08,381.76 L475.50,381.80 L475.92,381.84 L476.34,381.87 L476.76,381.91 L477.18,381.94 L477.59,381.97 L478.01,382.01 L478.43,382.04 L478.85,382.06 L479.27,382.09 L479.69,382.12 L480.11,382.14 L480.53,382.17 L480.95,382.19 L481.37,382.21 L481.78,382.23 L482.20,382.25 L482.62,382.27 L483.04,382.28 L483.46,382.30 L483.88,382.31 L484.30,382.32 L484.72,382.34 L485.14,382.35 L485.56,382.36 L485.98,382.36 L486.39,382.37 L486.81,382.38 L487.23,382.38 L487.65,382.39 L488.07,382.39 L488.49,382.39 L488.91,382.40 L489.33,382.40 L489.75,382.40 L490.17,382.40 L490.59,382.40 L491.00,382.39 L491.42,382.39 L491.84,382.39 L492.26,382.38 L492.68,382.38 L493.10,382.37 L493.52,382.37 L493.94,382.36 L494.36,382.36 L494.78,382.35 L495.20,382.34 L495.61,382.33 L496.03,382.33 L496.45,382.32 L496.87,382.31 L497.29,382.30 L497.71,382.29 L498.13,382.28 L498.55,382.27 L498.97,382.26 L499.39,382.25 L499.81,382.24 L500.22,382.23 L500.64,382.22 L501.06,382.21 L501.48,382.20 L501.90,382.19 L502.32,382.18 L502.74,382.17 L503.16,382.15 L503.58,382.14 L504.00,382.13 L504.42,382.12 L504.83,382.11 L505.25,382.10 L505.67,382.09 L506.09,382.08 L506.51,382.07 L506.93,382.06 L507.35,382.05 L507.77,382.04 L508.19,382.03 L508.61,382.02 L509.02,382.01 L509.44,382.00 L509.86,381.99 L510.28,381.99 L510.70,381.98 L511.12,381.97 L511.54,381.96 L511.96,381.95 L512.38,381.95 L512.80,381.94 L513.22,381.93 L513.63,381.92 L514.05,381.92 L514.47,381.91 L514.89,381.91 L515.31,381.90 L515.73,381.89 L516.15,381.89 L516.57,381.88 L516.99,381.88 L517.41,381.87 L517.83,381.87 L518.24,381.86 L518.66,381.86 L519.08,381.86 L519.50,381.85 L519.92,381.85 L520.34,381.85 L520.76,381.84 L521.18,381.84 L521.60,381.84 L522.02,381.84 L522.44,381.83 L522.85,381.83 L523.27,381.83 L523.69,381.83 L524.11,381.83 L524.53,381.83 L524.95,381.83 L525.37,381.83 L525.79,381.82 L526.21,381.82 L526.63,381.82 L527.05,381.82 L527.46,381.82 L527.88,381.82 L528.30,381.82 L528.72,381.82 L529.14,381.82 L529.56,381.83 L529.98,381.83 L530.40,381.83 L530.82,381.83 L531.24,381.83 L531.66,381.83 L532.07,381.83 L532.49,381.83 L532.91,381.83 L533.33,381.84 L533.75,381.84 L534.17,381.84 L534.59,381.84 L535.01,381.84 L535.43,381.84 L535.85,381.85 L536.27,381.85 L536.68,381.85 L537.10,381.85 L537.52,381.85 L537.94,381.85 L538.36,381.86 L538.78,381.86 L539.20,381.86 L539.62,381.86 L540.04,381.86 L540.46,381.87 L540.88,381.87 L541.29,381.87 L541.71,381.87 L542.13,381.87 L542.55,381.88 L542.97,381.88 L543.39,381.88 L543.81,381.88 L544.23,381.88 L544.65,381.89 L545.07,381.89 L545.48,381.89 L545.90,381.89 L546.32,381.89 L546.74,381.89 L547.16,381.90 L547.58,381.90 L548.00,381.90 L548.42,381.90 L548.84,381.90 L549.26,381.90 L549.68,381.90 L550.09,381.91 L550.51,381.91 L550.93,381.91 L551.35,381.91 L551.77,381.91 L552.19,381.91 L552.61,381.91 L553.03,381.91 L553.45,381.92 L553.87,381.92 L554.29,381.92 L554.70,381.92 L555.12,381.92 L555.54,381.92 L555.96,381.92 L556.38,381.92 L556.80,381.92 L557.22,381.92 L557.64,381.92 L558.06,381.92 L558.48,381.92 L558.90,381.93 L559.31,381.93 L559.73,381.93 L560.15,381.93 L560.57,381.93 L560.99,381.93 L561.41,381.93 L561.83,381.93 L562.25,381.93 L562.67,381.93 L563.09,381.93 L563.51,381.93 L563.92,381.93 L564.34,381.93 L564.76,381.93 L565.18,381.93 L565.60,381.93 L566.02,381.93 L566.44,381.93 L566.86,381.93 L567.28,381.93 L567.70,381.93 L568.12,381.93 L568.53,381.93 L568.95,381.93 L569.37,381.93 L569.79,381.93 L570.21,381.93 L570.63,381.93 L571.05,381.93 L571.47,381.93 L571.89,381.93 L572.31,381.93 L572.73,381.92 L573.14,381.92 L573.56,381.92 L573.98,381.92 L574.40,381.92 L574.82,381.92 L575.24,381.92 L575.66,381.92 L576.08,381.92 L576.50,381.92 L576.92,381.92 L577.33,381.92 L577.75,381.92 L578.17,381.92 L578.59,381.92 L579.01,381.92 L579.43,381.92 L579.85,381.92 L580.27,381.92 L580.69,381.92 L581.11,381.92 L581.53,381.92 L581.94,381.92 L582.36,381.92 L582.78,381.92 L583.20,381.92 L583.62,381.92 L584.04,381.92 L584.46,381.92 L584.88,381.91 L585.30,381.91 L585.72,381.91 L586.14,381.91 L586.55,381.91 L586.97,381.91 L587.39,381.91 L587.81,381.91 L588.23,381.91 L588.65,381.91 L589.07,381.91 L589.49,381.91 L589.91,381.91 L590.33,381.91 L590.75,381.91 L591.16,381.91 L591.58,381.91 L592.00,381.91 L592.42,381.91 L592.84,381.91 L593.26,381.91 L593.68,381.91 L594.10,381.91 L594.52,381.91 L594.94,381.91 L595.36,381.91 L595.77,381.91 L596.19,381.91 L596.61,381.91 L597.03,381.91 L597.45,381.91 L597.87,381.91 L598.29,381.91 L598.71,381.91 L599.13,381.91 L599.55,381.91 L599.97,381.91 L600.38,381.91 L600.80,381.91 L601.22,381.91 L601.64,381.91 L602.06,381.91 L602.48,381.91 L602.90,381.91 L603.32,381.91 L603.74,381.91 L604.16,381.91 L604.58,381.91 L604.99,381.91 L605.41,381.91 L605.83,381.91 L606.25,381.91 L606.67,381.91 L607.09,381.91 L607.51,381.91 L607.93,381.91 L608.35,381.91 L608.77,381.91 L609.18,381.91 L609.60,381.91 L610.02,381.91 L610.44,381.91 L610.86,381.91 L611.28,381.91 L611.70,381.91 L612.12,381.91 L612.54,381.91 L612.96,381.91 L613.38,381.91 L613.79,381.91 L614.21,381.91 L614.63,381.91 L615.05,381.91 L615.47,381.91 L615.89,381.91 L616.31,381.91 L616.73,381.91 L617.15,381.91 L617.57,381.91 L617.99,381.91 L618.40,381.91 L618.82,381.91 L619.24,381.91 L619.66,381.91 L620.08,381.91 L620.50,381.91 L620.92,381.91 L621.34,381.91 L621.76,381.91 L622.18,381.91 L622.60,381.91 L623.01,381.91 L623.43,381.91 L623.85,381.91 L624.27,381.91 L624.69,381.91 L625.11,381.91 L625.53,381.91 L625.95,381.91 L626.37,381.91 L626.79,381.91 L627.21,381.91 L627.62,381.91 L628.04,381.91 L628.46,381.91 L628.88,381.91 L629.30,381.91 L629.72,381.91 L630.14,381.91 L630.56,381.91 L630.98,381.91 L631.40,381.91 L631.82,381.91 L632.23,381.91 L632.65,381.91 L633.07,381.91 L633.49,381.91 L633.91,381.91 L634.33,381.91 L634.75,381.91 L635.17,381.91 L635.59,381.91 L636.01,381.91 L636.43,381.91 L636.84,381.91 L637.26,381.91 L637.68,381.91 L638.10,381.91 L638.52,381.91 L638.94,381.91 L639.36,381.91 L639.78,381.91 L640.20,381.91 L640.62,381.91 L641.03,381.91 L641.45,381.91 L641.87,381.91 L642.29,381.91 L642.71,381.91 L643.13,381.91 L643.55,381.91 L643.97,381.91 L644.39,381.91 L644.81,381.91 L645.23,381.91 L645.64,381.91 L646.06,381.91 L646.48,381.91 L646.90,381.91 L647.32,381.91 L647.74,381.91 L648.16,381.91 L648.58,381.91 L649.00,381.91 L649.42,381.91 L649.84,381.91 L650.25,381.91 L650.67,381.91 L651.09,381.91 L651.51,381.91 L651.93,381.91 L652.35,381.91 L652.77,381.91 L653.19,381.91 L653.61,381.91 L654.03,381.91 L654.45,381.91 L654.86,381.91 L655.28,381.91 L655.70,381.91 L656.12,381.91 L656.54,381.91 L656.96,381.91 L657.38,381.91 L657.80,381.91 L658.22,381.91 L658.64,381.91 L659.06,381.91 L659.47,381.91 L659.89,381.91 L660.31,381.91 L660.73,381.91 L661.15,381.91 L661.57,381.91 L661.99,381.91 L662.41,381.91 L662.83,381.91 L663.25,381.91 L663.67,381.91 L664.08,381.91 L664.50,381.91 L664.92,381.91 L665.34,381.91 L665.76,381.91 L666.18,381.91 L666.60,381.91 L667.02,381.91 L667.44,381.91 L667.86,381.91 L668.28,381.91 L668.69,381.91 L669.11,381.91 L669.53,381.91 L669.95,381.91 L670.37,381.91 L670.79,381.91 L671.21,381.91 L671.63,381.91 L672.05,381.91 L672.47,381.91 L672.88,381.91 L673.30,381.91 L673.72,381.91 L674.14,381.91 L674.56,381.91 L674.98,381.91 L675.40,381.91 L675.82,381.91 L676.24,381.91 L676.66,381.91 L677.08,381.91 L677.49,381.91 L677.91,381.91 L678.33,381.91 L678.75,381.91 L679.17,381.91 L679.59,381.91 L680.01,381.91 L680.43,381.91 L680.85,381.91 L681.27,381.91 L681.69,381.91 L682.10,381.91 L682.52,381.91 L682.94,381.91 L683.36,381.91 L683.78,381.91 L684.20,381.91" style="stroke:#ff0000;stroke-width:2.8;stroke-dasharray:1.5 4.375"/>
<path d="M47.20,490.30 L47.62,486.82 L48.04,483.33 L48.46,479.85 L48.88,476.37 L49.30,472.88 L49.71,469.40 L50.13,465.92 L50.55,462.43 L50.97,458.95 L51.39,455.47 L51.81,451.98 L52.23,448.50 L52.65,445.02 L53.07,441.53 L53.49,438.05 L53.91,434.57 L54.32,431.09 L54.74,427.60 L55.16,424.12 L55.58,420.64 L56.00,417.18 L56.42,413.74 L56.84,410.34 L57.26,406.96 L57.68,403.63 L58.10,400.35 L58.52,397.11 L58.93,393.93 L59.35,390.81 L59.77,387.75 L60.19,384.76 L60.61,381.83 L61.03,378.96 L61.45,376.17 L61.87,373.45 L62.29,370.80 L62.71,368.23 L63.12,365.73 L63.54,363.31 L63.96,360.97 L64.38,358.70 L64.80,356.51 L65.22,354.40 L65.64,352.37 L66.06,350.42 L66.48,348.55 L66.90,346.76 L67.32,345.05 L67.73,343.41 L68.15,341.85 L68.57,340.37 L68.99,338.97 L69.41,337.64 L69.83,336.38 L70.25,335.20 L70.67,334.08 L71.09,333.04 L71.51,332.07 L71.93,331.17 L72.34,330.33 L72.76,329.56 L73.18,328.85 L73.60,328.20 L74.02,327.61 L74.44,327.08 L74.86,326.61 L75.28,326.19 L75.70,325.83 L76.12,325.51 L76.54,325.25 L76.95,325.04 L77.37,324.87 L77.79,324.75 L78.21,324.67 L78.63,324.63 L79.05,324.63 L79.47,324.66 L79.89,324.73 L80.31,324.84 L80.73,324.98 L81.15,325.15 L81.56,325.35 L81.98,325.57 L82.40,325.83 L82.82,326.10 L83.24,326.40 L83.66,326.72 L84.08,327.06 L84.50,327.41 L84.92,327.79 L85.34,328.17 L85.76,328.58 L86.17,328.99 L86.59,329.42 L87.01,329.85 L87.43,330.30 L87.85,330.75 L88.27,331.20 L88.69,331.67 L89.11,332.14 L89.53,332.61 L89.95,333.08 L90.37,333.55 L90.78,334.03 L91.20,334.50 L91.62,334.98 L92.04,335.45 L92.46,335.91 L92.88,336.38 L93.30,336.84 L93.72,337.30 L94.14,337.75 L94.56,338.19 L94.97,338.63 L95.39,339.06 L95.81,339.48 L96.23,339.90 L96.65,340.31 L97.07,340.70 L97.49,341.09 L97.91,341.47 L98.33,341.85 L98.75,342.21 L99.17,342.56 L99.58,342.90 L100.00,343.23 L100.42,343.55 L100.84,343.87 L101.26,344.17 L101.68,344.46 L102.10,344.73 L102.52,345.00 L102.94,345.26 L103.36,345.51 L103.78,345.74 L104.19,345.97 L104.61,346.19 L105.03,346.39 L105.45,346.59 L105.87,346.77 L106.29,346.95 L106.71,347.11 L107.13,347.27 L107.55,347.41 L107.97,347.55 L108.39,347.67 L108.80,347.79 L109.22,347.90 L109.64,348.00 L110.06,348.09 L110.48,348.18 L110.90,348.25 L111.32,348.32 L111.74,348.38 L112.16,348.44 L112.58,348.48 L113.00,348.52 L113.41,348.55 L113.83,348.58 L114.25,348.60 L114.67,348.61 L115.09,348.62 L115.51,348.63 L115.93,348.62 L116.35,348.62 L116.77,348.61 L117.19,348.59 L117.61,348.57 L118.02,348.54 L118.44,348.52 L118.86,348.48 L119.28,348.45 L119.70,348.41 L120.12,348.37 L120.54,348.33 L120.96,348.28 L121.38,348.23 L121.80,348.18 L122.22,348.13 L122.63,348.07 L123.05,348.02 L123.47,347.96 L123.89,347.90 L124.31,347.84 L124.73,347.78 L125.15,347.72 L125.57,347.65 L125.99,347.59 L126.41,347.53 L126.83,347.46 L127.24,347.40 L127.66,347.34 L128.08,347.27 L128.50,347.21 L128.92,347.15 L129.34,347.08 L129.76,347.02 L130.18,346.96 L130.60,346.90 L131.02,346.84 L131.43,346.78 L131.85,346.72 L132.27,346.66 L132.69,346.61 L133.11,346.55 L133.53,346.50 L133.95,346.44 L134.37,346.39 L134.79,346.34 L135.21,346.29 L135.63,346.24 L136.04,346.20 L136.46,346.15 L136.88,346.11 L137.30,346.07 L137.72,346.02 L138.14,345.98 L138.56,345.95 L138.98,345.91 L139.40,345.87 L139.82,345.84 L140.24,345.81 L140.65,345.78 L141.07,345.75 L141.49,345.72 L141.91,345.69 L142.33,345.66 L142.75,345.64 L143.17,345.62 L143.59,345.60 L144.01,345.58 L144.43,345.56 L144.85,345.54 L145.26,345.52 L145.68,345.51 L146.10,345.49 L146.52,345.48 L146.94,345.47 L147.36,345.46 L147.78,345.45 L148.20,345.44 L148.62,345.43 L149.04,345.42 L149.46,345.42 L149.87,345.41 L150.29,345.41 L150.71,345.41 L151.13,345.40 L151.55,345.40 L151.97,345.40 L152.39,345.40 L152.81,345.40 L153.23,345.40 L153.65,345.40 L154.07,345.41 L154.48,345.41 L154.90,345.41 L155.32,345.42 L155.74,345.42 L156.16,345.43 L156.58,345.43 L157.00,345.44 L157.42,345.44 L157.84,345.45 L158.26,345.46 L158.68,345.46 L159.09,345.47 L159.51,345.48 L159.93,345.49 L160.35,345.49 L160.77,345.50 L161.19,345.51 L161.61,345.52 L162.03,345.53 L162.45,345.53 L162.87,345.54 L163.28,345.55 L163.70,345.56 L164.12,345.57 L164.54,345.58 L164.96,345.59 L165.38,345.59 L165.80,345.60 L166.22,345.61 L166.64,345.62 L167.06,345.63 L167.48,345.64 L167.89,345.64 L168.31,345.65 L168.73,345.66 L169.15,345.67 L169.57,345.68 L169.99,345.68 L170.41,345.69 L170.83,345.70 L171.25,345.70 L171.67,345.71 L172.09,345.72 L172.50,345.72 L172.92,345.73 L173.34,345.74 L173.76,345.74 L174.18,345.75 L174.60,345.75 L175.02,345.76 L175.44,345.76 L175.86,345.77 L176.28,345.77 L176.70,345.78 L177.11,345.78 L177.53,345.79 L177.95,345.79 L178.37,345.79 L178.79,345.80 L179.21,345.80 L179.63,345.80 L180.05,345.81 L180.47,345.81 L180.89,345.81 L181.31,345.81 L181.72,345.82 L182.14,345.82 L182.56,345.82 L182.98,345.82 L183.40,345.82 L183.82,345.83 L184.24,345.83 L184.66,345.83 L185.08,345.83 L185.50,345.83 L185.92,345.83 L186.33,345.83 L186.75,345.83 L187.17,345.83 L187.59,345.83 L188.01,345.83 L188.43,345.83 L188.85,345.83 L189.27,345.83 L189.69,345.83 L190.11,345.83 L190.52,345.83 L190.94,345.83 L191.36,345.83 L191.78,345.83 L192.20,345.83 L192.62,345.83 L193.04,345.83 L193.46,345.83 L193.88,345.83 L194.30,345.83 L194.72,345.83 L195.13,345.83 L195.55,345.83 L195.97,345.82 L196.39,345.82 L196.81,345.82 L197.23,345.82 L197.65,345.82 L198.07,345.82 L198.49,345.82 L198.91,345.82 L199.33,345.82 L199.74,345.81 L200.16,345.81 L200.58,345.81 L201.00,345.81 L201.42,345.81 L201.84,345.81 L202.26,345.81 L202.68,345.81 L203.10,345.81 L203.52,345.80 L203.94,345.80 L204.35,345.80 L204.77,345.80 L205.19,345.80 L205.61,345.80 L206.03,345.80 L206.45,345.80 L206.87,345.80 L207.29,345.79 L207.71,345.79 L208.13,345.79 L208.55,345.79 L208.96,345.79 L209.38,345.79 L209.80,345.79 L210.22,345.79 L210.64,345.79 L211.06,345.79 L211.48,345.79 L211.90,345.79 L212.32,345.79 L212.74,345.78 L213.16,345.78 L213.57,345.78 L213.99,345.78 L214.41,345.78 L214.83,345.78 L215.25,344.91 L215.67,344.04 L216.09,343.17 L216.51,342.30 L216.93,341.43 L217.35,340.55 L217.77,339.68 L218.18,338.81 L218.60,337.94 L219.02,337.07 L219.44,336.20 L219.86,335.33 L220.28,334.46 L220.70,333.59 L221.12,332.71 L221.54,331.84 L221.96,330.97 L222.38,330.10 L222.79,329.23 L223.21,328.36 L223.63,327.50 L224.05,326.64 L224.47,325.78 L224.89,324.94 L225.31,324.11 L225.73,323.29 L226.15,322.48 L226.57,321.68 L226.98,320.90 L227.40,320.14 L227.82,319.39 L228.24,318.66 L228.66,317.94 L229.08,317.24 L229.50,316.56 L229.92,315.90 L230.34,315.26 L230.76,314.63 L231.18,314.03 L231.59,313.44 L232.01,312.88 L232.43,312.33 L232.85,311.80 L233.27,311.30 L233.69,310.81 L234.11,310.34 L234.53,309.89 L234.95,309.46 L235.37,309.06 L235.79,308.67 L236.20,308.30 L236.62,307.94 L237.04,307.61 L237.46,307.30 L237.88,307.00 L238.30,306.73 L238.72,306.46 L239.14,306.22 L239.56,306.00 L239.98,305.79 L240.40,305.59 L240.81,305.42 L241.23,305.25 L241.65,305.11 L242.07,304.98 L242.49,304.86 L242.91,304.75 L243.33,304.66 L243.75,304.58 L244.17,304.52 L244.59,304.47 L245.01,304.42 L245.42,304.39 L245.84,304.37 L246.26,304.36 L246.68,304.36 L247.10,304.37 L247.52,304.39 L247.94,304.42 L248.36,304.45 L248.78,304.49 L249.20,304.54 L249.62,304.60 L250.03,304.66 L250.45,304.73 L250.87,304.81 L251.29,304.89 L251.71,304.97 L252.13,305.06 L252.55,305.15 L252.97,305.25 L253.39,305.35 L253.81,305.46 L254.23,305.56 L254.64,305.67 L255.06,305.78 L255.48,305.90 L255.90,306.01 L256.32,306.13 L256.74,306.24 L257.16,306.36 L257.58,306.48 L258.00,306.60 L258.42,306.72 L258.83,306.83 L259.25,306.95 L259.67,307.07 L260.09,307.19 L260.51,307.30 L260.93,307.42 L261.35,307.53 L261.77,307.65 L262.19,307.76 L262.61,307.87 L263.03,307.97 L263.44,308.08 L263.86,308.18 L264.28,308.28 L264.70,308.38 L265.12,308.48 L265.54,308.58 L265.96,308.67 L266.38,308.76 L266.80,308.85 L267.22,308.93 L267.64,309.02 L268.05,309.10 L268.47,309.17 L268.89,309.25 L269.31,309.32 L269.73,309.39 L270.15,309.46 L270.57,309.52 L270.99,309.59 L271.41,309.64 L271.83,309.70 L272.25,309.75 L272.66,309.81 L273.08,309.85 L273.50,309.90 L273.92,309.94 L274.34,309.99 L274.76,310.02 L275.18,310.06 L275.60,310.10 L276.02,310.13 L276.44,310.16 L276.86,310.18 L277.27,310.21 L277.69,310.23 L278.11,310.25 L278.53,310.27 L278.95,310.29 L279.37,310.30 L279.79,310.32 L280.21,310.33 L280.63,310.34 L281.05,310.35 L281.47,310.35 L281.88,310.36 L282.30,310.36 L282.72,310.36 L283.14,310.36 L283.56,310.36 L283.98,310.36 L284.40,310.36 L284.82,310.36 L285.24,310.35 L285.66,310.34 L286.07,310.34 L286.49,310.33 L286.91,310.32 L287.33,310.31 L287.75,310.30 L288.17,310.29 L288.59,310.28 L289.01,310.27 L289.43,310.25 L289.85,310.24 L290.27,310.23 L290.68,310.21 L291.10,310.20 L291.52,310.18 L291.94,310.17 L292.36,310.15 L292.78,310.14 L293.20,310.12 L293.62,310.11 L294.04,310.09 L294.46,310.07 L294.88,310.06 L295.29,310.04 L295.71,310.03 L296.13,310.01 L296.55,309.99 L296.97,309.98 L297.39,309.96 L297.81,309.95 L298.23,309.93 L298.65,309.92 L299.07,309.90 L299.49,309.89 L299.90,309.87 L300.32,309.86 L300.74,309.85 L301.16,309.83 L301.58,309.82 L302.00,309.81 L302.42,309.79 L302.84,309.78 L303.26,309.77 L303.68,309.76 L304.10,309.75 L304.51,309.73 L304.93,309.72 L305.35,309.71 L305.77,309.70 L306.19,309.69 L306.61,309.68 L307.03,309.68 L307.45,309.67 L307.87,309.66 L308.29,309.65 L308.71,309.64 L309.12,309.64 L309.54,309.63 L309.96,309.62 L310.38,309.62 L310.80,309.61 L311.22,309.61 L311.64,309.60 L312.06,309.60 L312.48,309.59 L312.90,309.59 L313.32,309.58 L313.73,309.58 L314.15,309.58 L314.57,309.57 L314.99,309.57 L315.41,309.57 L315.83,309.57 L316.25,309.57 L316.67,309.56 L317.09,309.56 L317.51,309.56 L317.93,309.56 L318.34,309.56 L318.76,309.56 L319.18,309.56 L319.60,309.56 L320.02,309.56 L320.44,309.56 L320.86,309.56 L321.28,309.56 L321.70,309.56 L322.12,309.56 L322.53,309.56 L322.95,309.56 L323.37,309.56 L323.79,309.56 L324.21,309.57 L324.63,309.57 L325.05,309.57 L325.47,309.57 L325.89,309.57 L326.31,309.57 L326.73,309.58 L327.14,309.58 L327.56,309.58 L327.98,309.58 L328.40,309.58 L328.82,309.59 L329.24,309.59 L329.66,309.59 L330.08,309.59 L330.50,309.59 L330.92,309.60 L331.34,309.60 L331.75,309.60 L332.17,309.60 L332.59,309.60 L333.01,309.61 L333.43,309.61 L333.85,309.61 L334.27,309.61 L334.69,309.61 L335.11,309.62 L335.53,309.62 L335.95,309.62 L336.36,309.62 L336.78,309.62 L337.20,309.63 L337.62,309.63 L338.04,309.63 L338.46,309.63 L338.88,309.63 L339.30,309.64 L339.72,309.64 L340.14,309.64 L340.56,309.64 L340.97,309.64 L341.39,309.64 L341.81,309.64 L342.23,309.65 L342.65,309.65 L343.07,309.65 L343.49,309.65 L343.91,309.65 L344.33,309.65 L344.75,309.65 L345.17,309.65 L345.58,309.66 L346.00,309.66 L346.42,309.66 L346.84,309.66 L347.26,309.66 L347.68,309.66 L348.10,309.66 L348.52,309.66 L348.94,309.66 L349.36,309.66 L349.77,309.66 L350.19,309.66 L350.61,309.66 L351.03,309.66 L351.45,309.66 L351.87,309.66 L352.29,309.66 L352.71,309.67 L353.13,309.67 L353.55,309.67 L353.97,309.67 L354.38,309.67 L354.80,309.67 L355.22,309.67 L355.64,309.67 L356.06,309.67 L356.48,309.67 L356.90,309.67 L357.32,309.67 L357.74,309.67 L358.16,309.67 L358.58,309.67 L358.99,309.67 L359.41,309.67 L359.83,309.67 L360.25,309.67 L360.67,309.67 L361.09,309.67 L361.51,309.66 L361.93,309.66 L362.35,309.66 L362.77,309.66 L363.19,309.66 L363.60,309.66 L364.02,309.66 L364.44,309.66 L364.86,309.66 L365.28,309.66 L365.70,309.66 L366.12,309.66 L366.54,309.66 L366.96,309.66 L367.38,309.66 L367.80,309.66 L368.21,309.66 L368.63,309.66 L369.05,309.66 L369.47,309.66 L369.89,309.66 L370.31,309.66 L370.73,309.66 L371.15,309.66 L371.57,309.66 L371.99,309.66 L372.41,309.66 L372.82,309.66 L373.24,309.66 L373.66,309.66 L374.08,309.66 L374.50,309.66 L374.92,309.66 L375.34,309.66 L375.76,309.66 L376.18,309.66 L376.60,309.66 L377.02,309.66 L377.43,309.66 L377.85,309.65 L378.27,309.65 L378.69,309.65 L379.11,309.65 L379.53,309.65 L379.95,309.65 L380.37,309.65 L380.79,309.65 L381.21,309.65 L381.62,309.65 L382.04,309.65 L382.46,309.65 L382.88,311.39 L383.30,313.14 L383.72,314.88 L384.14,316.62 L384.56,318.36 L384.98,320.10 L385.40,321.84 L385.82,323.59 L386.23,325.33 L386.65,327.07 L387.07,328.81 L387.49,330.55 L387.91,332.29 L388.33,334.03 L388.75,335.78 L389.17,337.52 L389.59,339.26 L390.01,341.00 L390.43,342.74 L390.84,344.48 L391.26,346.21 L391.68,347.93 L392.10,349.63 L392.52,351.32 L392.94,352.99 L393.36,354.63 L393.78,356.24 L394.20,357.83 L394.62,359.40 L395.04,360.93 L395.45,362.42 L395.87,363.89 L396.29,365.32 L396.71,366.72 L397.13,368.08 L397.55,369.40 L397.97,370.69 L398.39,371.94 L398.81,373.15 L399.23,374.32 L399.65,375.45 L400.06,376.55 L400.48,377.60 L400.90,378.62 L401.32,379.59 L401.74,380.53 L402.16,381.42 L402.58,382.28 L403.00,383.10 L403.42,383.88 L403.84,384.62 L404.26,385.32 L404.67,385.98 L405.09,386.61 L405.51,387.20 L405.93,387.76 L406.35,388.28 L406.77,388.77 L407.19,389.22 L407.61,389.64 L408.03,390.03 L408.45,390.38 L408.87,390.70 L409.28,391.00 L409.70,391.26 L410.12,391.50 L410.54,391.71 L410.96,391.89 L411.38,392.05 L411.80,392.18 L412.22,392.28 L412.64,392.37 L413.06,392.43 L413.47,392.47 L413.89,392.49 L414.31,392.49 L414.73,392.47 L415.15,392.44 L415.57,392.38 L415.99,392.31 L416.41,392.23 L416.83,392.13 L417.25,392.02 L417.67,391.89 L418.08,391.75 L418.50,391.60 L418.92,391.44 L419.34,391.28 L419.76,391.10 L420.18,390.91 L420.60,390.72 L421.02,390.52 L421.44,390.31 L421.86,390.10 L422.28,389.88 L422.69,389.66 L423.11,389.43 L423.53,389.20 L423.95,388.97 L424.37,388.74 L424.79,388.50 L425.21,388.26 L425.63,388.03 L426.05,387.79 L426.47,387.55 L426.89,387.32 L427.30,387.08 L427.72,386.85 L428.14,386.61 L428.56,386.38 L428.98,386.16 L429.40,385.93 L429.82,385.71 L430.24,385.49 L430.66,385.27 L431.08,385.06 L431.50,384.85 L431.91,384.65 L432.33,384.45 L432.75,384.26 L433.17,384.07 L433.59,383.88 L434.01,383.70 L434.43,383.52 L434.85,383.35 L435.27,383.19 L435.69,383.03 L436.11,382.87 L436.52,382.72 L436.94,382.58 L437.36,382.44 L437.78,382.30 L438.20,382.17 L438.62,382.05 L439.04,381.93 L439.46,381.82 L439.88,381.71 L440.30,381.61 L440.72,381.51 L441.13,381.42 L441.55,381.33 L441.97,381.25 L442.39,381.17 L442.81,381.10 L443.23,381.03 L443.65,380.97 L444.07,380.91 L444.49,380.85 L444.91,380.80 L445.32,380.76 L445.74,380.71 L446.16,380.68 L446.58,380.64 L447.00,380.61 L447.42,380.59 L447.84,380.56 L448.26,380.54 L448.68,380.53 L449.10,380.51 L449.52,380.50 L449.93,380.50 L450.35,380.49 L450.77,380.49 L451.19,380.49 L451.61,380.49 L452.03,380.50 L452.45,380.51 L452.87,380.52 L453.29,380.53 L453.71,380.55 L454.13,380.56 L454.54,380.58 L454.96,380.60 L455.38,380.62 L455.80,380.64 L456.22,380.66 L456.64,380.69 L457.06,380.71 L457.48,380.74 L457.90,380.77 L458.32,380.80 L458.74,380.82 L459.15,380.85 L459.57,380.88 L459.99,380.91 L460.41,380.95 L460.83,380.98 L461.25,381.01 L461.67,381.04 L462.09,381.07 L462.51,381.10 L462.93,381.14 L463.35,381.17 L463.76,381.20 L464.18,381.23 L464.60,381.26 L465.02,381.29 L465.44,381.32 L465.86,381.35 L466.28,381.38 L466.70,381.41 L467.12,381.44 L467.54,381.47 L467.96,381.50 L468.37,381.53 L468.79,381.55 L469.21,381.58 L469.63,381.61 L470.05,381.63 L470.47,381.66 L470.89,381.68 L471.31,381.70 L471.73,381.73 L472.15,381.75 L472.57,381.77 L472.98,381.79 L473.40,381.81 L473.82,381.83 L474.24,381.85 L474.66,381.87 L475.08,381.88 L475.50,381.90 L475.92,381.92 L476.34,381.93 L476.76,381.94 L477.18,381.96 L477.59,381.97 L478.01,381.98 L478.43,381.99 L478.85,382.01 L479.27,382.02 L479.69,382.03 L480.11,382.03 L480.53,382.04 L480.95,382.05 L481.37,382.06 L481.78,382.06 L482.20,382.07 L482.62,382.08 L483.04,382.08 L483.46,382.08 L483.88,382.09 L484.30,382.09 L484.72,382.09 L485.14,382.10 L485.56,382.10 L485.98,382.10 L486.39,382.10 L486.81,382.10 L487.23,382.10 L487.65,382.10 L488.07,382.10 L488.49,382.10 L488.91,382.10 L489.33,382.10 L489.75,382.10 L490.17,382.10 L490.59,382.09 L491.00,382.09 L491.42,382.09 L491.84,382.09 L492.26,382.08 L492.68,382.08 L493.10,382.08 L493.52,382.08 L493.94,382.07 L494.36,382.07 L494.78,382.06 L495.20,382.06 L495.61,382.06 L496.03,382.05 L496.45,382.05 L496.87,382.04 L497.29,382.04 L497.71,382.04 L498.13,382.03 L498.55,382.03 L498.97,382.02 L499.39,382.02 L499.81,382.01 L500.22,382.01 L500.64,382.01 L501.06,382.00 L501.48,382.00 L501.90,381.99 L502.32,381.99 L502.74,381.99 L503.16,381.98 L503.58,381.98 L504.00,381.97 L504.42,381.97 L504.83,381.97 L505.25,381.96 L505.67,381.96 L506.09,381.96 L506.51,381.95 L506.93,381.95 L507.35,381.94 L507.77,381.94 L508.19,381.94 L508.61,381.94 L509.02,381.93 L509.44,381.93 L509.86,381.93 L510.28,381.92 L510.70,381.92 L511.12,381.92 L511.54,381.92 L511.96,381.91 L512.38,381.91 L512.80,381.91 L513.22,381.91 L513.63,381.91 L514.05,381.91 L514.47,381.90 L514.89,381.90 L515.31,381.90 L515.73,381.90 L516.15,381.90 L516.57,381.90 L516.99,381.90 L517.41,381.89 L517.83,381.89 L518.24,381.89 L518.66,381.89 L519.08,381.89 L519.50,381.89 L519.92,381.89 L520.34,381.89 L520.76,381.89 L521.18,381.89 L521.60,381.89 L522.02,381.89 L522.44,381.89 L522.85,381.89 L523.27,381.89 L523.69,381.89 L524.11,381.89 L524.53,381.89 L524.95,381.89 L525.37,381.89 L525.79,381.89 L526.21,381.89 L526.63,381.89 L527.05,381.89 L527.46,381.89 L527.88,381.89 L528.30,381.89 L528.72,381.89 L529.14,381.89 L529.56,381.89 L529.98,381.89 L530.40,381.89 L530.82,381.89 L531.24,381.89 L531.66,381.89 L532.07,381.89 L532.49,381.89 L532.91,381.89 L533.33,381.89 L533.75,381.89 L534.17,381.90 L534.59,381.90 L535.01,381.90 L535.43,381.90 L535.85,381.90 L536.27,381.90 L536.68,381.90 L537.10,381.90 L537.52,381.90 L537.94,381.90 L538.36,381.90 L538.78,381.90 L539.20,381.90 L539.62,381.90 L540.04,381.90 L540.46,381.90 L540.88,381.90 L541.29,381.90 L541.71,381.91 L542.13,381.91 L542.55,381.91 L542.97,381.91 L543.39,381.91 L543.81,381.91 L544.23,381.91 L544.65,381.91 L545.07,381.91 L545.48,381.91 L545.90,381.91 L546.32,381.91 L546.74,381.91 L547.16,381.91 L547.58,381.91 L548.00,381.91 L548.42,381.91 L548.84,381.91 L549.26,381.91 L549.68,381.91 L550.09,381.91 L550.51,381.91 L550.93,381.91 L551.35,381.91 L551.77,381.91 L552.19,381.91 L552.61,381.91 L553.03,381.91 L553.45,381.91 L553.87,381.91 L554.29,381.91 L554.70,381.91 L555.12,381.91 L555.54,381.91 L555.96,381.91 L556.38,381.92 L556.80,381.92 L557.22,381.92 L557.64,381.92 L558.06,381.92 L558.48,381.92 L558.90,381.92 L559.31,381.92 L559.73,381.92 L560.15,381.92 L560.57,381.92 L560.99,381.92 L561.41,381.92 L561.83,381.92 L562.25,381.92 L562.67,381.92 L563.09,381.92 L563.51,381.92 L563.92,381.92 L564.34,381.92 L564.76,381.92 L565.18,381.92 L565.60,381.92 L566.02,381.92 L566.44,381.92 L566.86,381.92 L567.28,381.91 L567.70,381.91 L568.12,381.91 L568.53,381.91 L568.95,381.91 L569.37,381.91 L569.79,381.91 L570.21,381.91 L570.63,381.91 L571.05,381.91 L571.47,381.91 L571.89,381.91 L572.31,381.91 L572.73,381.91 L573.14,381.91 L573.56,381.91 L573.98,381.91 L574.40,381.91 L574.82,381.91 L575.24,381.91 L575.66,381.91 L576.08,381.91 L576.50,381.91 L576.92,381.91 L577.33,381.91 L577.75,381.91 L578.17,381.91 L578.59,381.91 L579.01,381.91 L579.43,381.91 L579.85,381.91 L580.27,381.91 L580.69,381.91 L581.11,381.91 L581.53,381.91 L581.94,381.91 L582.36,381.91 L582.78,381.91 L583.20,381.91 L583.62,381.91 L584.04,381.91 L584.46,381.91 L584.88,381.91 L585.30,381.91 L585.72,381.91 L586.14,381.91 L586.55,381.91 L586.97,381.91 L587.39,381.91 L587.81,381.91 L588.23,381.91 L588.65,381.91 L589.07,381.91 L589.49,381.91 L589.91,381.91 L590.33,381.91 L590.75,381.91 L591.16,381.91 L591.58,381.91 L592.00,381.91 L592.42,381.91 L592.84,381.91 L593.26,381.91 L593.68,381.91 L594.10,381.91 L594.52,381.91 L594.94,381.91 L595.36,381.91 L595.77,381.91 L596.19,381.91 L596.61,381.91 L597.03,381.91 L597.45,381.91 L597.87,381.91 L598.29,381.91 L598.71,381.91 L599.13,381.91 L599.55,381.91 L599.97,381.91 L600.38,381.91 L600.80,381.91 L601.22,381.91 L601.64,381.91 L602.06,381.91 L602.48,381.91 L602.90,381.91 L603.32,381.91 L603.74,381.91 L604.16,381.91 L604.58,381.91 L604.99,381.91 L605.41,381.91 L605.83,381.91 L606.25,381.91 L606.67,381.91 L607.09,381.91 L607.51,381.91 L607.93,381.91 L608.35,381.91 L608.77,381.91 L609.18,381.91 L609.60,381.91 L610.02,381.91 L610.44,381.91 L610.86,381.91 L611.28,381.91 L611.70,381.91 L612.12,381.91 L612.54,381.91 L612.96,381.91 L613.38,381.91 L613.79,381.91 L614.21,381.91 L614.63,381.91 L615.05,381.91 L615.47,381.91 L615.89,381.91 L616.31,381.91 L616.73,381.91 L617.15,381.91 L617.57,381.91 L617.99,381.91 L618.40,381.91 L618.82,381.91 L619.24,381.91 L619.66,381.91 L620.08,381.91 L620.50,381.91 L620.92,381.91 L621.34,381.91 L621.76,381.91 L622.18,381.91 L622.60,381.91 L623.01,381.91 L623.43,381.91 L623.85,381.91 L624.27,381.91 L624.69,381.91 L625.11,381.91 L625.53,381.91 L625.95,381.91 L626.37,381.91 L626.79,381.91 L627.21,381.91 L627.62,381.91 L628.04,381.91 L628.46,381.91 L628.88,381.91 L629.30,381.91 L629.72,381.91 L630.14,381.91 L630.56,381.91 L630.98,381.91 L631.40,381.91 L631.82,381.91 L632.23,381.91 L632.65,381.91 L633.07,381.91 L633.49,381.91 L633.91,381.91 L634.33,381.91 L634.75,381.91 L635.17,381.91 L635.59,381.91 L636.01,381.91 L636.43,381.91 L636.84,381.91 L637.26,381.91 L637.68,381.91 L638.10,381.91 L638.52,381.91 L638.94,381.91 L639.36,381.91 L639.78,381.91 L640.20,381.91 L640.62,381.91 L641.03,381.91 L641.45,381.91 L641.87,381.91 L642.29,381.91 L642.71,381.91 L643.13,381.91 L643.55,381.91 L643.97,381.91 L644.39,381.91 L644.81,381.91 L645.23,381.91 L645.64,381.91 L646.06,381.91 L646.48,381.91 L646.90,381.91 L647.32,381.91 L647.74,381.91 L648.16,381.91 L648.58,381.91 L649.00,381.91 L649.42,381.91 L649.84,381.91 L650.25,381.91 L650.67,381.91 L651.09,381.91 L651.51,381.91 L651.93,381.91 L652.35,381.91 L652.77,381.91 L653.19,381.91 L653.61,381.91 L654.03,381.91 L654.45,381.91 L654.86,381.91 L655.28,381.91 L655.70,381.91 L656.12,381.91 L656.54,381.91 L656.96,381.91 L657.38,381.91 L657.80,381.91 L658.22,381.91 L658.64,381.91 L659.06,381.91 L659.47,381.91 L659.89,381.91 L660.31,381.91 L660.73,381.91 L661.15,381.91 L661.57,381.91 L661.99,381.91 L662.41,381.91 L662.83,381.91 L663.25,381.91 L663.67,381.91 L664.08,381.91 L664.50,381.91 L664.92,381.91 L665.34,381.91 L665.76,381.91 L666.18,381.91 L666.60,381.91 L667.02,381.91 L667.44,381.91 L667.86,381.91 L668.28,381.91 L668.69,381.91 L669.11,381.91 L669.53,381.91 L669.95,381.91 L670.37,381.91 L670.79,381.91 L671.21,381.91 L671.63,381.91 L672.05,381.91 L672.47,381.91 L672.88,381.91 L673.30,381.91 L673.72,381.91 L674.14,381.91 L674.56,381.91 L674.98,381.91 L675.40,381.91 L675.82,381.91 L676.24,381.91 L676.66,381.91 L677.08,381.91 L677.49,381.91 L677.91,381.91 L678.33,381.91 L678.75,381.91 L679.17,381.91 L679.59,381.91 L680.01,381.91 L680.43,381.91 L680.85,381.91 L681.27,381.91 L681.69,381.91 L682.10,381.91 L682.52,381.91 L682.94,381.91 L683.36,381.91 L683.78,381.91 L684.20,381.91" style="stroke:#00ff00;stroke-width:2.8;stroke-dasharray:14.7 8.8"/>
<path d="M47.20,490.30 L47.62,486.98 L48.04,483.65 L48.46,480.33 L48.88,477.01 L49.30,473.68 L49.71,470.36 L50.13,467.04 L50.55,463.71 L50.97,460.39 L51.39,457.07 L51.81,453.75 L52.23,450.42 L52.65,447.10 L53.07,443.78 L53.49,440.45 L53.91,437.13 L54.32,433.81 L54.74,430.48 L55.16,427.16 L55.58,423.84 L56.00,420.52 L56.42,417.21 L56.84,413.92 L57.26,410.65 L57.68,407.42 L58.10,404.22 L58.52,401.06 L58.93,397.94 L59.35,394.87 L59.77,391.85 L60.19,388.88 L60.61,385.97 L61.03,383.11 L61.45,380.31 L61.87,377.58 L62.29,374.90 L62.71,372.29 L63.12,369.75 L63.54,367.27 L63.96,364.86 L64.38,362.51 L64.80,360.24 L65.22,358.04 L65.64,355.90 L66.06,353.84 L66.48,351.85 L66.90,349.92 L67.32,348.08 L67.73,346.30 L68.15,344.59 L68.57,342.95 L68.99,341.39 L69.41,339.89 L69.83,338.47 L70.25,337.11 L70.67,335.82 L71.09,334.60 L71.51,333.45 L71.93,332.36 L72.34,331.33 L72.76,330.37 L73.18,329.47 L73.60,328.64 L74.02,327.86 L74.44,327.14 L74.86,326.48 L75.28,325.88 L75.70,325.33 L76.12,324.83 L76.54,324.39 L76.95,324.00 L77.37,323.66 L77.79,323.36 L78.21,323.11 L78.63,322.91 L79.05,322.75 L79.47,322.63 L79.89,322.55 L80.31,322.51 L80.73,322.51 L81.15,322.54 L81.56,322.61 L81.98,322.71 L82.40,322.84 L82.82,323.00 L83.24,323.19 L83.66,323.41 L84.08,323.65 L84.50,323.92 L84.92,324.21 L85.34,324.52 L85.76,324.85 L86.17,325.20 L86.59,325.57 L87.01,325.95 L87.43,326.35 L87.85,326.76 L88.27,327.18 L88.69,327.62 L89.11,328.06 L89.53,328.52 L89.95,328.98 L90.37,329.45 L90.78,329.93 L91.20,330.41 L91.62,330.89 L92.04,331.38 L92.46,331.87 L92.88,332.37 L93.30,332.86 L93.72,333.35 L94.14,333.84 L94.56,334.33 L94.97,334.82 L95.39,335.31 L95.81,335.79 L96.23,336.26 L96.65,336.74 L97.07,337.20 L97.49,337.67 L97.91,338.12 L98.33,338.57 L98.75,339.01 L99.17,339.45 L99.58,339.87 L100.00,340.29 L100.42,340.70 L100.84,341.10 L101.26,341.49 L101.68,341.87 L102.10,342.25 L102.52,342.61 L102.94,342.96 L103.36,343.31 L103.78,343.64 L104.19,343.96 L104.61,344.28 L105.03,344.58 L105.45,344.87 L105.87,345.15 L106.29,345.42 L106.71,345.69 L107.13,345.94 L107.55,346.18 L107.97,346.41 L108.39,346.62 L108.80,346.83 L109.22,347.03 L109.64,347.22 L110.06,347.40 L110.48,347.57 L110.90,347.73 L111.32,347.88 L111.74,348.02 L112.16,348.16 L112.58,348.28 L113.00,348.39 L113.41,348.50 L113.83,348.60 L114.25,348.68 L114.67,348.77 L115.09,348.84 L115.51,348.90 L115.93,348.96 L116.35,349.01 L116.77,349.06 L117.19,349.09 L117.61,349.12 L118.02,349.15 L118.44,349.17 L118.86,349.18 L119.28,349.18 L119.70,349.18 L120.12,349.18 L120.54,349.17 L120.96,349.16 L121.38,349.14 L121.80,349.11 L122.22,349.09 L122.63,349.06 L123.05,349.02 L123.47,348.98 L123.89,348.94 L124.31,348.89 L124.73,348.85 L125.15,348.80 L125.57,348.74 L125.99,348.69 L126.41,348.63 L126.83,348.57 L127.24,348.51 L127.66,348.44 L128.08,348.38 L128.50,348.31 L128.92,348.24 L129.34,348.18 L129.76,348.11 L130.18,348.04 L130.60,347.97 L131.02,347.89 L131.43,347.82 L131.85,347.75 L132.27,347.68 L132.69,347.61 L133.11,347.53 L133.53,347.46 L133.95,347.39 L134.37,347.32 L134.79,347.25 L135.21,347.18 L135.63,347.11 L136.04,347.04 L136.46,346.97 L136.88,346.91 L137.30,346.84 L137.72,346.78 L138.14,346.71 L138.56,346.65 L138.98,346.59 L139.40,346.53 L139.82,346.47 L140.24,346.41 L140.65,346.36 L141.07,346.30 L141.49,346.25 L141.91,346.20 L142.33,346.15 L142.75,346.10 L143.17,346.05 L143.59,346.01 L144.01,345.96 L144.43,345.92 L144.85,345.88 L145.26,345.84 L145.68,345.80 L146.10,345.76 L146.52,345.73 L146.94,345.69 L147.36,345.66 L147.78,345.63 L148.20,345.60 L148.62,345.57 L149.04,345.55 L149.46,345.52 L149.87,345.50 L150.29,345.48 L150.71,345.46 L151.13,345.44 L151.55,345.42 L151.97,345.40 L152.39,345.39 L152.81,345.37 L153.23,345.36 L153.65,345.35 L154.07,345.34 L154.48,345.33 L154.90,345.32 L155.32,345.31 L155.74,345.30 L156.16,345.30 L156.58,345.29 L157.00,345.29 L157.42,345.29 L157.84,345.29 L158.26,345.29 L158.68,345.29 L159.09,345.29 L159.51,345.29 L159.93,345.29 L160.35,345.29 L160.77,345.30 L161.19,345.30 L161.61,345.30 L162.03,345.31 L162.45,345.31 L162.87,345.32 L163.28,345.33 L163.70,345.33 L164.12,345.34 L164.54,345.35 L164.96,345.36 L165.38,345.37 L165.80,345.37 L166.22,345.38 L166.64,345.39 L167.06,345.40 L167.48,345.41 L167.89,345.42 L168.31,345.43 L168.73,345.44 L169.15,345.45 L169.57,345.46 L169.99,345.47 L170.41,345.48 L170.83,345.49 L171.25,345.50 L171.67,345.52 L172.09,345.53 L172.50,345.54 L172.92,345.55 L173.34,345.56 L173.76,345.57 L174.18,345.58 L174.60,345.59 L175.02,345.60 L175.44,345.61 L175.86,345.62 L176.28,345.63 L176.70,345.64 L177.11,345.65 L177.53,345.65 L177.95,345.66 L178.37,345.67 L178.79,345.68 L179.21,345.69 L179.63,345.70 L180.05,345.71 L180.47,345.71 L180.89,345.72 L181.31,345.73 L181.72,345.74 L182.14,345.74 L182.56,345.75 L182.98,345.76 L183.40,345.76 L183.82,345.77 L184.24,345.77 L184.66,345.78 L185.08,345.79 L185.50,345.79 L185.92,345.80 L186.33,345.80 L186.75,345.80 L187.17,345.81 L187.59,345.81 L188.01,345.82 L188.43,345.82 L188.85,345.82 L189.27,345.83 L189.69,345.83 L190.11,345.83 L190.52,345.84 L190.94,345.84 L191.36,345.84 L191.78,345.84 L192.20,345.84 L192.62,345.85 L193.04,345.85 L193.46,345.85 L193.88,345.85 L194.30,345.85 L194.72,345.85 L195.13,345.85 L195.55,345.85 L195.97,345.85 L196.39,345.85 L196.81,345.86 L197.23,345.86 L197.65,345.86 L198.07,345.86 L198.49,345.86 L198.91,345.85 L199.33,345.85 L199.74,345.85 L200.16,345.85 L200.58,345.85 L201.00,345.85 L201.42,345.85 L201.84,345.85 L202.26,345.85 L202.68,345.85 L203.10,345.85 L203.52,345.85 L203.94,345.85 L204.35,345.84 L204.77,345.84 L205.19,345.84 L205.61,345.84 L206.03,345.84 L206.45,345.84 L206.87,345.84 L207.29,345.83 L207.71,345.83 L208.13,345.83 L208.55,345.83 L208.96,345.83 L209.38,345.83 L209.80,345.83 L210.22,345.82 L210.64,345.82 L211.06,345.82 L211.48,345.82 L211.90,345.82 L212.32,345.82 L212.74,345.81 L213.16,345.81 L213.57,345.81 L213.99,345.81 L214.41,345.81 L214.83,345.81 L215.25,344.97 L215.67,344.14 L216.09,343.31 L216.51,342.48 L216.93,341.65 L217.35,340.81 L217.77,339.98 L218.18,339.15 L218.60,338.32 L219.02,337.49 L219.44,336.65 L219.86,335.82 L220.28,334.99 L220.70,334.16 L221.12,333.33 L221.54,332.50 L221.96,331.66 L222.38,330.83 L222.79,330.00 L223.21,329.17 L223.63,328.34 L224.05,327.51 L224.47,326.69 L224.89,325.87 L225.31,325.06 L225.73,324.26 L226.15,323.47 L226.57,322.69 L226.98,321.92 L227.40,321.16 L227.82,320.42 L228.24,319.69 L228.66,318.98 L229.08,318.28 L229.50,317.59 L229.92,316.93 L230.34,316.27 L230.76,315.64 L231.18,315.02 L231.59,314.41 L232.01,313.83 L232.43,313.26 L232.85,312.71 L233.27,312.17 L233.69,311.66 L234.11,311.16 L234.53,310.68 L234.95,310.22 L235.37,309.77 L235.79,309.34 L236.20,308.94 L236.62,308.54 L237.04,308.17 L237.46,307.81 L237.88,307.47 L238.30,307.15 L238.72,306.85 L239.14,306.56 L239.56,306.29 L239.98,306.03 L240.40,305.79 L240.81,305.57 L241.23,305.36 L241.65,305.16 L242.07,304.98 L242.49,304.82 L242.91,304.67 L243.33,304.53 L243.75,304.41 L244.17,304.30 L244.59,304.20 L245.01,304.11 L245.42,304.04 L245.84,303.98 L246.26,303.93 L246.68,303.89 L247.10,303.86 L247.52,303.84 L247.94,303.83 L248.36,303.83 L248.78,303.84 L249.20,303.85 L249.62,303.88 L250.03,303.91 L250.45,303.95 L250.87,304.00 L251.29,304.06 L251.71,304.12 L252.13,304.18 L252.55,304.26 L252.97,304.33 L253.39,304.42 L253.81,304.50 L254.23,304.60 L254.64,304.69 L255.06,304.79 L255.48,304.89 L255.90,305.00 L256.32,305.11 L256.74,305.22 L257.16,305.34 L257.58,305.45 L258.00,305.57 L258.42,305.69 L258.83,305.81 L259.25,305.93 L259.67,306.05 L260.09,306.18 L260.51,306.30 L260.93,306.42 L261.35,306.55 L261.77,306.67 L262.19,306.79 L262.61,306.91 L263.03,307.03 L263.44,307.15 L263.86,307.27 L264.28,307.39 L264.70,307.51 L265.12,307.62 L265.54,307.74 L265.96,307.85 L266.38,307.96 L266.80,308.07 L267.22,308.18 L267.64,308.28 L268.05,308.38 L268.47,308.48 L268.89,308.58 L269.31,308.68 L269.73,308.77 L270.15,308.86 L270.57,308.95 L270.99,309.04 L271.41,309.12 L271.83,309.20 L272.25,309.28 L272.66,309.35 L273.08,309.43 L273.50,309.50 L273.92,309.57 L274.34,309.63 L274.76,309.69 L275.18,309.75 L275.60,309.81 L276.02,309.87 L276.44,309.92 L276.86,309.97 L277.27,310.01 L277.69,310.06 L278.11,310.10 L278.53,310.14 L278.95,310.18 L279.37,310.21 L279.79,310.25 L280.21,310.28 L280.63,310.31 L281.05,310.33 L281.47,310.36 L281.88,310.38 L282.30,310.40 L282.72,310.42 L283.14,310.43 L283.56,310.45 L283.98,310.46 L284.40,310.47 L284.82,310.48 L285.24,310.49 L285.66,310.50 L286.07,310.50 L286.49,310.50 L286.91,310.50 L287.33,310.50 L287.75,310.50 L288.17,310.50 L288.59,310.50 L289.01,310.49 L289.43,310.49 L289.85,310.48 L290.27,310.47 L290.68,310.46 L291.10,310.45 L291.52,310.44 L291.94,310.43 L292.36,310.42 L292.78,310.41 L293.20,310.39 L293.62,310.38 L294.04,310.37 L294.46,310.35 L294.88,310.33 L295.29,310.32 L295.71,310.30 L296.13,310.29 L296.55,310.27 L296.97,310.25 L297.39,310.23 L297.81,310.22 L298.23,310.20 L298.65,310.18 L299.07,310.16 L299.49,310.15 L299.90,310.13 L300.32,310.11 L300.74,310.09 L301.16,310.07 L301.58,310.06 L302.00,310.04 L302.42,310.02 L302.84,310.00 L303.26,309.99 L303.68,309.97 L304.10,309.95 L304.51,309.93 L304.93,309.92 L305.35,309.90 L305.77,309.89 L306.19,309.87 L306.61,309.86 L307.03,309.84 L307.45,309.83 L307.87,309.81 L308.29,309.80 L308.71,309.78 L309.12,309.77 L309.54,309.76 L309.96,309.74 L310.38,309.73 L310.80,309.72 L311.22,309.71 L311.64,309.70 L312.06,309.69 L312.48,309.68 L312.90,309.67 L313.32,309.66 L313.73,309.65 L314.15,309.64 L314.57,309.63 L314.99,309.62 L315.41,309.62 L315.83,309.61 L316.25,309.60 L316.67,309.59 L317.09,309.59 L317.51,309.58 L317.93,309.58 L318.34,309.57 L318.76,309.57 L319.18,309.56 L319.60,309.56 L320.02,309.55 L320.44,309.55 L320.86,309.55 L321.28,309.54 L321.70,309.54 L322.12,309.54 L322.53,309.54 L322.95,309.54 L323.37,309.53 L323.79,309.53 L324.21,309.53 L324.63,309.53 L325.05,309.53 L325.47,309.53 L325.89,309.53 L326.31,309.53 L326.73,309.53 L327.14,309.53 L327.56,309.53 L327.98,309.53 L328.40,309.53 L328.82,309.53 L329.24,309.53 L329.66,309.53 L330.08,309.54 L330.50,309.54 L330.92,309.54 L331.34,309.54 L331.75,309.54 L332.17,309.55 L332.59,309.55 L333.01,309.55 L333.43,309.55 L333.85,309.55 L334.27,309.56 L334.69,309.56 L335.11,309.56 L335.53,309.56 L335.95,309.57 L336.36,309.57 L336.78,309.57 L337.20,309.57 L337.62,309.58 L338.04,309.58 L338.46,309.58 L338.88,309.58 L339.30,309.59 L339.72,309.59 L340.14,309.59 L340.56,309.59 L340.97,309.60 L341.39,309.60 L341.81,309.60 L342.23,309.60 L342.65,309.61 L343.07,309.61 L343.49,309.61 L343.91,309.61 L344.33,309.62 L344.75,309.62 L345.17,309.62 L345.58,309.62 L346.00,309.63 L346.42,309.63 L346.84,309.63 L347.26,309.63 L347.68,309.63 L348.10,309.64 L348.52,309.64 L348.94,309.64 L349.36,309.64 L349.77,309.64 L350.19,309.65 L350.61,309.65 L351.03,309.65 L351.45,309.65 L351.87,309.65 L352.29,309.65 L352.71,309.65 L353.13,309.66 L353.55,309.66 L353.97,309.66 L354.38,309.66 L354.80,309.66 L355.22,309.66 L355.64,309.66 L356.06,309.66 L356.48,309.66 L356.90,309.66 L357.32,309.67 L357.74,309.67 L358.16,309.67 L358.58,309.67 L358.99,309.67 L359.41,309.67 L359.83,309.67 L360.25,309.67 L360.67,309.67 L361.09,309.67 L361.51,309.67 L361.93,309.67 L362.35,309.67 L362.77,309.67 L363.19,309.67 L363.60,309.67 L364.02,309.67 L364.44,309.67 L364.86,309.67 L365.28,309.67 L365.70,309.67 L366.12,309.67 L366.54,309.67 L366.96,309.67 L367.38,309.67 L367.80,309.67 L368.21,309.67 L368.63,309.67 L369.05,309.67 L369.47,309.67 L369.89,309.67 L370.31,309.67 L370.73,309.67 L371.15,309.67 L371.57,309.67 L371.99,309.67 L372.41,309.67 L372.82,309.67 L373.24,309.67 L373.66,309.67 L374.08,309.67 L374.50,309.67 L374.92,309.67 L375.34,309.67 L375.76,309.67 L376.18,309.67 L376.60,309.66 L377.02,309.66 L377.43,309.66 L377.85,309.66 L378.27,309.66 L378.69,309.66 L379.11,309.66 L379.53,309.66 L379.95,309.66 L380.37,309.66 L380.79,309.66 L381.21,309.66 L381.62,309.66 L382.04,309.66 L382.46,309.66 L382.88,311.32 L383.30,312.98 L383.72,314.64 L384.14,316.30 L384.56,317.97 L384.98,319.63 L385.40,321.29 L385.82,322.95 L386.23,324.61 L386.65,326.27 L387.07,327.93 L387.49,329.59 L387.91,331.26 L388.33,332.92 L388.75,334.58 L389.17,336.24 L389.59,337.90 L390.01,339.56 L390.43,341.22 L390.84,342.89 L391.26,344.55 L391.68,346.20 L392.10,347.84 L392.52,349.48 L392.94,351.09 L393.36,352.69 L393.78,354.27 L394.20,355.83 L394.62,357.37 L395.04,358.88 L395.45,360.36 L395.87,361.82 L396.29,363.25 L396.71,364.65 L397.13,366.01 L397.55,367.35 L397.97,368.66 L398.39,369.93 L398.81,371.17 L399.23,372.37 L399.65,373.54 L400.06,374.68 L400.48,375.78 L400.90,376.85 L401.32,377.88 L401.74,378.88 L402.16,379.84 L402.58,380.76 L403.00,381.65 L403.42,382.51 L403.84,383.32 L404.26,384.11 L404.67,384.85 L405.09,385.57 L405.51,386.25 L405.93,386.89 L406.35,387.50 L406.77,388.08 L407.19,388.62 L407.61,389.13 L408.03,389.62 L408.45,390.06 L408.87,390.48 L409.28,390.87 L409.70,391.23 L410.12,391.56 L410.54,391.86 L410.96,392.14 L411.38,392.38 L411.80,392.61 L412.22,392.80 L412.64,392.97 L413.06,393.12 L413.47,393.25 L413.89,393.35 L414.31,393.43 L414.73,393.49 L415.15,393.53 L415.57,393.55 L415.99,393.55 L416.41,393.53 L416.83,393.50 L417.25,393.45 L417.67,393.38 L418.08,393.30 L418.50,393.21 L418.92,393.10 L419.34,392.98 L419.76,392.84 L420.18,392.70 L420.60,392.54 L421.02,392.38 L421.44,392.20 L421.86,392.02 L422.28,391.83 L422.69,391.63 L423.11,391.42 L423.53,391.21 L423.95,390.99 L424.37,390.77 L424.79,390.54 L425.21,390.31 L425.63,390.08 L426.05,389.84 L426.47,389.60 L426.89,389.36 L427.30,389.11 L427.72,388.87 L428.14,388.62 L428.56,388.37 L428.98,388.13 L429.40,387.88 L429.82,387.64 L430.24,387.39 L430.66,387.15 L431.08,386.91 L431.50,386.67 L431.91,386.43 L432.33,386.20 L432.75,385.97 L433.17,385.74 L433.59,385.52 L434.01,385.30 L434.43,385.08 L434.85,384.87 L435.27,384.66 L435.69,384.45 L436.11,384.25 L436.52,384.06 L436.94,383.87 L437.36,383.68 L437.78,383.50 L438.20,383.32 L438.62,383.15 L439.04,382.98 L439.46,382.82 L439.88,382.67 L440.30,382.51 L440.72,382.37 L441.13,382.23 L441.55,382.09 L441.97,381.96 L442.39,381.84 L442.81,381.72 L443.23,381.60 L443.65,381.49 L444.07,381.39 L444.49,381.29 L444.91,381.19 L445.32,381.10 L445.74,381.02 L446.16,380.94 L446.58,380.86 L447.00,380.79 L447.42,380.73 L447.84,380.66 L448.26,380.61 L448.68,380.55 L449.10,380.51 L449.52,380.46 L449.93,380.42 L450.35,380.38 L450.77,380.35 L451.19,380.32 L451.61,380.30 L452.03,380.28 L452.45,380.26 L452.87,380.24 L453.29,380.23 L453.71,380.22 L454.13,380.21 L454.54,380.21 L454.96,380.21 L455.38,380.21 L455.80,380.22 L456.22,380.23 L456.64,380.23 L457.06,380.25 L457.48,380.26 L457.90,380.28 L458.32,380.29 L458.74,380.31 L459.15,380.33 L459.57,380.36 L459.99,380.38 L460.41,380.41 L460.83,380.43 L461.25,380.46 L461.67,380.49 L462.09,380.52 L462.51,380.55 L462.93,380.58 L463.35,380.61 L463.76,380.65 L464.18,380.68 L464.60,380.72 L465.02,380.75 L465.44,380.79 L465.86,380.82 L466.28,380.86 L466.70,380.89 L467.12,380.93 L467.54,380.96 L467.96,381.00 L468.37,381.04 L468.79,381.07 L469.21,381.11 L469.63,381.14 L470.05,381.18 L470.47,381.21 L470.89,381.25 L471.31,381.28 L471.73,381.32 L472.15,381.35 L472.57,381.38 L472.98,381.41 L473.40,381.45 L473.82,381.48 L474.24,381.51 L474.66,381.54 L475.08,381.57 L475.50,381.60 L475.92,381.62 L476.34,381.65 L476.76,381.68 L477.18,381.70 L477.59,381.73 L478.01,381.75 L478.43,381.78 L478.85,381.80 L479.27,381.82 L479.69,381.84 L480.11,381.86 L480.53,381.88 L480.95,381.90 L481.37,381.92 L481.78,381.94 L482.20,381.96 L482.62,381.97 L483.04,381.99 L483.46,382.00 L483.88,382.02 L484.30,382.03 L484.72,382.04 L485.14,382.05 L485.56,382.06 L485.98,382.07 L486.39,382.08 L486.81,382.09 L487.23,382.10 L487.65,382.11 L488.07,382.12 L488.49,382.12 L488.91,382.13 L489.33,382.13 L489.75,382.14 L490.17,382.14 L490.59,382.15 L491.00,382.15 L491.42,382.15 L491.84,382.16 L492.26,382.16 L492.68,382.16 L493.10,382.16 L493.52,382.16 L493.94,382.16 L494.36,382.16 L494.78,382.16 L495.20,382.16 L495.61,382.16 L496.03,382.16 L496.45,382.15 L496.87,382.15 L497.29,382.15 L497.71,382.15 L498.13,382.14 L498.55,382.14 L498.97,382.14 L499.39,382.13 L499.81,382.13 L500.22,382.12 L500.64,382.12 L501.06,382.12 L501.48,382.11 L501.90,382.11 L502.32,382.10 L502.74,382.10 L503.16,382.09 L503.58,382.09 L504.00,382.08 L504.42,382.08 L504.83,382.07 L505.25,382.07 L505.67,382.06 L506.09,382.06 L506.51,382.05 L506.93,382.05 L507.35,382.04 L507.77,382.04 L508.19,382.03 L508.61,382.02 L509.02,382.02 L509.44,382.01 L509.86,382.01 L510.28,382.00 L510.70,382.00 L511.12,381.99 L511.54,381.99 L511.96,381.99 L512.38,381.98 L512.80,381.98 L513.22,381.97 L513.63,381.97 L514.05,381.96 L514.47,381.96 L514.89,381.95 L515.31,381.95 L515.73,381.95 L516.15,381.94 L516.57,381.94 L516.99,381.94 L517.41,381.93 L517.83,381.93 L518.24,381.93 L518.66,381.92 L519.08,381.92 L519.50,381.92 L519.92,381.91 L520.34,381.91 L520.76,381.91 L521.18,381.91 L521.60,381.90 L522.02,381.90 L522.44,381.90 L522.85,381.90 L523.27,381.90 L523.69,381.89 L524.11,381.89 L524.53,381.89 L524.95,381.89 L525.37,381.89 L525.79,381.89 L526.21,381.88 L526.63,381.88 L527.05,381.88 L527.46,381.88 L527.88,381.88 L528.30,381.88 L528.72,381.88 L529.14,381.88 L529.56,381.88 L529.98,381.88 L530.40,381.88 L530.82,381.88 L531.24,381.88 L531.66,381.88 L532.07,381.88 L532.49,381.88 L532.91,381.88 L533.33,381.88 L533.75,381.88 L534.17,381.88 L534.59,381.88 L535.01,381.88 L535.43,381.88 L535.85,381.88 L536.27,381.88 L536.68,381.88 L537.10,381.88 L537.52,381.88 L537.94,381.88 L538.36,381.88 L538.78,381.88 L539.20,381.88 L539.62,381.88 L540.04,381.88 L540.46,381.88 L540.88,381.88 L541.29,381.88 L541.71,381.88 L542.13,381.89 L542.55,381.89 L542.97,381.89 L543.39,381.89 L543.81,381.89 L544.23,381.89 L544.65,381.89 L545.07,381.89 L545.48,381.89 L545.90,381.89 L546.32,381.89 L546.74,381.89 L547.16,381.89 L547.58,381.90 L548.00,381.90 L548.42,381.90 L548.84,381.90 L549.26,381.90 L549.68,381.90 L550.09,381.90 L550.51,381.90 L550.93,381.90 L551.35,381.90 L551.77,381.90 L552.19,381.90 L552.61,381.90 L553.03,381.90 L553.45,381.91 L553.87,381.91 L554.29,381.91 L554.70,381.91 L555.12,381.91 L555.54,381.91 L555.96,381.91 L556.38,381.91 L556.80,381.91 L557.22,381.91 L557.64,381.91 L558.06,381.91 L558.48,381.91 L558.90,381.91 L559.31,381.91 L559.73,381.91 L560.15,381.91 L560.57,381.91 L560.99,381.91 L561.41,381.91 L561.83,381.91 L562.25,381.91 L562.67,381.91 L563.09,381.92 L563.51,381.92 L563.92,381.92 L564.34,381.92 L564.76,381.92 L565.18,381.92 L565.60,381.92 L566.02,381.92 L566.44,381.92 L566.86,381.92 L567.28,381.92 L567.70,381.92 L568.12,381.92 L568.53,381.92 L568.95,381.92 L569.37,381.92 L569.79,381.92 L570.21,381.92 L570.63,381.92 L571.05,381.92 L571.47,381.92 L571.89,381.92 L572.31,381.92 L572.73,381.92 L573.14,381.92 L573.56,381.92 L573.98,381.92 L574.40,381.92 L574.82,381.92 L575.24,381.92 L575.66,381.92 L576.08,381.92 L576.50,381.92 L576.92,381.92 L577.33,381.92 L577.75,381.92 L578.17,381.92 L578.59,381.92 L579.01,381.92 L579.43,381.92 L579.85,381.92 L580.27,381.92 L580.69,381.92 L581.11,381.92 L581.53,381.92 L581.94,381.92 L582.36,381.92 L582.78,381.92 L583.20,381.92 L583.62,381.92 L584.04,381.92 L584.46,381.92 L584.88,381.91 L585.30,381.91 L585.72,381.91 L586.14,381.91 L586.55,381.91 L586.97,381.91 L587.39,381.91 L587.81,381.91 L588.23,381.91 L588.65,381.91 L589.07,381.91 L589.49,381.91 L589.91,381.91 L590.33,381.91 L590.75,381.91 L591.16,381.91 L591.58,381.91 L592.00,381.91 L592.42,381.91 L592.84,381.91 L593.26,381.91 L593.68,381.91 L594.10,381.91 L594.52,381.91 L594.94,381.91 L595.36,381.91 L595.77,381.91 L596.19,381.91 L596.61,381.91 L597.03,381.91 L597.45,381.91 L597.87,381.91 L598.29,381.91 L598.71,381.91 L599.13,381.91 L599.55,381.91 L599.97,381.91 L600.38,381.91 L600.80,381.91 L601.22,381.91 L601.64,381.91 L602.06,381.91 L602.48,381.91 L602.90,381.91 L603.32,381.91 L603.74,381.91 L604.16,381.91 L604.58,381.91 L604.99,381.91 L605.41,381.91 L605.83,381.91 L606.25,381.91 L606.67,381.91 L607.09,381.91 L607.51,381.91 L607.93,381.91 L608.35,381.91 L608.77,381.91 L609.18,381.91 L609.60,381.91 L610.02,381.91 L610.44,381.91 L610.86,381.91 L611.28,381.91 L611.70,381.91 L612.12,381.91 L612.54,381.91 L612.96,381.91 L613.38,381.91 L613.79,381.91 L614.21,381.91 L614.63,381.91 L615.05,381.91 L615.47,381.91 L615.89,381.91 L616.31,381.91 L616.73,381.91 L617.15,381.91 L617.57,381.91 L617.99,381.91 L618.40,381.91 L618.82,381.91 L619.24,381.91 L619.66,381.91 L620.08,381.91 L620.50,381.91 L620.92,381.91 L621.34,381.91 L621.76,381.91 L622.18,381.91 L622.60,381.91 L623.01,381.91 L623.43,381.91 L623.85,381.91 L624.27,381.91 L624.69,381.91 L625.11,381.91 L625.53,381.91 L625.95,381.91 L626.37,381.91 L626.79,381.91 L627.21,381.91 L627.62,381.91 L628.04,381.91 L628.46,381.91 L628.88,381.91 L629.30,381.91 L629.72,381.91 L630.14,381.91 L630.56,381.91 L630.98,381.91 L631.40,381.91 L631.82,381.91 L632.23,381.91 L632.65,381.91 L633.07,381.91 L633.49,381.91 L633.91,381.91 L634.33,381.91 L634.75,381.91 L635.17,381.91 L635.59,381.91 L636.01,381.91 L636.43,381.91 L636.84,381.91 L637.26,381.91 L637.68,381.91 L638.10,381.91 L638.52,381.91 L638.94,381.91 L639.36,381.91 L639.78,381.91 L640.20,381.91 L640.62,381.91 L641.03,381.91 L641.45,381.91 L641.87,381.91 L642.29,381.91 L642.71,381.91 L643.13,381.91 L643.55,381.91 L643.97,381.91 L644.39,381.91 L644.81,381.91 L645.23,381.91 L645.64,381.91 L646.06,381.91 L646.48,381.91 L646.90,381.91 L647.32,381.91 L647.74,381.91 L648.16,381.91 L648.58,381.91 L649.00,381.91 L649.42,381.91 L649.84,381.91 L650.25,381.91 L650.67,381.91 L651.09,381.91 L651.51,381.91 L651.93,381.91 L652.35,381.91 L652.77,381.91 L653.19,381.91 L653.61,381.91 L654.03,381.91 L654.45,381.91 L654.86,381.91 L655.28,381.91 L655.70,381.91 L656.12,381.91 L656.54,381.91 L656.96,381.91 L657.38,381.91 L657.80,381.91 L658.22,381.91 L658.64,381.91 L659.06,381.91 L659.47,381.91 L659.89,381.91 L660.31,381.91 L660.73,381.91 L661.15,381.91 L661.57,381.91 L661.99,381.91 L662.41,381.91 L662.83,381.91 L663.25,381.91 L663.67,381.91 L664.08,381.91 L664.50,381.91 L664.92,381.91 L665.34,381.91 L665.76,381.91 L666.18,381.91 L666.60,381.91 L667.02,381.91 L667.44,381.91 L667.86,381.91 L668.28,381.91 L668.69,381.91 L669.11,381.91 L669.53,381.91 L669.95,381.91 L670.37,381.91 L670.79,381.91 L671.21,381.91 L671.63,381.91 L672.05,381.91 L672.47,381.91 L672.88,381.91 L673.30,381.91 L673.72,381.91 L674.14,381.91 L674.56,381.91 L674.98,381.91 L675.40,381.91 L675.82,381.91 L676.24,381.91 L676.66,381.91 L677.08,381.91 L677.49,381.91 L677.91,381.91 L678.33,381.91 L678.75,381.91 L679.17,381.91 L679.59,381.91 L680.01,381.91 L680.43,381.91 L680.85,381.91 L681.27,381.91 L681.69,381.91 L682.10,381.91 L682.52,381.91 L682.94,381.91 L683.36,381.91 L683.78,381.91 L684.20,381.91" style="stroke:#ff00ff;stroke-width:2.8;stroke-dasharray:11.9 4.15 3.2 4.25"/>
<path d="M47.20,490.30 L47.62,487.45 L48.04,484.61 L48.46,481.76 L48.88,478.92 L49.30,476.07 L49.71,473.23 L50.13,470.38 L50.55,467.54 L50.97,464.69 L51.39,461.85 L51.81,459.00 L52.23,456.16 L52.65,453.31 L53.07,450.47 L53.49,447.62 L53.91,444.78 L54.32,441.93 L54.74,439.09 L55.16,436.24 L55.58,433.40 L56.00,430.55 L56.42,427.71 L56.84,424.86 L57.26,422.04 L57.68,419.23 L58.10,416.44 L58.52,413.69 L58.93,410.97 L59.35,408.29 L59.77,405.65 L60.19,403.05 L60.61,400.50 L61.03,397.99 L61.45,395.53 L61.87,393.12 L62.29,390.75 L62.71,388.44 L63.12,386.18 L63.54,383.97 L63.96,381.81 L64.38,379.70 L64.80,377.65 L65.22,375.65 L65.64,373.71 L66.06,371.81 L66.48,369.98 L66.90,368.19 L67.32,366.47 L67.73,364.79 L68.15,363.17 L68.57,361.61 L68.99,360.10 L69.41,358.64 L69.83,357.23 L70.25,355.88 L70.67,354.58 L71.09,353.33 L71.51,352.13 L71.93,350.98 L72.34,349.88 L72.76,348.83 L73.18,347.83 L73.60,346.87 L74.02,345.96 L74.44,345.09 L74.86,344.27 L75.28,343.49 L75.70,342.75 L76.12,342.06 L76.54,341.40 L76.95,340.78 L77.37,340.20 L77.79,339.66 L78.21,339.15 L78.63,338.68 L79.05,338.25 L79.47,337.84 L79.89,337.47 L80.31,337.13 L80.73,336.82 L81.15,336.54 L81.56,336.28 L81.98,336.05 L82.40,335.85 L82.82,335.68 L83.24,335.52 L83.66,335.39 L84.08,335.29 L84.50,335.20 L84.92,335.13 L85.34,335.09 L85.76,335.06 L86.17,335.05 L86.59,335.05 L87.01,335.07 L87.43,335.11 L87.85,335.16 L88.27,335.22 L88.69,335.30 L89.11,335.39 L89.53,335.49 L89.95,335.60 L90.37,335.72 L90.78,335.85 L91.20,335.99 L91.62,336.14 L92.04,336.29 L92.46,336.45 L92.88,336.61 L93.30,336.79 L93.72,336.96 L94.14,337.14 L94.56,337.33 L94.97,337.52 L95.39,337.71 L95.81,337.90 L96.23,338.10 L96.65,338.30 L97.07,338.50 L97.49,338.70 L97.91,338.90 L98.33,339.10 L98.75,339.31 L99.17,339.51 L99.58,339.71 L100.00,339.91 L100.42,340.11 L100.84,340.31 L101.26,340.50 L101.68,340.70 L102.10,340.89 L102.52,341.08 L102.94,341.27 L103.36,341.45 L103.78,341.64 L104.19,341.82 L104.61,341.99 L105.03,342.17 L105.45,342.34 L105.87,342.51 L106.29,342.67 L106.71,342.83 L107.13,342.99 L107.55,343.14 L107.97,343.29 L108.39,343.44 L108.80,343.58 L109.22,343.72 L109.64,343.85 L110.06,343.98 L110.48,344.11 L110.90,344.24 L111.32,344.36 L111.74,344.47 L112.16,344.58 L112.58,344.69 L113.00,344.80 L113.41,344.90 L113.83,345.00 L114.25,345.09 L114.67,345.18 L115.09,345.27 L115.51,345.35 L115.93,345.43 L116.35,345.50 L116.77,345.58 L117.19,345.65 L117.61,345.71 L118.02,345.78 L118.44,345.84 L118.86,345.89 L119.28,345.95 L119.70,346.00 L120.12,346.05 L120.54,346.09 L120.96,346.13 L121.38,346.17 L121.80,346.21 L122.22,346.25 L122.63,346.28 L123.05,346.31 L123.47,346.34 L123.89,346.36 L124.31,346.39 L124.73,346.41 L125.15,346.43 L125.57,346.45 L125.99,346.46 L126.41,346.47 L126.83,346.49 L127.24,346.50 L127.66,346.51 L128.08,346.51 L128.50,346.52 L128.92,346.52 L129.34,346.53 L129.76,346.53 L130.18,346.53 L130.60,346.53 L131.02,346.53 L131.43,346.52 L131.85,346.52 L132.27,346.52 L132.69,346.51 L133.11,346.50 L133.53,346.50 L133.95,346.49 L134.37,346.48 L134.79,346.47 L135.21,346.46 L135.63,346.45 L136.04,346.44 L136.46,346.43 L136.88,346.42 L137.30,346.41 L137.72,346.40 L138.14,346.38 L138.56,346.37 L138.98,346.36 L139.40,346.34 L139.82,346.33 L140.24,346.32 L140.65,346.30 L141.07,346.29 L141.49,346.27 L141.91,346.26 L142.33,346.25 L142.75,346.23 L143.17,346.22 L143.59,346.20 L144.01,346.19 L144.43,346.18 L144.85,346.16 L145.26,346.15 L145.68,346.14 L146.10,346.12 L146.52,346.11 L146.94,346.10 L147.36,346.08 L147.78,346.07 L148.20,346.06 L148.62,346.05 L149.04,346.03 L149.46,346.02 L149.87,346.01 L150.29,346.00 L150.71,345.99 L151.13,345.98 L151.55,345.97 L151.97,345.96 L152.39,345.94 L152.81,345.94 L153.23,345.93 L153.65,345.92 L154.07,345.91 L154.48,345.90 L154.90,345.89 L155.32,345.88 L155.74,345.87 L156.16,345.87 L156.58,345.86 L157.00,345.85 L157.42,345.84 L157.84,345.84 L158.26,345.83 L158.68,345.82 L159.09,345.82 L159.51,345.81 L159.93,345.81 L160.35,345.80 L160.77,345.80 L161.19,345.79 L161.61,345.79 L162.03,345.78 L162.45,345.78 L162.87,345.77 L163.28,345.77 L163.70,345.77 L164.12,345.76 L164.54,345.76 L164.96,345.76 L165.38,345.76 L165.80,345.75 L166.22,345.75 L166.64,345.75 L167.06,345.75 L167.48,345.74 L167.89,345.74 L168.31,345.74 L168.73,345.74 L169.15,345.74 L169.57,345.74 L169.99,345.74 L170.41,345.73 L170.83,345.73 L171.25,345.73 L171.67,345.73 L172.09,345.73 L172.50,345.73 L172.92,345.73 L173.34,345.73 L173.76,345.73 L174.18,345.73 L174.60,345.73 L175.02,345.73 L175.44,345.73 L175.86,345.73 L176.28,345.73 L176.70,345.73 L177.11,345.73 L177.53,345.73 L177.95,345.73 L178.37,345.73 L178.79,345.73 L179.21,345.74 L179.63,345.74 L180.05,345.74 L180.47,345.74 L180.89,345.74 L181.31,345.74 L181.72,345.74 L182.14,345.74 L182.56,345.74 L182.98,345.74 L183.40,345.74 L183.82,345.74 L184.24,345.75 L184.66,345.75 L185.08,345.75 L185.50,345.75 L185.92,345.75 L186.33,345.75 L186.75,345.75 L187.17,345.75 L187.59,345.75 L188.01,345.75 L188.43,345.76 L188.85,345.76 L189.27,345.76 L189.69,345.76 L190.11,345.76 L190.52,345.76 L190.94,345.76 L191.36,345.76 L191.78,345.76 L192.20,345.76 L192.62,345.76 L193.04,345.77 L193.46,345.77 L193.88,345.77 L194.30,345.77 L194.72,345.77 L195.13,345.77 L195.55,345.77 L195.97,345.77 L196.39,345.77 L196.81,345.77 L197.23,345.77 L197.65,345.77 L198.07,345.77 L198.49,345.77 L198.91,345.78 L199.33,345.78 L199.74,345.78 L200.16,345.78 L200.58,345.78 L201.00,345.78 L201.42,345.78 L201.84,345.78 L202.26,345.78 L202.68,345.78 L203.10,345.78 L203.52,345.78 L203.94,345.78 L204.35,345.78 L204.77,345.78 L205.19,345.78 L205.61,345.78 L206.03,345.78 L206.45,345.78 L206.87,345.78 L207.29,345.78 L207.71,345.78 L208.13,345.78 L208.55,345.78 L208.96,345.78 L209.38,345.78 L209.80,345.78 L210.22,345.79 L210.64,345.79 L211.06,345.79 L211.48,345.79 L211.90,345.79 L212.32,345.79 L212.74,345.79 L213.16,345.79 L213.57,345.79 L213.99,345.79 L214.41,345.79 L214.83,345.79 L215.25,345.07 L215.67,344.36 L216.09,343.65 L216.51,342.94 L216.93,342.23 L217.35,341.52 L217.77,340.81 L218.18,340.10 L218.60,339.38 L219.02,338.67 L219.44,337.96 L219.86,337.25 L220.28,336.54 L220.70,335.83 L221.12,335.12 L221.54,334.41 L221.96,333.69 L222.38,332.98 L222.79,332.27 L223.21,331.56 L223.63,330.85 L224.05,330.14 L224.47,329.43 L224.89,328.72 L225.31,328.02 L225.73,327.32 L226.15,326.63 L226.57,325.95 L226.98,325.28 L227.40,324.62 L227.82,323.97 L228.24,323.33 L228.66,322.71 L229.08,322.09 L229.50,321.49 L229.92,320.90 L230.34,320.32 L230.76,319.75 L231.18,319.20 L231.59,318.66 L232.01,318.14 L232.43,317.62 L232.85,317.12 L233.27,316.64 L233.69,316.16 L234.11,315.70 L234.53,315.26 L234.95,314.83 L235.37,314.41 L235.79,314.00 L236.20,313.61 L236.62,313.23 L237.04,312.87 L237.46,312.52 L237.88,312.18 L238.30,311.85 L238.72,311.54 L239.14,311.24 L239.56,310.95 L239.98,310.68 L240.40,310.42 L240.81,310.17 L241.23,309.93 L241.65,309.70 L242.07,309.48 L242.49,309.28 L242.91,309.08 L243.33,308.90 L243.75,308.72 L244.17,308.56 L244.59,308.40 L245.01,308.26 L245.42,308.12 L245.84,308.00 L246.26,307.88 L246.68,307.77 L247.10,307.67 L247.52,307.58 L247.94,307.49 L248.36,307.41 L248.78,307.34 L249.20,307.28 L249.62,307.22 L250.03,307.17 L250.45,307.13 L250.87,307.09 L251.29,307.06 L251.71,307.03 L252.13,307.01 L252.55,306.99 L252.97,306.98 L253.39,306.97 L253.81,306.97 L254.23,306.97 L254.64,306.98 L255.06,306.99 L255.48,307.00 L255.90,307.01 L256.32,307.03 L256.74,307.06 L257.16,307.08 L257.58,307.11 L258.00,307.14 L258.42,307.17 L258.83,307.20 L259.25,307.24 L259.67,307.28 L260.09,307.32 L260.51,307.36 L260.93,307.40 L261.35,307.45 L261.77,307.49 L262.19,307.54 L262.61,307.59 L263.03,307.63 L263.44,307.68 L263.86,307.73 L264.28,307.78 L264.70,307.83 L265.12,307.88 L265.54,307.93 L265.96,307.98 L266.38,308.03 L266.80,308.08 L267.22,308.13 L267.64,308.18 L268.05,308.23 L268.47,308.28 L268.89,308.33 L269.31,308.38 L269.73,308.43 L270.15,308.48 L270.57,308.52 L270.99,308.57 L271.41,308.62 L271.83,308.66 L272.25,308.71 L272.66,308.75 L273.08,308.79 L273.50,308.83 L273.92,308.88 L274.34,308.92 L274.76,308.95 L275.18,308.99 L275.60,309.03 L276.02,309.07 L276.44,309.10 L276.86,309.14 L277.27,309.17 L277.69,309.20 L278.11,309.24 L278.53,309.27 L278.95,309.30 L279.37,309.33 L279.79,309.35 L280.21,309.38 L280.63,309.41 L281.05,309.43 L281.47,309.46 L281.88,309.48 L282.30,309.50 L282.72,309.52 L283.14,309.54 L283.56,309.56 L283.98,309.58 L284.40,309.60 L284.82,309.62 L285.24,309.64 L285.66,309.65 L286.07,309.67 L286.49,309.68 L286.91,309.69 L287.33,309.71 L287.75,309.72 L288.17,309.73 L288.59,309.74 L289.01,309.75 L289.43,309.76 L289.85,309.77 L290.27,309.78 L290.68,309.79 L291.10,309.79 L291.52,309.80 L291.94,309.80 L292.36,309.81 L292.78,309.81 L293.20,309.82 L293.62,309.82 L294.04,309.83 L294.46,309.83 L294.88,309.83 L295.29,309.83 L295.71,309.84 L296.13,309.84 L296.55,309.84 L296.97,309.84 L297.39,309.84 L297.81,309.84 L298.23,309.84 L298.65,309.84 L299.07,309.84 L299.49,309.84 L299.90,309.84 L300.32,309.84 L300.74,309.83 L301.16,309.83 L301.58,309.83 L302.00,309.83 L302.42,309.83 L302.84,309.82 L303.26,309.82 L303.68,309.82 L304.10,309.82 L304.51,309.81 L304.93,309.81 L305.35,309.81 L305.77,309.80 L306.19,309.80 L306.61,309.80 L307.03,309.79 L307.45,309.79 L307.87,309.79 L308.29,309.78 L308.71,309.78 L309.12,309.78 L309.54,309.77 L309.96,309.77 L310.38,309.77 L310.80,309.76 L311.22,309.76 L311.64,309.76 L312.06,309.75 L312.48,309.75 L312.90,309.74 L313.32,309.74 L313.73,309.74 L314.15,309.73 L314.57,309.73 L314.99,309.73 L315.41,309.73 L315.83,309.72 L316.25,309.72 L316.67,309.72 L317.09,309.71 L317.51,309.71 L317.93,309.71 L318.34,309.70 L318.76,309.70 L319.18,309.70 L319.60,309.70 L320.02,309.69 L320.44,309.69 L320.86,309.69 L321.28,309.69 L321.70,309.68 L322.12,309.68 L322.53,309.68 L322.95,309.68 L323.37,309.68 L323.79,309.67 L324.21,309.67 L324.63,309.67 L325.05,309.67 L325.47,309.67 L325.89,309.67 L326.31,309.66 L326.73,309.66 L327.14,309.66 L327.56,309.66 L327.98,309.66 L328.40,309.66 L328.82,309.66 L329.24,309.65 L329.66,309.65 L330.08,309.65 L330.50,309.65 L330.92,309.65 L331.34,309.65 L331.75,309.65 L332.17,309.65 L332.59,309.65 L333.01,309.65 L333.43,309.65 L333.85,309.65 L334.27,309.64 L334.69,309.64 L335.11,309.64 L335.53,309.64 L335.95,309.64 L336.36,309.64 L336.78,309.64 L337.20,309.64 L337.62,309.64 L338.04,309.64 L338.46,309.64 L338.88,309.64 L339.30,309.64 L339.72,309.64 L340.14,309.64 L340.56,309.64 L340.97,309.64 L341.39,309.64 L341.81,309.64 L342.23,309.64 L342.65,309.64 L343.07,309.64 L343.49,309.64 L343.91,309.64 L344.33,309.64 L344.75,309.64 L345.17,309.64 L345.58,309.64 L346.00,309.64 L346.42,309.64 L346.84,309.64 L347.26,309.64 L347.68,309.64 L348.10,309.64 L348.52,309.64 L348.94,309.64 L349.36,309.64 L349.77,309.64 L350.19,309.64 L350.61,309.64 L351.03,309.64 L351.45,309.64 L351.87,309.64 L352.29,309.64 L352.71,309.64 L353.13,309.64 L353.55,309.65 L353.97,309.65 L354.38,309.65 L354.80,309.65 L355.22,309.65 L355.64,309.65 L356.06,309.65 L356.48,309.65 L356.90,309.65 L357.32,309.65 L357.74,309.65 L358.16,309.65 L358.58,309.65 L358.99,309.65 L359.41,309.65 L359.83,309.65 L360.25,309.65 L360.67,309.65 L361.09,309.65 L361.51,309.65 L361.93,309.65 L362.35,309.65 L362.77,309.65 L363.19,309.65 L363.60,309.65 L364.02,309.65 L364.44,309.65 L364.86,309.65 L365.28,309.65 L365.70,309.65 L366.12,309.65 L366.54,309.65 L366.96,309.65 L367.38,309.65 L367.80,309.65 L368.21,309.65 L368.63,309.65 L369.05,309.65 L369.47,309.65 L369.89,309.65 L370.31,309.65 L370.73,309.65 L371.15,309.65 L371.57,309.65 L371.99,309.65 L372.41,309.65 L372.82,309.65 L373.24,309.65 L373.66,309.65 L374.08,309.65 L374.50,309.65 L374.92,309.65 L375.34,309.65 L375.76,309.65 L376.18,309.65 L376.60,309.65 L377.02,309.65 L377.43,309.65 L377.85,309.65 L378.27,309.65 L378.69,309.65 L379.11,309.65 L379.53,309.65 L379.95,309.65 L380.37,309.65 L380.79,309.65 L381.21,309.65 L381.62,309.65 L382.04,309.65 L382.46,309.65 L382.88,311.08 L383.30,312.50 L383.72,313.92 L384.14,315.34 L384.56,316.77 L384.98,318.19 L385.40,319.61 L385.82,321.04 L386.23,322.46 L386.65,323.88 L387.07,325.30 L387.49,326.73 L387.91,328.15 L388.33,329.57 L388.75,330.99 L389.17,332.42 L389.59,333.84 L390.01,335.26 L390.43,336.68 L390.84,338.11 L391.26,339.53 L391.68,340.95 L392.10,342.37 L392.52,343.79 L392.94,345.19 L393.36,346.58 L393.78,347.96 L394.20,349.32 L394.62,350.66 L395.04,351.98 L395.45,353.28 L395.87,354.55 L396.29,355.81 L396.71,357.04 L397.13,358.25 L397.55,359.43 L397.97,360.58 L398.39,361.72 L398.81,362.82 L399.23,363.90 L399.65,364.95 L400.06,365.98 L400.48,366.98 L400.90,367.95 L401.32,368.90 L401.74,369.82 L402.16,370.71 L402.58,371.57 L403.00,372.41 L403.42,373.22 L403.84,374.00 L404.26,374.76 L404.67,375.48 L405.09,376.19 L405.51,376.86 L405.93,377.51 L406.35,378.14 L406.77,378.74 L407.19,379.31 L407.61,379.86 L408.03,380.39 L408.45,380.89 L408.87,381.37 L409.28,381.82 L409.70,382.26 L410.12,382.67 L410.54,383.06 L410.96,383.43 L411.38,383.78 L411.80,384.10 L412.22,384.41 L412.64,384.70 L413.06,384.97 L413.47,385.23 L413.89,385.46 L414.31,385.68 L414.73,385.88 L415.15,386.07 L415.57,386.24 L415.99,386.39 L416.41,386.54 L416.83,386.66 L417.25,386.78 L417.67,386.88 L418.08,386.97 L418.50,387.04 L418.92,387.11 L419.34,387.16 L419.76,387.20 L420.18,387.24 L420.60,387.26 L421.02,387.27 L421.44,387.28 L421.86,387.28 L422.28,387.27 L422.69,387.25 L423.11,387.22 L423.53,387.19 L423.95,387.15 L424.37,387.11 L424.79,387.06 L425.21,387.00 L425.63,386.94 L426.05,386.88 L426.47,386.81 L426.89,386.74 L427.30,386.66 L427.72,386.58 L428.14,386.50 L428.56,386.41 L428.98,386.32 L429.40,386.23 L429.82,386.14 L430.24,386.04 L430.66,385.95 L431.08,385.85 L431.50,385.75 L431.91,385.65 L432.33,385.55 L432.75,385.45 L433.17,385.35 L433.59,385.25 L434.01,385.15 L434.43,385.05 L434.85,384.95 L435.27,384.85 L435.69,384.75 L436.11,384.65 L436.52,384.55 L436.94,384.45 L437.36,384.36 L437.78,384.26 L438.20,384.17 L438.62,384.08 L439.04,383.99 L439.46,383.90 L439.88,383.81 L440.30,383.72 L440.72,383.63 L441.13,383.55 L441.55,383.47 L441.97,383.39 L442.39,383.31 L442.81,383.23 L443.23,383.16 L443.65,383.08 L444.07,383.01 L444.49,382.94 L444.91,382.88 L445.32,382.81 L445.74,382.75 L446.16,382.69 L446.58,382.63 L447.00,382.57 L447.42,382.51 L447.84,382.46 L448.26,382.40 L448.68,382.35 L449.10,382.31 L449.52,382.26 L449.93,382.21 L450.35,382.17 L450.77,382.13 L451.19,382.09 L451.61,382.05 L452.03,382.01 L452.45,381.98 L452.87,381.95 L453.29,381.92 L453.71,381.89 L454.13,381.86 L454.54,381.83 L454.96,381.80 L455.38,381.78 L455.80,381.76 L456.22,381.74 L456.64,381.72 L457.06,381.70 L457.48,381.68 L457.90,381.66 L458.32,381.65 L458.74,381.63 L459.15,381.62 L459.57,381.61 L459.99,381.60 L460.41,381.59 L460.83,381.58 L461.25,381.57 L461.67,381.57 L462.09,381.56 L462.51,381.55 L462.93,381.55 L463.35,381.55 L463.76,381.54 L464.18,381.54 L464.60,381.54 L465.02,381.54 L465.44,381.54 L465.86,381.54 L466.28,381.54 L466.70,381.54 L467.12,381.54 L467.54,381.55 L467.96,381.55 L468.37,381.55 L468.79,381.55 L469.21,381.56 L469.63,381.56 L470.05,381.57 L470.47,381.57 L470.89,381.58 L471.31,381.58 L471.73,381.59 L472.15,381.59 L472.57,381.60 L472.98,381.61 L473.40,381.61 L473.82,381.62 L474.24,381.63 L474.66,381.63 L475.08,381.64 L475.50,381.65 L475.92,381.65 L476.34,381.66 L476.76,381.67 L477.18,381.67 L477.59,381.68 L478.01,381.69 L478.43,381.69 L478.85,381.70 L479.27,381.71 L479.69,381.72 L480.11,381.72 L480.53,381.73 L480.95,381.74 L481.37,381.74 L481.78,381.75 L482.20,381.76 L482.62,381.76 L483.04,381.77 L483.46,381.77 L483.88,381.78 L484.30,381.79 L484.72,381.79 L485.14,381.80 L485.56,381.80 L485.98,381.81 L486.39,381.82 L486.81,381.82 L487.23,381.83 L487.65,381.83 L488.07,381.84 L488.49,381.84 L488.91,381.85 L489.33,381.85 L489.75,381.85 L490.17,381.86 L490.59,381.86 L491.00,381.87 L491.42,381.87 L491.84,381.87 L492.26,381.88 L492.68,381.88 L493.10,381.89 L493.52,381.89 L493.94,381.89 L494.36,381.89 L494.78,381.90 L495.20,381.90 L495.61,381.90 L496.03,381.91 L496.45,381.91 L496.87,381.91 L497.29,381.91 L497.71,381.91 L498.13,381.92 L498.55,381.92 L498.97,381.92 L499.39,381.92 L499.81,381.92 L500.22,381.92 L500.64,381.93 L501.06,381.93 L501.48,381.93 L501.90,381.93 L502.32,381.93 L502.74,381.93 L503.16,381.93 L503.58,381.93 L504.00,381.93 L504.42,381.93 L504.83,381.94 L505.25,381.94 L505.67,381.94 L506.09,381.94 L506.51,381.94 L506.93,381.94 L507.35,381.94 L507.77,381.94 L508.19,381.94 L508.61,381.94 L509.02,381.94 L509.44,381.94 L509.86,381.94 L510.28,381.94 L510.70,381.94 L511.12,381.94 L511.54,381.94 L511.96,381.94 L512.38,381.94 L512.80,381.94 L513.22,381.94 L513.63,381.94 L514.05,381.94 L514.47,381.94 L514.89,381.94 L515.31,381.93 L515.73,381.93 L516.15,381.93 L516.57,381.93 L516.99,381.93 L517.41,381.93 L517.83,381.93 L518.24,381.93 L518.66,381.93 L519.08,381.93 L519.50,381.93 L519.92,381.93 L520.34,381.93 L520.76,381.93 L521.18,381.93 L521.60,381.93 L522.02,381.93 L522.44,381.93 L522.85,381.93 L523.27,381.93 L523.69,381.93 L524.11,381.93 L524.53,381.92 L524.95,381.92 L525.37,381.92 L525.79,381.92 L526.21,381.92 L526.63,381.92 L527.05,381.92 L527.46,381.92 L527.88,381.92 L528.30,381.92 L528.72,381.92 L529.14,381.92 L529.56,381.92 L529.98,381.92 L530.40,381.92 L530.82,381.92 L531.24,381.92 L531.66,381.92 L532.07,381.92 L532.49,381.92 L532.91,381.92 L533.33,381.92 L533.75,381.92 L534.17,381.92 L534.59,381.92 L535.01,381.92 L535.43,381.91 L535.85,381.91 L536.27,381.91 L536.68,381.91 L537.10,381.91 L537.52,381.91 L537.94,381.91 L538.36,381.91 L538.78,381.91 L539.20,381.91 L539.62,381.91 L540.04,381.91 L540.46,381.91 L540.88,381.91 L541.29,381.91 L541.71,381.91 L542.13,381.91 L542.55,381.91 L542.97,381.91 L543.39,381.91 L543.81,381.91 L544.23,381.91 L544.65,381.91 L545.07,381.91 L545.48,381.91 L545.90,381.91 L546.32,381.91 L546.74,381.91 L547.16,381.91 L547.58,381.91 L548.00,381.91 L548.42,381.91 L548.84,381.91 L549.26,381.91 L549.68,381.91 L550.09,381.91 L550.51,381.91 L550.93,381.91 L551.35,381.91 L551.77,381.91 L552.19,381.91 L552.61,381.91 L553.03,381.91 L553.45,381.91 L553.87,381.91 L554.29,381.91 L554.70,381.91 L555.12,381.91 L555.54,381.91 L555.96,381.91 L556.38,381.91 L556.80,381.91 L557.22,381.91 L557.64,381.91 L558.06,381.91 L558.48,381.91 L558.90,381.91 L559.31,381.91 L559.73,381.91 L560.15,381.91 L560.57,381.91 L560.99,381.91 L561.41,381.91 L561.83,381.91 L562.25,381.91 L562.67,381.91 L563.09,381.91 L563.51,381.91 L563.92,381.91 L564.34,381.91 L564.76,381.91 L565.18,381.91 L565.60,381.91 L566.02,381.91 L566.44,381.91 L566.86,381.91 L567.28,381.91 L567.70,381.91 L568.12,381.91 L568.53,381.91 L568.95,381.91 L569.37,381.91 L569.79,381.91 L570.21,381.91 L570.63,381.91 L571.05,381.91 L571.47,381.91 L571.89,381.91 L572.31,381.91 L572.73,381.91 L573.14,381.91 L573.56,381.91 L573.98,381.91 L574.40,381.91 L574.82,381.91 L575.24,381.91 L575.66,381.91 L576.08,381.91 L576.50,381.91 L576.92,381.91 L577.33,381.91 L577.75,381.91 L578.17,381.91 L578.59,381.91 L579.01,381.91 L579.43,381.91 L579.85,381.91 L580.27,381.91 L580.69,381.91 L581.11,381.91 L581.53,381.91 L581.94,381.91 L582.36,381.91 L582.78,381.91 L583.20,381.91 L583.62,381.91 L584.04,381.91 L584.46,381.91 L584.88,381.91 L585.30,381.91 L585.72,381.91 L586.14,381.91 L586.55,381.91 L586.97,381.91 L587.39,381.91 L587.81,381.91 L588.23,381.91 L588.65,381.91 L589.07,381.91 L589.49,381.91 L589.91,381.91 L590.33,381.91 L590.75,381.91 L591.16,381.91 L591.58,381.91 L592.00,381.91 L592.42,381.91 L592.84,381.91 L593.26,381.91 L593.68,381.91 L594.10,381.91 L594.52,381.91 L594.94,381.91 L595.36,381.91 L595.77,381.91 L596.19,381.91 L596.61,381.91 L597.03,381.91 L597.45,381.91 L597.87,381.91 L598.29,381.91 L598.71,381.91 L599.13,381.91 L599.55,381.91 L599.97,381.91 L600.38,381.91 L600.80,381.91 L601.22,381.91 L601.64,381.91 L602.06,381.91 L602.48,381.91 L602.90,381.91 L603.32,381.91 L603.74,381.91 L604.16,381.91 L604.58,381.91 L604.99,381.91 L605.41,381.91 L605.83,381.91 L606.25,381.91 L606.67,381.91 L607.09,381.91 L607.51,381.91 L607.93,381.91 L608.35,381.91 L608.77,381.91 L609.18,381.91 L609.60,381.91 L610.02,381.91 L610.44,381.91 L610.86,381.91 L611.28,381.91 L611.70,381.91 L612.12,381.91 L612.54,381.91 L612.96,381.91 L613.38,381.91 L613.79,381.91 L614.21,381.91 L614.63,381.91 L615.05,381.91 L615.47,381.91 L615.89,381.91 L616.31,381.91 L616.73,381.91 L617.15,381.91 L617.57,381.91 L617.99,381.91 L618.40,381.91 L618.82,381.91 L619.24,381.91 L619.66,381.91 L620.08,381.91 L620.50,381.91 L620.92,381.91 L621.34,381.91 L621.76,381.91 L622.18,381.91 L622.60,381.91 L623.01,381.91 L623.43,381.91 L623.85,381.91 L624.27,381.91 L624.69,381.91 L625.11,381.91 L625.53,381.91 L625.95,381.91 L626.37,381.91 L626.79,381.91 L627.21,381.91 L627.62,381.91 L628.04,381.91 L628.46,381.91 L628.88,381.91 L629.30,381.91 L629.72,381.91 L630.14,381.91 L630.56,381.91 L630.98,381.91 L631.40,381.91 L631.82,381.91 L632.23,381.91 L632.65,381.91 L633.07,381.91 L633.49,381.91 L633.91,381.91 L634.33,381.91 L634.75,381.91 L635.17,381.91 L635.59,381.91 L636.01,381.91 L636.43,381.91 L636.84,381.91 L637.26,381.91 L637.68,381.91 L638.10,381.91 L638.52,381.91 L638.94,381.91 L639.36,381.91 L639.78,381.91 L640.20,381.91 L640.62,381.91 L641.03,381.91 L641.45,381.91 L641.87,381.91 L642.29,381.91 L642.71,381.91 L643.13,381.91 L643.55,381.91 L643.97,381.91 L644.39,381.91 L644.81,381.91 L645.23,381.91 L645.64,381.91 L646.06,381.91 L646.48,381.91 L646.90,381.91 L647.32,381.91 L647.74,381.91 L648.16,381.91 L648.58,381.91 L649.00,381.91 L649.42,381.91 L649.84,381.91 L650.25,381.91 L650.67,381.91 L651.09,381.91 L651.51,381.91 L651.93,381.91 L652.35,381.91 L652.77,381.91 L653.19,381.91 L653.61,381.91 L654.03,381.91 L654.45,381.91 L654.86,381.91 L655.28,381.91 L655.70,381.91 L656.12,381.91 L656.54,381.91 L656.96,381.91 L657.38,381.91 L657.80,381.91 L658.22,381.91 L658.64,381.91 L659.06,381.91 L659.47,381.91 L659.89,381.91 L660.31,381.91 L660.73,381.91 L661.15,381.91 L661.57,381.91 L661.99,381.91 L662.41,381.91 L662.83,381.91 L663.25,381.91 L663.67,381.91 L664.08,381.91 L664.50,381.91 L664.92,381.91 L665.34,381.91 L665.76,381.91 L666.18,381.91 L666.60,381.91 L667.02,381.91 L667.44,381.91 L667.86,381.91 L668.28,381.91 L668.69,381.91 L669.11,381.91 L669.53,381.91 L669.95,381.91 L670.37,381.91 L670.79,381.91 L671.21,381.91 L671.63,381.91 L672.05,381.91 L672.47,381.91 L672.88,381.91 L673.30,381.91 L673.72,381.91 L674.14,381.91 L674.56,381.91 L674.98,381.91 L675.40,381.91 L675.82,381.91 L676.24,381.91 L676.66,381.91 L677.08,381.91 L677.49,381.91 L677.91,381.91 L678.33,381.91 L678.75,381.91 L679.17,381.91 L679.59,381.91 L680.01,381.91 L680.43,381.91 L680.85,381.91 L681.27,381.91 L681.69,381.91 L682.10,381.91 L682.52,381.91 L682.94,381.91 L683.36,381.91 L683.78,381.91 L684.20,381.91" style="stroke:#000000;stroke-width:3"/>
<path d="M47.20,490.30 L47.62,486.73 L48.04,483.15 L48.46,479.58 L48.88,476.01 L49.30,472.43 L49.71,468.86 L50.13,465.29 L50.55,461.71 L50.97,458.14 L51.39,454.57 L51.81,450.99 L52.23,447.42 L52.65,443.85 L53.07,440.28 L53.49,436.70 L53.91,433.13 L54.32,429.56 L54.74,425.98 L55.16,422.41 L55.58,418.84 L56.00,415.26 L56.42,411.69 L56.84,408.12 L57.26,404.56 L57.68,401.00 L58.10,397.47 L58.52,393.96 L58.93,390.48 L59.35,387.03 L59.77,383.63 L60.19,380.27 L60.61,376.96 L61.03,373.71 L61.45,370.52 L61.87,367.39 L62.29,364.32 L62.71,361.33 L63.12,358.40 L63.54,355.55 L63.96,352.77 L64.38,350.07 L64.80,347.45 L65.22,344.90 L65.64,342.44 L66.06,340.06 L66.48,337.76 L66.90,335.54 L67.32,333.41 L67.73,331.36 L68.15,329.39 L68.57,327.51 L68.99,325.72 L69.41,324.01 L69.83,322.39 L70.25,320.85 L70.67,319.39 L71.09,318.02 L71.51,316.73 L71.93,315.53 L72.34,314.41 L72.76,313.37 L73.18,312.41 L73.60,311.53 L74.02,310.73 L74.44,310.00 L74.86,309.35 L75.28,308.78 L75.70,308.28 L76.12,307.85 L76.54,307.49 L76.95,307.20 L77.37,306.97 L77.79,306.81 L78.21,306.71 L78.63,306.68 L79.05,306.70 L79.47,306.78 L79.89,306.92 L80.31,307.11 L80.73,307.35 L81.15,307.64 L81.56,307.98 L81.98,308.37 L82.40,308.80 L82.82,309.27 L83.24,309.78 L83.66,310.33 L84.08,310.92 L84.50,311.53 L84.92,312.19 L85.34,312.87 L85.76,313.58 L86.17,314.31 L86.59,315.07 L87.01,315.85 L87.43,316.66 L87.85,317.48 L88.27,318.31 L88.69,319.17 L89.11,320.03 L89.53,320.91 L89.95,321.80 L90.37,322.70 L90.78,323.60 L91.20,324.51 L91.62,325.42 L92.04,326.34 L92.46,327.25 L92.88,328.16 L93.30,329.08 L93.72,329.99 L94.14,330.89 L94.56,331.79 L94.97,332.68 L95.39,333.57 L95.81,334.44 L96.23,335.31 L96.65,336.16 L97.07,337.00 L97.49,337.83 L97.91,338.65 L98.33,339.45 L98.75,340.23 L99.17,341.00 L99.58,341.75 L100.00,342.49 L100.42,343.21 L100.84,343.91 L101.26,344.59 L101.68,345.25 L102.10,345.89 L102.52,346.51 L102.94,347.11 L103.36,347.69 L103.78,348.25 L104.19,348.79 L104.61,349.31 L105.03,349.81 L105.45,350.28 L105.87,350.74 L106.29,351.17 L106.71,351.58 L107.13,351.97 L107.55,352.34 L107.97,352.69 L108.39,353.01 L108.80,353.32 L109.22,353.60 L109.64,353.87 L110.06,354.11 L110.48,354.34 L110.90,354.54 L111.32,354.73 L111.74,354.89 L112.16,355.04 L112.58,355.17 L113.00,355.28 L113.41,355.37 L113.83,355.45 L114.25,355.51 L114.67,355.55 L115.09,355.58 L115.51,355.59 L115.93,355.59 L116.35,355.57 L116.77,355.54 L117.19,355.49 L117.61,355.43 L118.02,355.36 L118.44,355.28 L118.86,355.18 L119.28,355.08 L119.70,354.96 L120.12,354.84 L120.54,354.70 L120.96,354.55 L121.38,354.40 L121.80,354.24 L122.22,354.07 L122.63,353.89 L123.05,353.71 L123.47,353.52 L123.89,353.32 L124.31,353.12 L124.73,352.92 L125.15,352.71 L125.57,352.50 L125.99,352.28 L126.41,352.06 L126.83,351.84 L127.24,351.61 L127.66,351.39 L128.08,351.16 L128.50,350.93 L128.92,350.70 L129.34,350.47 L129.76,350.24 L130.18,350.01 L130.60,349.78 L131.02,349.56 L131.43,349.33 L131.85,349.11 L132.27,348.89 L132.69,348.67 L133.11,348.45 L133.53,348.23 L133.95,348.02 L134.37,347.81 L134.79,347.61 L135.21,347.41 L135.63,347.21 L136.04,347.02 L136.46,346.83 L136.88,346.64 L137.30,346.46 L137.72,346.28 L138.14,346.11 L138.56,345.95 L138.98,345.78 L139.40,345.63 L139.82,345.48 L140.24,345.33 L140.65,345.19 L141.07,345.05 L141.49,344.92 L141.91,344.79 L142.33,344.67 L142.75,344.56 L143.17,344.45 L143.59,344.35 L144.01,344.25 L144.43,344.15 L144.85,344.07 L145.26,343.98 L145.68,343.91 L146.10,343.83 L146.52,343.77 L146.94,343.70 L147.36,343.65 L147.78,343.59 L148.20,343.55 L148.62,343.51 L149.04,343.47 L149.46,343.43 L149.87,343.41 L150.29,343.38 L150.71,343.36 L151.13,343.35 L151.55,343.33 L151.97,343.33 L152.39,343.32 L152.81,343.32 L153.23,343.33 L153.65,343.33 L154.07,343.35 L154.48,343.36 L154.90,343.38 L155.32,343.40 L155.74,343.42 L156.16,343.45 L156.58,343.48 L157.00,343.51 L157.42,343.54 L157.84,343.58 L158.26,343.61 L158.68,343.65 L159.09,343.70 L159.51,343.74 L159.93,343.79 L160.35,343.83 L160.77,343.88 L161.19,343.93 L161.61,343.98 L162.03,344.04 L162.45,344.09 L162.87,344.14 L163.28,344.20 L163.70,344.25 L164.12,344.31 L164.54,344.37 L164.96,344.42 L165.38,344.48 L165.80,344.54 L166.22,344.60 L166.64,344.65 L167.06,344.71 L167.48,344.77 L167.89,344.83 L168.31,344.88 L168.73,344.94 L169.15,344.99 L169.57,345.05 L169.99,345.10 L170.41,345.16 L170.83,345.21 L171.25,345.26 L171.67,345.32 L172.09,345.37 L172.50,345.42 L172.92,345.47 L173.34,345.51 L173.76,345.56 L174.18,345.61 L174.60,345.65 L175.02,345.69 L175.44,345.73 L175.86,345.78 L176.28,345.82 L176.70,345.85 L177.11,345.89 L177.53,345.93 L177.95,345.96 L178.37,345.99 L178.79,346.03 L179.21,346.06 L179.63,346.08 L180.05,346.11 L180.47,346.14 L180.89,346.16 L181.31,346.19 L181.72,346.21 L182.14,346.23 L182.56,346.25 L182.98,346.27 L183.40,346.29 L183.82,346.30 L184.24,346.32 L184.66,346.33 L185.08,346.34 L185.50,346.35 L185.92,346.36 L186.33,346.37 L186.75,346.38 L187.17,346.38 L187.59,346.39 L188.01,346.39 L188.43,346.40 L188.85,346.40 L189.27,346.40 L189.69,346.40 L190.11,346.40 L190.52,346.40 L190.94,346.39 L191.36,346.39 L191.78,346.39 L192.20,346.38 L192.62,346.38 L193.04,346.37 L193.46,346.36 L193.88,346.36 L194.30,346.35 L194.72,346.34 L195.13,346.33 L195.55,346.32 L195.97,346.31 L196.39,346.30 L196.81,346.29 L197.23,346.27 L197.65,346.26 L198.07,346.25 L198.49,346.24 L198.91,346.22 L199.33,346.21 L199.74,346.20 L200.16,346.18 L200.58,346.17 L201.00,346.15 L201.42,346.14 L201.84,346.13 L202.26,346.11 L202.68,346.10 L203.10,346.08 L203.52,346.07 L203.94,346.05 L204.35,346.04 L204.77,346.03 L205.19,346.01 L205.61,346.00 L206.03,345.98 L206.45,345.97 L206.87,345.96 L207.29,345.94 L207.71,345.93 L208.13,345.92 L208.55,345.90 L208.96,345.89 L209.38,345.88 L209.80,345.86 L210.22,345.85 L210.64,345.84 L211.06,345.83 L211.48,345.82 L211.90,345.81 L212.32,345.80 L212.74,345.79 L213.16,345.78 L213.57,345.77 L213.99,345.76 L214.41,345.75 L214.83,345.74 L215.25,344.84 L215.67,343.94 L216.09,343.04 L216.51,342.14 L216.93,341.23 L217.35,340.33 L217.77,339.44 L218.18,338.54 L218.60,337.64 L219.02,336.74 L219.44,335.84 L219.86,334.94 L220.28,334.04 L220.70,333.15 L221.12,332.25 L221.54,331.35 L221.96,330.46 L222.38,329.56 L222.79,328.67 L223.21,327.77 L223.63,326.87 L224.05,325.98 L224.47,325.09 L224.89,324.19 L225.31,323.30 L225.73,322.42 L226.15,321.54 L226.57,320.67 L226.98,319.81 L227.40,318.96 L227.82,318.12 L228.24,317.30 L228.66,316.48 L229.08,315.69 L229.50,314.91 L229.92,314.14 L230.34,313.39 L230.76,312.66 L231.18,311.95 L231.59,311.26 L232.01,310.59 L232.43,309.93 L232.85,309.30 L233.27,308.69 L233.69,308.10 L234.11,307.52 L234.53,306.97 L234.95,306.44 L235.37,305.93 L235.79,305.44 L236.20,304.98 L236.62,304.53 L237.04,304.11 L237.46,303.71 L237.88,303.33 L238.30,302.97 L238.72,302.63 L239.14,302.31 L239.56,302.01 L239.98,301.73 L240.40,301.48 L240.81,301.24 L241.23,301.02 L241.65,300.83 L242.07,300.65 L242.49,300.49 L242.91,300.35 L243.33,300.23 L243.75,300.13 L244.17,300.04 L244.59,299.97 L245.01,299.92 L245.42,299.88 L245.84,299.86 L246.26,299.85 L246.68,299.86 L247.10,299.88 L247.52,299.92 L247.94,299.97 L248.36,300.04 L248.78,300.11 L249.20,300.20 L249.62,300.30 L250.03,300.41 L250.45,300.53 L250.87,300.66 L251.29,300.80 L251.71,300.95 L252.13,301.10 L252.55,301.27 L252.97,301.44 L253.39,301.62 L253.81,301.81 L254.23,302.00 L254.64,302.19 L255.06,302.40 L255.48,302.60 L255.90,302.81 L256.32,303.03 L256.74,303.25 L257.16,303.47 L257.58,303.69 L258.00,303.92 L258.42,304.14 L258.83,304.37 L259.25,304.60 L259.67,304.83 L260.09,305.06 L260.51,305.29 L260.93,305.51 L261.35,305.74 L261.77,305.97 L262.19,306.19 L262.61,306.42 L263.03,306.64 L263.44,306.86 L263.86,307.07 L264.28,307.29 L264.70,307.50 L265.12,307.70 L265.54,307.91 L265.96,308.11 L266.38,308.30 L266.80,308.50 L267.22,308.68 L267.64,308.87 L268.05,309.05 L268.47,309.22 L268.89,309.39 L269.31,309.55 L269.73,309.71 L270.15,309.87 L270.57,310.02 L270.99,310.16 L271.41,310.30 L271.83,310.44 L272.25,310.56 L272.66,310.69 L273.08,310.81 L273.50,310.92 L273.92,311.03 L274.34,311.13 L274.76,311.22 L275.18,311.32 L275.60,311.40 L276.02,311.48 L276.44,311.56 L276.86,311.63 L277.27,311.69 L277.69,311.75 L278.11,311.81 L278.53,311.86 L278.95,311.90 L279.37,311.94 L279.79,311.98 L280.21,312.01 L280.63,312.04 L281.05,312.06 L281.47,312.08 L281.88,312.09 L282.30,312.10 L282.72,312.11 L283.14,312.11 L283.56,312.11 L283.98,312.10 L284.40,312.10 L284.82,312.08 L285.24,312.07 L285.66,312.05 L286.07,312.03 L286.49,312.00 L286.91,311.98 L287.33,311.95 L287.75,311.92 L288.17,311.88 L288.59,311.84 L289.01,311.80 L289.43,311.76 L289.85,311.72 L290.27,311.68 L290.68,311.63 L291.10,311.58 L291.52,311.53 L291.94,311.48 L292.36,311.43 L292.78,311.38 L293.20,311.32 L293.62,311.27 L294.04,311.21 L294.46,311.16 L294.88,311.10 L295.29,311.05 L295.71,310.99 L296.13,310.93 L296.55,310.87 L296.97,310.82 L297.39,310.76 L297.81,310.70 L298.23,310.64 L298.65,310.59 L299.07,310.53 L299.49,310.47 L299.90,310.42 L300.32,310.36 L300.74,310.31 L301.16,310.26 L301.58,310.20 L302.00,310.15 L302.42,310.10 L302.84,310.05 L303.26,310.00 L303.68,309.95 L304.10,309.91 L304.51,309.86 L304.93,309.81 L305.35,309.77 L305.77,309.73 L306.19,309.69 L306.61,309.65 L307.03,309.61 L307.45,309.57 L307.87,309.53 L308.29,309.50 L308.71,309.46 L309.12,309.43 L309.54,309.40 L309.96,309.37 L310.38,309.34 L310.80,309.31 L311.22,309.29 L311.64,309.26 L312.06,309.24 L312.48,309.22 L312.90,309.20 L313.32,309.18 L313.73,309.16 L314.15,309.14 L314.57,309.13 L314.99,309.12 L315.41,309.10 L315.83,309.09 L316.25,309.08 L316.67,309.07 L317.09,309.06 L317.51,309.06 L317.93,309.05 L318.34,309.05 L318.76,309.04 L319.18,309.04 L319.60,309.04 L320.02,309.04 L320.44,309.04 L320.86,309.04 L321.28,309.04 L321.70,309.04 L322.12,309.05 L322.53,309.05 L322.95,309.06 L323.37,309.06 L323.79,309.07 L324.21,309.08 L324.63,309.08 L325.05,309.09 L325.47,309.10 L325.89,309.11 L326.31,309.12 L326.73,309.13 L327.14,309.14 L327.56,309.16 L327.98,309.17 L328.40,309.18 L328.82,309.19 L329.24,309.21 L329.66,309.22 L330.08,309.23 L330.50,309.25 L330.92,309.26 L331.34,309.27 L331.75,309.29 L332.17,309.30 L332.59,309.32 L333.01,309.33 L333.43,309.34 L333.85,309.36 L334.27,309.37 L334.69,309.39 L335.11,309.40 L335.53,309.42 L335.95,309.43 L336.36,309.44 L336.78,309.46 L337.20,309.47 L337.62,309.49 L338.04,309.50 L338.46,309.51 L338.88,309.53 L339.30,309.54 L339.72,309.55 L340.14,309.56 L340.56,309.58 L340.97,309.59 L341.39,309.60 L341.81,309.61 L342.23,309.62 L342.65,309.63 L343.07,309.64 L343.49,309.65 L343.91,309.66 L344.33,309.67 L344.75,309.68 L345.17,309.69 L345.58,309.70 L346.00,309.71 L346.42,309.72 L346.84,309.72 L347.26,309.73 L347.68,309.74 L348.10,309.74 L348.52,309.75 L348.94,309.76 L349.36,309.76 L349.77,309.77 L350.19,309.77 L350.61,309.78 L351.03,309.78 L351.45,309.78 L351.87,309.79 L352.29,309.79 L352.71,309.79 L353.13,309.80 L353.55,309.80 L353.97,309.80 L354.38,309.80 L354.80,309.80 L355.22,309.81 L355.64,309.81 L356.06,309.81 L356.48,309.81 L356.90,309.81 L357.32,309.81 L357.74,309.81 L358.16,309.81 L358.58,309.81 L358.99,309.81 L359.41,309.80 L359.83,309.80 L360.25,309.80 L360.67,309.80 L361.09,309.80 L361.51,309.80 L361.93,309.79 L362.35,309.79 L362.77,309.79 L363.19,309.79 L363.60,309.78 L364.02,309.78 L364.44,309.78 L364.86,309.78 L365.28,309.77 L365.70,309.77 L366.12,309.77 L366.54,309.76 L366.96,309.76 L367.38,309.76 L367.80,309.75 L368.21,309.75 L368.63,309.75 L369.05,309.74 L369.47,309.74 L369.89,309.74 L370.31,309.73 L370.73,309.73 L371.15,309.72 L371.57,309.72 L371.99,309.72 L372.41,309.71 L372.82,309.71 L373.24,309.71 L373.66,309.70 L374.08,309.70 L374.50,309.70 L374.92,309.69 L375.34,309.69 L375.76,309.69 L376.18,309.68 L376.60,309.68 L377.02,309.68 L377.43,309.67 L377.85,309.67 L378.27,309.67 L378.69,309.66 L379.11,309.66 L379.53,309.66 L379.95,309.66 L380.37,309.65 L380.79,309.65 L381.21,309.65 L381.62,309.65 L382.04,309.64 L382.46,309.64 L382.88,311.43 L383.30,313.21 L383.72,315.00 L384.14,316.78 L384.56,318.57 L384.98,320.35 L385.40,322.14 L385.82,323.92 L386.23,325.71 L386.65,327.49 L387.07,329.28 L387.49,331.06 L387.91,332.85 L388.33,334.63 L388.75,336.42 L389.17,338.20 L389.59,339.99 L390.01,341.78 L390.43,343.56 L390.84,345.35 L391.26,347.13 L391.68,348.92 L392.10,350.71 L392.52,352.49 L392.94,354.26 L393.36,356.03 L393.78,357.79 L394.20,359.53 L394.62,361.25 L395.04,362.95 L395.45,364.63 L395.87,366.28 L396.29,367.91 L396.71,369.51 L397.13,371.07 L397.55,372.60 L397.97,374.10 L398.39,375.57 L398.81,376.99 L399.23,378.38 L399.65,379.73 L400.06,381.05 L400.48,382.32 L400.90,383.55 L401.32,384.74 L401.74,385.89 L402.16,387.00 L402.58,388.07 L403.00,389.10 L403.42,390.08 L403.84,391.02 L404.26,391.92 L404.67,392.77 L405.09,393.59 L405.51,394.36 L405.93,395.09 L406.35,395.77 L406.77,396.42 L407.19,397.02 L407.61,397.58 L408.03,398.10 L408.45,398.58 L408.87,399.02 L409.28,399.42 L409.70,399.79 L410.12,400.11 L410.54,400.40 L410.96,400.65 L411.38,400.87 L411.80,401.05 L412.22,401.20 L412.64,401.31 L413.06,401.39 L413.47,401.44 L413.89,401.46 L414.31,401.45 L414.73,401.41 L415.15,401.34 L415.57,401.25 L415.99,401.13 L416.41,400.98 L416.83,400.81 L417.25,400.62 L417.67,400.41 L418.08,400.17 L418.50,399.91 L418.92,399.64 L419.34,399.35 L419.76,399.04 L420.18,398.71 L420.60,398.37 L421.02,398.02 L421.44,397.65 L421.86,397.27 L422.28,396.88 L422.69,396.48 L423.11,396.07 L423.53,395.65 L423.95,395.23 L424.37,394.79 L424.79,394.35 L425.21,393.91 L425.63,393.46 L426.05,393.01 L426.47,392.56 L426.89,392.10 L427.30,391.64 L427.72,391.19 L428.14,390.73 L428.56,390.27 L428.98,389.82 L429.40,389.37 L429.82,388.92 L430.24,388.47 L430.66,388.03 L431.08,387.59 L431.50,387.16 L431.91,386.73 L432.33,386.31 L432.75,385.90 L433.17,385.49 L433.59,385.09 L434.01,384.70 L434.43,384.31 L434.85,383.94 L435.27,383.57 L435.69,383.21 L436.11,382.86 L436.52,382.52 L436.94,382.19 L437.36,381.87 L437.78,381.56 L438.20,381.25 L438.62,380.96 L439.04,380.68 L439.46,380.41 L439.88,380.15 L440.30,379.91 L440.72,379.67 L441.13,379.44 L441.55,379.22 L441.97,379.02 L442.39,378.82 L442.81,378.64 L443.23,378.47 L443.65,378.30 L444.07,378.15 L444.49,378.01 L444.91,377.87 L445.32,377.75 L445.74,377.64 L446.16,377.54 L446.58,377.44 L447.00,377.36 L447.42,377.29 L447.84,377.22 L448.26,377.17 L448.68,377.12 L449.10,377.08 L449.52,377.05 L449.93,377.03 L450.35,377.02 L450.77,377.01 L451.19,377.01 L451.61,377.02 L452.03,377.04 L452.45,377.06 L452.87,377.09 L453.29,377.12 L453.71,377.16 L454.13,377.21 L454.54,377.26 L454.96,377.32 L455.38,377.39 L455.80,377.45 L456.22,377.53 L456.64,377.60 L457.06,377.68 L457.48,377.77 L457.90,377.86 L458.32,377.95 L458.74,378.04 L459.15,378.14 L459.57,378.24 L459.99,378.34 L460.41,378.45 L460.83,378.55 L461.25,378.66 L461.67,378.77 L462.09,378.88 L462.51,379.00 L462.93,379.11 L463.35,379.22 L463.76,379.34 L464.18,379.45 L464.60,379.57 L465.02,379.68 L465.44,379.79 L465.86,379.91 L466.28,380.02 L466.70,380.14 L467.12,380.25 L467.54,380.36 L467.96,380.47 L468.37,380.58 L468.79,380.68 L469.21,380.79 L469.63,380.89 L470.05,381.00 L470.47,381.10 L470.89,381.20 L471.31,381.29 L471.73,381.39 L472.15,381.48 L472.57,381.57 L472.98,381.66 L473.40,381.75 L473.82,381.83 L474.24,381.91 L474.66,381.99 L475.08,382.06 L475.50,382.14 L475.92,382.21 L476.34,382.28 L476.76,382.34 L477.18,382.40 L477.59,382.46 L478.01,382.52 L478.43,382.58 L478.85,382.63 L479.27,382.68 L479.69,382.72 L480.11,382.77 L480.53,382.81 L480.95,382.85 L481.37,382.89 L481.78,382.92 L482.20,382.95 L482.62,382.98 L483.04,383.01 L483.46,383.03 L483.88,383.05 L484.30,383.07 L484.72,383.09 L485.14,383.10 L485.56,383.11 L485.98,383.12 L486.39,383.13 L486.81,383.14 L487.23,383.14 L487.65,383.14 L488.07,383.14 L488.49,383.14 L488.91,383.14 L489.33,383.13 L489.75,383.12 L490.17,383.11 L490.59,383.10 L491.00,383.09 L491.42,383.08 L491.84,383.07 L492.26,383.05 L492.68,383.03 L493.10,383.02 L493.52,383.00 L493.94,382.98 L494.36,382.96 L494.78,382.93 L495.20,382.91 L495.61,382.89 L496.03,382.86 L496.45,382.84 L496.87,382.81 L497.29,382.79 L497.71,382.76 L498.13,382.73 L498.55,382.70 L498.97,382.68 L499.39,382.65 L499.81,382.62 L500.22,382.59 L500.64,382.56 L501.06,382.53 L501.48,382.51 L501.90,382.48 L502.32,382.45 L502.74,382.42 L503.16,382.39 L503.58,382.36 L504.00,382.33 L504.42,382.31 L504.83,382.28 L505.25,382.25 L505.67,382.22 L506.09,382.20 L506.51,382.17 L506.93,382.15 L507.35,382.12 L507.77,382.10 L508.19,382.07 L508.61,382.05 L509.02,382.02 L509.44,382.00 L509.86,381.98 L510.28,381.96 L510.70,381.94 L511.12,381.92 L511.54,381.90 L511.96,381.88 L512.38,381.86 L512.80,381.84 L513.22,381.82 L513.63,381.81 L514.05,381.79 L514.47,381.78 L514.89,381.76 L515.31,381.75 L515.73,381.73 L516.15,381.72 L516.57,381.71 L516.99,381.70 L517.41,381.69 L517.83,381.68 L518.24,381.67 L518.66,381.66 L519.08,381.65 L519.50,381.65 L519.92,381.64 L520.34,381.63 L520.76,381.63 L521.18,381.62 L521.60,381.62 L522.02,381.61 L522.44,381.61 L522.85,381.61 L523.27,381.61 L523.69,381.61 L524.11,381.60 L524.53,381.60 L524.95,381.60 L525.37,381.60 L525.79,381.60 L526.21,381.61 L526.63,381.61 L527.05,381.61 L527.46,381.61 L527.88,381.62 L528.30,381.62 L528.72,381.62 L529.14,381.63 L529.56,381.63 L529.98,381.63 L530.40,381.64 L530.82,381.64 L531.24,381.65 L531.66,381.65 L532.07,381.66 L532.49,381.67 L532.91,381.67 L533.33,381.68 L533.75,381.69 L534.17,381.69 L534.59,381.70 L535.01,381.71 L535.43,381.71 L535.85,381.72 L536.27,381.73 L536.68,381.73 L537.10,381.74 L537.52,381.75 L537.94,381.75 L538.36,381.76 L538.78,381.77 L539.20,381.78 L539.62,381.78 L540.04,381.79 L540.46,381.80 L540.88,381.80 L541.29,381.81 L541.71,381.82 L542.13,381.83 L542.55,381.83 L542.97,381.84 L543.39,381.85 L543.81,381.85 L544.23,381.86 L544.65,381.86 L545.07,381.87 L545.48,381.88 L545.90,381.88 L546.32,381.89 L546.74,381.89 L547.16,381.90 L547.58,381.90 L548.00,381.91 L548.42,381.92 L548.84,381.92 L549.26,381.92 L549.68,381.93 L550.09,381.93 L550.51,381.94 L550.93,381.94 L551.35,381.95 L551.77,381.95 L552.19,381.95 L552.61,381.96 L553.03,381.96 L553.45,381.96 L553.87,381.97 L554.29,381.97 L554.70,381.97 L555.12,381.97 L555.54,381.97 L555.96,381.98 L556.38,381.98 L556.80,381.98 L557.22,381.98 L557.64,381.98 L558.06,381.98 L558.48,381.99 L558.90,381.99 L559.31,381.99 L559.73,381.99 L560.15,381.99 L560.57,381.99 L560.99,381.99 L561.41,381.99 L561.83,381.99 L562.25,381.99 L562.67,381.99 L563.09,381.99 L563.51,381.99 L563.92,381.99 L564.34,381.99 L564.76,381.99 L565.18,381.99 L565.60,381.98 L566.02,381.98 L566.44,381.98 L566.86,381.98 L567.28,381.98 L567.70,381.98 L568.12,381.98 L568.53,381.98 L568.95,381.98 L569.37,381.97 L569.79,381.97 L570.21,381.97 L570.63,381.97 L571.05,381.97 L571.47,381.97 L571.89,381.96 L572.31,381.96 L572.73,381.96 L573.14,381.96 L573.56,381.96 L573.98,381.96 L574.40,381.95 L574.82,381.95 L575.24,381.95 L575.66,381.95 L576.08,381.95 L576.50,381.94 L576.92,381.94 L577.33,381.94 L577.75,381.94 L578.17,381.94 L578.59,381.94 L579.01,381.93 L579.43,381.93 L579.85,381.93 L580.27,381.93 L580.69,381.93 L581.11,381.93 L581.53,381.92 L581.94,381.92 L582.36,381.92 L582.78,381.92 L583.20,381.92 L583.62,381.92 L584.04,381.92 L584.46,381.91 L584.88,381.91 L585.30,381.91 L585.72,381.91 L586.14,381.91 L586.55,381.91 L586.97,381.91 L587.39,381.91 L587.81,381.90 L588.23,381.90 L588.65,381.90 L589.07,381.90 L589.49,381.90 L589.91,381.90 L590.33,381.90 L590.75,381.90 L591.16,381.90 L591.58,381.90 L592.00,381.90 L592.42,381.90 L592.84,381.90 L593.26,381.90 L593.68,381.90 L594.10,381.89 L594.52,381.89 L594.94,381.89 L595.36,381.89 L595.77,381.89 L596.19,381.89 L596.61,381.89 L597.03,381.89 L597.45,381.89 L597.87,381.89 L598.29,381.89 L598.71,381.89 L599.13,381.89 L599.55,381.89 L599.97,381.89 L600.38,381.89 L600.80,381.89 L601.22,381.89 L601.64,381.89 L602.06,381.89 L602.48,381.89 L602.90,381.89 L603.32,381.89 L603.74,381.89 L604.16,381.89 L604.58,381.90 L604.99,381.90 L605.41,381.90 L605.83,381.90 L606.25,381.90 L606.67,381.90 L607.09,381.90 L607.51,381.90 L607.93,381.90 L608.35,381.90 L608.77,381.90 L609.18,381.90 L609.60,381.90 L610.02,381.90 L610.44,381.90 L610.86,381.90 L611.28,381.90 L611.70,381.90 L612.12,381.90 L612.54,381.90 L612.96,381.90 L613.38,381.90 L613.79,381.90 L614.21,381.90 L614.63,381.91 L615.05,381.91 L615.47,381.91 L615.89,381.91 L616.31,381.91 L616.73,381.91 L617.15,381.91 L617.57,381.91 L617.99,381.91 L618.40,381.91 L618.82,381.91 L619.24,381.91 L619.66,381.91 L620.08,381.91 L620.50,381.91 L620.92,381.91 L621.34,381.91 L621.76,381.91 L622.18,381.91 L622.60,381.91 L623.01,381.91 L623.43,381.91 L623.85,381.91 L624.27,381.91 L624.69,381.91 L625.11,381.91 L625.53,381.91 L625.95,381.91 L626.37,381.91 L626.79,381.91 L627.21,381.92 L627.62,381.92 L628.04,381.92 L628.46,381.92 L628.88,381.92 L629.30,381.92 L629.72,381.92 L630.14,381.92 L630.56,381.92 L630.98,381.92 L631.40,381.92 L631.82,381.92 L632.23,381.92 L632.65,381.92 L633.07,381.92 L633.49,381.92 L633.91,381.92 L634.33,381.92 L634.75,381.92 L635.17,381.92 L635.59,381.92 L636.01,381.92 L636.43,381.92 L636.84,381.92 L637.26,381.92 L637.68,381.92 L638.10,381.92 L638.52,381.92 L638.94,381.92 L639.36,381.92 L639.78,381.92 L640.20,381.92 L640.62,381.92 L641.03,381.92 L641.45,381.92 L641.87,381.92 L642.29,381.92 L642.71,381.92 L643.13,381.92 L643.55,381.92 L643.97,381.92 L644.39,381.92 L644.81,381.92 L645.23,381.92 L645.64,381.92 L646.06,381.92 L646.48,381.92 L646.90,381.92 L647.32,381.91 L647.74,381.91 L648.16,381.91 L648.58,381.91 L649.00,381.91 L649.42,381.91 L649.84,381.91 L650.25,381.91 L650.67,381.91 L651.09,381.91 L651.51,381.91 L651.93,381.91 L652.35,381.91 L652.77,381.91 L653.19,381.91 L653.61,381.91 L654.03,381.91 L654.45,381.91 L654.86,381.91 L655.28,381.91 L655.70,381.91 L656.12,381.91 L656.54,381.91 L656.96,381.91 L657.38,381.91 L657.80,381.91 L658.22,381.91 L658.64,381.91 L659.06,381.91 L659.47,381.91 L659.89,381.91 L660.31,381.91 L660.73,381.91 L661.15,381.91 L661.57,381.91 L661.99,381.91 L662.41,381.91 L662.83,381.91 L663.25,381.91 L663.67,381.91 L664.08,381.91 L664.50,381.91 L664.92,381.91 L665.34,381.91 L665.76,381.91 L666.18,381.91 L666.60,381.91 L667.02,381.91 L667.44,381.91 L667.86,381.91 L668.28,381.91 L668.69,381.91 L669.11,381.91 L669.53,381.91 L669.95,381.91 L670.37,381.91 L670.79,381.91 L671.21,381.91 L671.63,381.91 L672.05,381.91 L672.47,381.91 L672.88,381.91 L673.30,381.91 L673.72,381.91 L674.14,381.91 L674.56,381.91 L674.98,381.91 L675.40,381.91 L675.82,381.91 L676.24,381.91 L676.66,381.91 L677.08,381.91 L677.49,381.91 L677.91,381.91 L678.33,381.91 L678.75,381.91 L679.17,381.91 L679.59,381.91 L680.01,381.91 L680.43,381.91 L680.85,381.91 L681.27,381.91 L681.69,381.91 L682.10,381.91 L682.52,381.91 L682.94,381.91 L683.36,381.91 L683.78,381.91 L684.20,381.91" style="stroke:#000000;stroke-width:3;stroke-dasharray:14.7 8.8"/>
</g>
<g font-family='"Liberation Sans", sans-serif' font-size="17.6" fill="#000"><text x="46.90" y="237.0" text-anchor="middle">0</text><text x="130.12" y="237.0" text-anchor="middle">50</text><text x="213.93" y="237.0" text-anchor="middle">100</text><text x="297.75" y="237.0" text-anchor="middle">150</text><text x="381.56" y="237.0" text-anchor="middle">200</text><text x="465.38" y="237.0" text-anchor="middle">250</text><text x="549.19" y="237.0" text-anchor="middle">300</text><text x="633.01" y="237.0" text-anchor="middle">350</text><text x="41.00" y="219.50" text-anchor="end">0</text><text x="41.00" y="146.74" text-anchor="end">1</text><text x="41.00" y="73.98" text-anchor="end">2</text></g>
<g font-family='"Liberation Sans", sans-serif' font-size="17.6" fill="#000"><text x="46.90" y="515.0" text-anchor="middle">0</text><text x="130.12" y="515.0" text-anchor="middle">50</text><text x="213.93" y="515.0" text-anchor="middle">100</text><text x="297.75" y="515.0" text-anchor="middle">150</text><text x="381.56" y="515.0" text-anchor="middle">200</text><text x="465.38" y="515.0" text-anchor="middle">250</text><text x="549.19" y="515.0" text-anchor="middle">300</text><text x="633.01" y="515.0" text-anchor="middle">350</text><text x="41.00" y="498.30" text-anchor="end">0</text><text x="41.00" y="426.04" text-anchor="end">1</text><text x="41.00" y="353.78" text-anchor="end">2</text></g>
<g font-family='"Liberation Serif", serif' font-size="19.3" fill="#000">
<text x="365.5" y="539.5" text-anchor="middle">Time (s)</text>
<text transform="translate(13.3,105.8) rotate(-90)" text-anchor="middle" font-size="19.6">Process Output</text>
<text transform="translate(13.4,385.8) rotate(-90)" text-anchor="middle" font-size="19.6">Control Signal (%)</text>
</g>
<rect x="523.8" y="12.5" width="144.3" height="150.8" fill="#fff" stroke="#262626" stroke-width="1.2"/>
<path d="M529.9,27.20 L588.9,27.20" fill="none" style="stroke:#0000ff;stroke-width:3"/>
<text x="593.8" y="34.40" font-family='"Liberation Serif", serif' font-size="19.4" fill="#000">Setpoint</text>
<path d="M529.9,51.42 L588.9,51.42" fill="none" style="stroke:#ff0000;stroke-width:2.8;stroke-dasharray:1.5 4.375"/>
<text x="593.8" y="58.62" font-family='"Liberation Serif", serif' font-size="19.4" fill="#000">PI</text>
<path d="M529.9,75.64 L588.9,75.64" fill="none" style="stroke:#00ff00;stroke-width:2.8;stroke-dasharray:14.7 8.8"/>
<text x="593.8" y="82.84" font-family='"Liberation Serif", serif' font-size="19.4" fill="#000">FOPI</text>
<path d="M529.9,99.86 L588.9,99.86" fill="none" style="stroke:#ff00ff;stroke-width:2.8;stroke-dasharray:11.9 4.15 3.2 4.25"/>
<text x="593.8" y="107.06" font-family='"Liberation Serif", serif' font-size="19.4" fill="#000">PPI</text>
<path d="M529.9,124.08 L588.9,124.08" fill="none" style="stroke:#000000;stroke-width:3"/>
<text x="593.8" y="131.28" font-family='"Liberation Serif", serif' font-size="19.4" fill="#000">FOPPI</text>
<path d="M529.9,148.30 L588.9,148.30" fill="none" style="stroke:#000000;stroke-width:3;stroke-dasharray:14.7 8.8"/>
<text x="593.8" y="155.50" font-family='"Liberation Serif", serif' font-size="19.4" fill="#000">Wireless</text>
</svg></body></html>
